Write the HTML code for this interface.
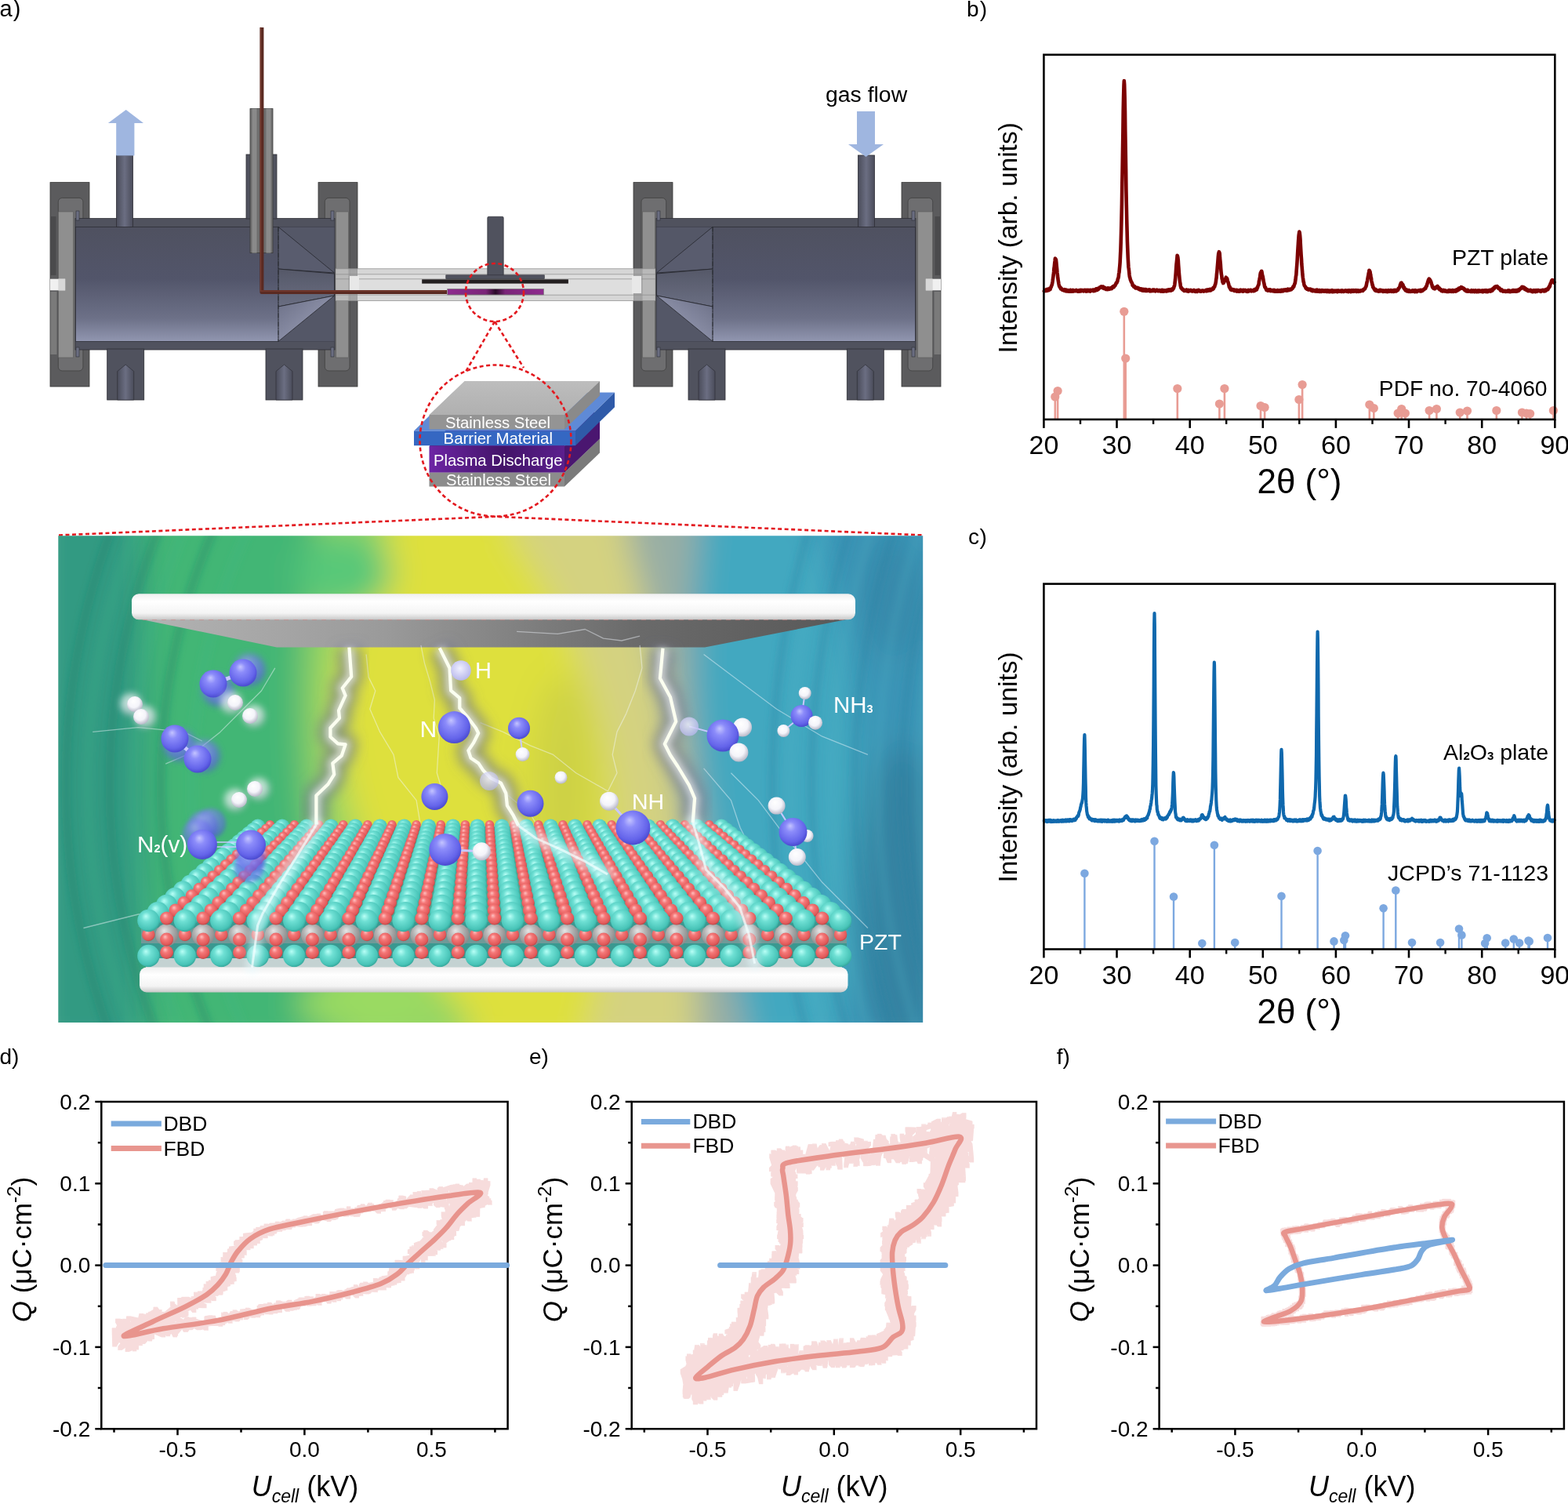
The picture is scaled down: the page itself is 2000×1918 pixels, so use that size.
<!DOCTYPE html>
<html><head><meta charset="utf-8"><title>Figure</title>
<style>html,body{margin:0;padding:0;background:#fff;}svg{display:block;}</style>
</head><body>
<svg width="2000" height="1918" viewBox="0 0 2000 1918" font-family="'Liberation Sans', Arial, sans-serif">
<defs>
<linearGradient id="bodyG" x1="0" y1="0" x2="0" y2="1">
  <stop offset="0" stop-color="#4f5160"/>
  <stop offset="0.45" stop-color="#52556a"/>
  <stop offset="0.8" stop-color="#6d7188"/>
  <stop offset="1" stop-color="#9196b0"/>
</linearGradient>
<linearGradient id="pipeG" x1="0" y1="0" x2="1" y2="0">
  <stop offset="0" stop-color="#4a4c5a"/>
  <stop offset="0.5" stop-color="#6b6e82"/>
  <stop offset="1" stop-color="#4a4c5a"/>
</linearGradient>
<linearGradient id="coneG" x1="0" y1="0" x2="1" y2="1">
  <stop offset="0" stop-color="#6a6e85"/>
  <stop offset="1" stop-color="#a4a8c0"/>
</linearGradient>
<linearGradient id="coneM" x1="0" y1="0" x2="0" y2="1">
  <stop offset="0" stop-color="#555868"/>
  <stop offset="1" stop-color="#6a6e82"/>
</linearGradient>
<linearGradient id="purpG" x1="0" y1="0" x2="1" y2="0">
  <stop offset="0" stop-color="#8e2a8e"/>
  <stop offset="0.4" stop-color="#7a2478"/>
  <stop offset="0.5" stop-color="#2a0a28"/>
  <stop offset="0.6" stop-color="#7a2478"/>
  <stop offset="1" stop-color="#8e2a8e"/>
</linearGradient>
<linearGradient id="ssTop" x1="0" y1="0" x2="0" y2="1">
  <stop offset="0" stop-color="#bdbdbd"/>
  <stop offset="1" stop-color="#b0b0b0"/>
</linearGradient>
<linearGradient id="plasmaG" x1="0" y1="0" x2="1" y2="0">
  <stop offset="0" stop-color="#6d25a5"/>
  <stop offset="0.55" stop-color="#431468"/>
  <stop offset="1" stop-color="#5c1f8e"/>
</linearGradient>

<linearGradient id="bgH" x1="74" y1="0" x2="1177" y2="0" gradientUnits="userSpaceOnUse">
  <stop offset="0" stop-color="#2f9a86"/>
  <stop offset="0.12" stop-color="#2f9a7c"/>
  <stop offset="0.25" stop-color="#3cae78"/>
  <stop offset="0.33" stop-color="#4cc378"/>
  <stop offset="0.38" stop-color="#60c870"/>
  <stop offset="0.43" stop-color="#b8dc58"/>
  <stop offset="0.47" stop-color="#dde23e"/>
  <stop offset="0.55" stop-color="#dfe040"/>
  <stop offset="0.62" stop-color="#d6d878"/>
  <stop offset="0.67" stop-color="#c8c47a"/>
  <stop offset="0.71" stop-color="#8cb4a0"/>
  <stop offset="0.76" stop-color="#48a8b4"/>
  <stop offset="0.88" stop-color="#3ca6bf"/>
  <stop offset="1" stop-color="#3a8eae"/>
</linearGradient>
<radialGradient id="ringL" cx="120" cy="980" r="330" gradientUnits="userSpaceOnUse">
  <stop offset="0" stop-color="#1f7a6a" stop-opacity="0.45"/>
  <stop offset="0.35" stop-color="#2a8a70" stop-opacity="0.3"/>
  <stop offset="0.55" stop-color="#2a8a70" stop-opacity="0"/>
  <stop offset="1" stop-color="#2a8a70" stop-opacity="0"/>
</radialGradient>
<radialGradient id="ringR" cx="1177" cy="1000" r="300" gradientUnits="userSpaceOnUse">
  <stop offset="0" stop-color="#2f6f98" stop-opacity="0.5"/>
  <stop offset="0.5" stop-color="#3a80a8" stop-opacity="0.25"/>
  <stop offset="1" stop-color="#3a80a8" stop-opacity="0"/>
</radialGradient>
<linearGradient id="bgV" x1="0" y1="683" x2="0" y2="1304" gradientUnits="userSpaceOnUse">
  <stop offset="0" stop-color="#ffffff" stop-opacity="0.05"/>
  <stop offset="0.6" stop-color="#ffffff" stop-opacity="0"/>
  <stop offset="1" stop-color="#80d060" stop-opacity="0.12"/>
</linearGradient>
<radialGradient id="gT" cx="0.45" cy="0.4" r="0.6" fx="0.38" fy="0.3">
  <stop offset="0" stop-color="#b8fff6"/>
  <stop offset="0.35" stop-color="#6fe0d4"/>
  <stop offset="0.85" stop-color="#48c4b8"/>
  <stop offset="1" stop-color="#35a89c"/>
</radialGradient>
<radialGradient id="gR" cx="0.45" cy="0.4" r="0.6" fx="0.38" fy="0.3">
  <stop offset="0" stop-color="#ffc0c0"/>
  <stop offset="0.35" stop-color="#f57878"/>
  <stop offset="0.85" stop-color="#e05858"/>
  <stop offset="1" stop-color="#b84444"/>
</radialGradient>
<radialGradient id="gG" cx="0.45" cy="0.4" r="0.6" fx="0.38" fy="0.3">
  <stop offset="0" stop-color="#e6e6e6"/>
  <stop offset="0.5" stop-color="#b4b4b4"/>
  <stop offset="1" stop-color="#8a8a8a"/>
</radialGradient>
<radialGradient id="gB" cx="0.45" cy="0.4" r="0.6" fx="0.4" fy="0.28">
  <stop offset="0" stop-color="#c4c4ff"/>
  <stop offset="0.3" stop-color="#8c8cfa"/>
  <stop offset="0.8" stop-color="#6464ea"/>
  <stop offset="1" stop-color="#4a4ad0"/>
</radialGradient>
<radialGradient id="gW" cx="0.45" cy="0.4" r="0.6" fx="0.4" fy="0.3">
  <stop offset="0" stop-color="#ffffff"/>
  <stop offset="0.6" stop-color="#f4f4fa"/>
  <stop offset="1" stop-color="#b8b8c8"/>
</radialGradient>
<radialGradient id="gV" cx="0.45" cy="0.4" r="0.6">
  <stop offset="0" stop-color="#f0f0ff"/>
  <stop offset="1" stop-color="#b8b8ec"/>
</radialGradient>
<linearGradient id="plateTop" x1="0" y1="0" x2="0" y2="1">
  <stop offset="0" stop-color="#f0f0f0"/>
  <stop offset="0.3" stop-color="#ffffff"/>
  <stop offset="0.75" stop-color="#f4f4f4"/>
  <stop offset="1" stop-color="#c8c8c8"/>
</linearGradient>
<linearGradient id="plateUnder" x1="170" y1="0" x2="1090" y2="0" gradientUnits="userSpaceOnUse">
  <stop offset="0" stop-color="#b4b4b4"/>
  <stop offset="0.35" stop-color="#9a9a9a"/>
  <stop offset="0.7" stop-color="#6a6a6a"/>
  <stop offset="1" stop-color="#585858"/>
</linearGradient>
<filter id="blur2" x="-20%" y="-20%" width="140%" height="140%"><feGaussianBlur stdDeviation="2.5"/></filter>
<filter id="blur4" x="-30%" y="-30%" width="160%" height="160%"><feGaussianBlur stdDeviation="4"/></filter>
<filter id="blur8" x="-50%" y="-50%" width="200%" height="200%"><feGaussianBlur stdDeviation="8"/></filter>
<filter id="blur20" x="-50%" y="-50%" width="200%" height="200%"><feGaussianBlur stdDeviation="20"/></filter>
<clipPath id="illClip"><rect x="74.3" y="683.3" width="1102.9" height="620.7"/></clipPath>
<filter id="dil" x="-5%" y="-5%" width="110%" height="110%"><feMorphology operator="dilate" radius="2.2"/></filter></defs>
<rect width="2000" height="1918" fill="#fff"/>
<text x="-0.5" y="21.3" font-size="29" letter-spacing="1">a)</text>
<g><rect x="64" y="232.6" width="50" height="260.4" fill="#5b5b5d" stroke="#3a3a3a" stroke-width="0.8"/>
<rect x="406" y="232.6" width="50" height="260.4" fill="#5b5b5d" stroke="#3a3a3a" stroke-width="0.8"/>
<rect x="74.3" y="252.4" width="31.60000000000001" height="220.5" rx="5" fill="#6e6e70" stroke="#404040" stroke-width="0.8"/>
<rect x="74.3" y="270" width="19.200000000000003" height="186" fill="#8f8f8f" stroke="#5a5a5a" stroke-width="0.6"/>
<rect x="414.3" y="252.4" width="31.69999999999999" height="220.5" rx="5" fill="#6e6e70" stroke="#404040" stroke-width="0.8"/>
<rect x="428.6" y="270" width="16.0" height="186" fill="#8f8f8f" stroke="#5a5a5a" stroke-width="0.6"/>
<rect x="96" y="278.6" width="331" height="167.4" fill="#50525e" stroke="#2e2f36" stroke-width="0.8"/>
<rect x="136.7" y="445" width="47.0" height="65" fill="#50525e" stroke="#2e2f36" stroke-width="0.8"/>
<path d="M149.7 510 L149.7 473.5 L160.2 465 L170.7 473.5 L170.7 510Z" fill="url(#pipeG)" stroke="#2e2f36" stroke-width="0.7"/>
<rect x="339" y="445" width="47" height="65" fill="#50525e" stroke="#2e2f36" stroke-width="0.8"/>
<path d="M352.0 510 L352.0 473.5 L362.5 465 L373.0 473.5 L373.0 510Z" fill="url(#pipeG)" stroke="#2e2f36" stroke-width="0.7"/>
<rect x="96.5" y="289.4" width="330" height="146" fill="url(#bodyG)" stroke="#2e2f36" stroke-width="0.8"/>
<polygon points="355,289.4 426.5,289.4 426.5,435.4 355,435.4" fill="#545767"/>
<polygon points="355,289.4 426.5,348 355,343" fill="#595c6e" stroke="#25262c" stroke-width="0.8"/>
<polygon points="355,343 426.5,349 426.5,377 355,391" fill="url(#coneM)" stroke="#25262c" stroke-width="0.8"/>
<polygon points="355,391 426.5,377 355,435.4" fill="url(#coneG)" stroke="#25262c" stroke-width="0.8"/>
<line x1="355" y1="289.4" x2="355" y2="435.4" stroke="#25262c" stroke-width="0.8" stroke-dasharray="6 2 1 2"/>
<rect x="64" y="355.7" width="19" height="14.6" fill="#f0f0f0"/>
<rect x="74.3" y="355.7" width="9" height="14.6" fill="#d8d8d8"/>
<rect x="64.5" y="276" width="7" height="75" fill="#4a4a4c"/>
<rect x="64.5" y="372" width="8" height="80" fill="#7a7a7a"/>
<rect x="97" y="269" width="4" height="12" fill="#6a6d80" stroke="#2e2f36" stroke-width="0.6"/>
<rect x="422" y="269" width="4" height="12" fill="#6a6d80" stroke="#2e2f36" stroke-width="0.6"/>
<rect x="97" y="443" width="4" height="12" fill="#6a6d80" stroke="#2e2f36" stroke-width="0.6"/>
<rect x="422" y="443" width="4" height="12" fill="#6a6d80" stroke="#2e2f36" stroke-width="0.6"/>
<rect x="148.5" y="198" width="21" height="91.5" fill="url(#pipeG)" stroke="#2e2f36" stroke-width="0.8"/></g>
<g transform="translate(1264 0) scale(-1 1)"><rect x="64" y="232.6" width="50" height="260.4" fill="#5b5b5d" stroke="#3a3a3a" stroke-width="0.8"/>
<rect x="406" y="232.6" width="50" height="260.4" fill="#5b5b5d" stroke="#3a3a3a" stroke-width="0.8"/>
<rect x="74.3" y="252.4" width="31.60000000000001" height="220.5" rx="5" fill="#6e6e70" stroke="#404040" stroke-width="0.8"/>
<rect x="74.3" y="270" width="19.200000000000003" height="186" fill="#8f8f8f" stroke="#5a5a5a" stroke-width="0.6"/>
<rect x="414.3" y="252.4" width="31.69999999999999" height="220.5" rx="5" fill="#6e6e70" stroke="#404040" stroke-width="0.8"/>
<rect x="428.6" y="270" width="16.0" height="186" fill="#8f8f8f" stroke="#5a5a5a" stroke-width="0.6"/>
<rect x="96" y="278.6" width="331" height="167.4" fill="#50525e" stroke="#2e2f36" stroke-width="0.8"/>
<rect x="136.7" y="445" width="47.0" height="65" fill="#50525e" stroke="#2e2f36" stroke-width="0.8"/>
<path d="M149.7 510 L149.7 473.5 L160.2 465 L170.7 473.5 L170.7 510Z" fill="url(#pipeG)" stroke="#2e2f36" stroke-width="0.7"/>
<rect x="339" y="445" width="47" height="65" fill="#50525e" stroke="#2e2f36" stroke-width="0.8"/>
<path d="M352.0 510 L352.0 473.5 L362.5 465 L373.0 473.5 L373.0 510Z" fill="url(#pipeG)" stroke="#2e2f36" stroke-width="0.7"/>
<rect x="96.5" y="289.4" width="330" height="146" fill="url(#bodyG)" stroke="#2e2f36" stroke-width="0.8"/>
<polygon points="355,289.4 426.5,289.4 426.5,435.4 355,435.4" fill="#545767"/>
<polygon points="355,289.4 426.5,348 355,343" fill="#595c6e" stroke="#25262c" stroke-width="0.8"/>
<polygon points="355,343 426.5,349 426.5,377 355,391" fill="url(#coneM)" stroke="#25262c" stroke-width="0.8"/>
<polygon points="355,391 426.5,377 355,435.4" fill="url(#coneG)" stroke="#25262c" stroke-width="0.8"/>
<line x1="355" y1="289.4" x2="355" y2="435.4" stroke="#25262c" stroke-width="0.8" stroke-dasharray="6 2 1 2"/>
<rect x="64" y="355.7" width="19" height="14.6" fill="#f0f0f0"/>
<rect x="74.3" y="355.7" width="9" height="14.6" fill="#d8d8d8"/>
<rect x="64.5" y="276" width="7" height="75" fill="#4a4a4c"/>
<rect x="64.5" y="372" width="8" height="80" fill="#7a7a7a"/>
<rect x="97" y="269" width="4" height="12" fill="#6a6d80" stroke="#2e2f36" stroke-width="0.6"/>
<rect x="422" y="269" width="4" height="12" fill="#6a6d80" stroke="#2e2f36" stroke-width="0.6"/>
<rect x="97" y="443" width="4" height="12" fill="#6a6d80" stroke="#2e2f36" stroke-width="0.6"/>
<rect x="422" y="443" width="4" height="12" fill="#6a6d80" stroke="#2e2f36" stroke-width="0.6"/>
<rect x="148.5" y="198" width="21" height="91.5" fill="url(#pipeG)" stroke="#2e2f36" stroke-width="0.8"/></g>
<g opacity="0.6"><rect x="428" y="342.7" width="28" height="40.8" fill="#d6d6d6"/><rect x="808" y="342.7" width="28" height="40.8" fill="#d6d6d6"/></g>
<rect x="456" y="342.7" width="352" height="40.8" fill="#d6d6d6"/>
<rect x="456" y="349.8" width="352" height="26.4" fill="#dedede"/>
<line x1="428" y1="342.7" x2="836" y2="342.7" stroke="#8c8c8c" stroke-width="0.9" stroke-opacity="0.8"/>
<line x1="428" y1="349.8" x2="836" y2="349.8" stroke="#8c8c8c" stroke-width="0.9" stroke-opacity="0.8"/>
<line x1="428" y1="355.8" x2="836" y2="355.8" stroke="#8c8c8c" stroke-width="0.9" stroke-opacity="0.8"/>
<line x1="428" y1="376.2" x2="836" y2="376.2" stroke="#8c8c8c" stroke-width="0.9" stroke-opacity="0.8"/>
<line x1="428" y1="383.5" x2="836" y2="383.5" stroke="#8c8c8c" stroke-width="0.9" stroke-opacity="0.8"/>
<rect x="446" y="352" width="12" height="22" fill="#e8e8e8"/>
<rect x="806" y="352" width="12" height="22" fill="#e8e8e8"/>
<rect x="621.8" y="276.3" width="20.4" height="76" rx="1.5" fill="#50525e" stroke="#2e2f36" stroke-width="0.7"/>
<rect x="568.8" y="350.8" width="125.5" height="4.8" fill="#50525e" stroke="#2e2f36" stroke-width="0.6"/>
<rect x="538.2" y="356.3" width="186.7" height="5.3" fill="#231f20"/>
<rect x="570.8" y="368.6" width="122.5" height="7.3" fill="url(#purpG)" stroke="#666" stroke-width="0.6"/>
<rect x="314" y="197" width="39" height="82" fill="#50525e" stroke="#2e2f36" stroke-width="0.8"/>
<rect x="319" y="138.6" width="29" height="184" fill="#6e6e6e" stroke="#3a3a3a" stroke-width="0.8"/>
<rect x="321.5" y="138.6" width="6" height="184" fill="#8a8a8a"/>
<rect x="339.5" y="138.6" width="6" height="184" fill="#8a8a8a"/>
<path d="M333.9 35 L333.9 372.5 L570 372.5" fill="none" stroke="#5a2a22" stroke-width="5" stroke-linejoin="round"/>
<path d="M333.9 36 L333.9 372.5 L570 372.5" fill="none" stroke="#7a3c30" stroke-width="1.2" stroke-linejoin="round" transform="translate(-1.3 -1.3)"/>
<polygon points="148.2,198.6 148.2,157.1 137.9,157.1 160.7,140 183,157.1 171.4,157.1 171.4,198.6" fill="#9fb6e0"/>
<polygon points="1093,142 1116,142 1116,184 1127,184 1104.5,200 1082,184 1093,184" fill="#9fb6e0"/>
<text x="1053" y="130" font-family="'Liberation Sans', Arial, sans-serif" font-size="28.4">gas flow</text>
<polygon points="547.5,602.5 592.5,559.5 765,559.5 720,602.5" fill="#9a9a9a"/><polygon points="720,602.5 765,559.5 765,577.5 720,620.5" fill="#7a7a7a"/><rect x="547.5" y="602.5" width="172.5" height="18.0" fill="#8c8c8c"/>
<polygon points="547.5,569 592.5,526 765,526 720,569" fill="#5a1d86"/><polygon points="720,569 765,526 765,559.5 720,602.5" fill="#4a1670"/><rect x="547.5" y="569" width="172.5" height="33.5" fill="url(#plasmaG)"/>
<polygon points="528,549.5 578,500.5 784,500.5 734,549.5" fill="#5f8ad6"/><polygon points="734,549.5 784,500.5 784,519.2 734,568.2" fill="#2f5aa8"/><rect x="528" y="549.5" width="206" height="18.700000000000045" fill="#3567c2"/>
<polygon points="547.5,529 592.5,486 765,486 720,529" fill="url(#ssTop)"/><polygon points="720,529 765,486 765,504.5 720,547.5" fill="#8a8a8a"/><rect x="547.5" y="529" width="172.5" height="18.5" fill="#949494"/>
<text x="635" y="546" font-family="'Liberation Sans', Arial, sans-serif" fill="#fff" text-anchor="middle" font-size="20.3">Stainless Steel</text>
<text x="635.3" y="566.3" font-family="'Liberation Sans', Arial, sans-serif" fill="#fff" text-anchor="middle" font-size="20.4">Barrier Material</text>
<text x="635.3" y="594.4" font-family="'Liberation Sans', Arial, sans-serif" fill="#fff" text-anchor="middle" font-size="20.3">Plasma Discharge</text>
<text x="636" y="618.6" font-family="'Liberation Sans', Arial, sans-serif" fill="#fff" text-anchor="middle" font-size="20.3">Stainless Steel</text>
<circle cx="631" cy="373" r="37" stroke="#e3191f" stroke-width="2.6" fill="none" stroke-dasharray="5 3.5"/>
<path d="M631 410 L594 474 M631 410 L668 469" stroke="#e3191f" stroke-width="2.6" fill="none" stroke-dasharray="5 3.5"/>
<circle cx="632" cy="562" r="96.5" stroke="#e3191f" stroke-width="2.6" fill="none" stroke-dasharray="5 3.5"/>
<path d="M75 682.5 L632 658.8 L1178 682.5" stroke="#e3191f" stroke-width="2.6" fill="none" stroke-dasharray="5 3.5"/>
<g clip-path="url(#illClip)">
<g filter="url(#blur20)">
<path d="M40 640 L185 640 L185 683 Q189.5 960 188 1304 L188 1345 L40 1345 L40 1304 Q40.0 960 40 683 Z" fill="#309a82"/>
<path d="M183 640 L407 640 L407 683 Q357.5 960 442 1304 L442 1345 L186 1345 L186 1304 Q187.5 960 183 683 Z" fill="#42b674"/>
<path d="M405 640 L497 640 L497 683 Q322.5 960 602 1304 L602 1345 L440 1345 L440 1304 Q355.5 960 405 683 Z" fill="#94d464"/>
<path d="M495 640 L655 640 L655 683 Q854.5 960 752 1304 L752 1345 L600 1345 L600 1304 Q320.5 960 495 683 Z" fill="#dee03e"/>
<path d="M653 640 L802 640 L802 683 Q881.0 960 892 1304 L892 1345 L750 1345 L750 1304 Q852.5 960 653 683 Z" fill="#d4d280"/>
<path d="M800 640 L893 640 L893 683 Q861.5 960 952 1304 L952 1345 L890 1345 L890 1304 Q879.0 960 800 683 Z" fill="#98aea4"/>
<path d="M891 640 L1042 640 L1042 683 Q1144.5 960 1077 1304 L1077 1345 L950 1345 L950 1304 Q859.5 960 891 683 Z" fill="#42a8c0"/>
<path d="M1040 640 L1217 640 L1217 683 Q1217.0 960 1217 1304 L1217 1345 L1075 1345 L1075 1304 Q1142.5 960 1040 683 Z" fill="#3a94b6"/>
<ellipse cx="440" cy="730" rx="60" ry="50" fill="#58c878"/>
<ellipse cx="720" cy="1000" rx="40" ry="140" fill="#c8cc48" opacity="0.7"/>
<ellipse cx="470" cy="1280" rx="90" ry="40" fill="#9ada62"/>
<ellipse cx="1150" cy="1150" rx="60" ry="200" fill="#367e9e" opacity="0.8"/>
<ellipse cx="1140" cy="760" rx="40" ry="80" fill="#3886a6" opacity="0.7"/>
</g>
<circle cx="1020" cy="1000" r="936" fill="none" stroke="#1f7a66" stroke-opacity="0.32" stroke-width="11" filter="url(#blur4)"/>
<circle cx="1020" cy="1000" r="908" fill="none" stroke="#44b48a" stroke-opacity="0.22" stroke-width="11" filter="url(#blur4)"/>
<circle cx="1020" cy="1000" r="880" fill="none" stroke="#1f7a66" stroke-opacity="0.32" stroke-width="11" filter="url(#blur4)"/>
<circle cx="1020" cy="1000" r="850" fill="none" stroke="#44b48a" stroke-opacity="0.22" stroke-width="11" filter="url(#blur4)"/>
<circle cx="1020" cy="1000" r="815" fill="none" stroke="#1f7a66" stroke-opacity="0.32" stroke-width="11" filter="url(#blur4)"/>
<circle cx="1020" cy="1000" r="775" fill="none" stroke="#44b48a" stroke-opacity="0.22" stroke-width="11" filter="url(#blur4)"/>
<circle cx="2150" cy="1000" r="1165" fill="none" stroke="#2a7fa0" stroke-opacity="0.3" stroke-width="10" filter="url(#blur4)"/>
<circle cx="2150" cy="1000" r="1142" fill="none" stroke="#52b6c8" stroke-opacity="0.2" stroke-width="10" filter="url(#blur4)"/>
<circle cx="2150" cy="1000" r="1115" fill="none" stroke="#2a7fa0" stroke-opacity="0.3" stroke-width="10" filter="url(#blur4)"/>
<circle cx="2150" cy="1000" r="1088" fill="none" stroke="#52b6c8" stroke-opacity="0.2" stroke-width="10" filter="url(#blur4)"/>
<circle cx="2150" cy="1000" r="1060" fill="none" stroke="#2a7fa0" stroke-opacity="0.3" stroke-width="10" filter="url(#blur4)"/>
<circle cx="2150" cy="1000" r="1030" fill="none" stroke="#52b6c8" stroke-opacity="0.2" stroke-width="10" filter="url(#blur4)"/>
<circle cx="2150" cy="1000" r="1000" fill="none" stroke="#2a7fa0" stroke-opacity="0.3" stroke-width="10" filter="url(#blur4)"/>
<circle cx="2150" cy="1000" r="978" fill="none" stroke="#52b6c8" stroke-opacity="0.2" stroke-width="10" filter="url(#blur4)"/>
<polygon points="176,789 1085,789 899,825.5 353,825.5" fill="url(#plateUnder)"/>
<rect x="168" y="757.3" width="923" height="33" rx="9" fill="url(#plateTop)"/>
<line x1="182" y1="790.5" x2="1078" y2="790.5" stroke="#d08888" stroke-width="1" stroke-dasharray="6 6" opacity="0.6"/>
<path d="M467.1 834.5 L470.1 863.6 L478.8 881 L471.8 904.3 L484.6 933.4 L502 962.4 L507.9 991.5 L531.1 1020.6 L536.9 1055.5" fill="none" stroke="#f4f8ff" stroke-opacity="0.45" stroke-width="1.3" stroke-linejoin="round"/>
<path d="M536.9 822.9 L541.6 846.1 L548.6 869.4 L554.4 892.7 L553.2 915.9 L560.2 939.2 L557.3 985.7 L566 1014.8" fill="none" stroke="#f4f8ff" stroke-opacity="0.45" stroke-width="1.3" stroke-linejoin="round"/>
<path d="M816.1 822.9 L819 851.9 L810.3 881 L798.7 910.1 L787 933.4 L781.2 962.4 L787 985.7 L775.4 1009" fill="none" stroke="#f4f8ff" stroke-opacity="0.45" stroke-width="1.3" stroke-linejoin="round"/>
<path d="M659.1 805.4 L711.4 808.3 L746.3 802.5 L769.6 814.1 L792.9 817 L816.1 811.2" fill="none" stroke="#f4f8ff" stroke-opacity="0.45" stroke-width="1.3" stroke-linejoin="round"/>
<path d="M612.6 921.7 L641.6 933.4 L676.5 950.8 L705.6 962.4 L734.7 985.7 L775.4 1009" fill="none" stroke="#f4f8ff" stroke-opacity="0.45" stroke-width="1.3" stroke-linejoin="round"/>
<path d="M211.2 974.1 L251.9 956.6 L281 933.4 L310.1 904.3 L333.4 881 L350.8 851.9" fill="none" stroke="#f4f8ff" stroke-opacity="0.45" stroke-width="1.3" stroke-linejoin="round"/>
<path d="M118.2 933.4 L176.3 927.6 L234.5 933.4 L257.8 945" fill="none" stroke="#f4f8ff" stroke-opacity="0.45" stroke-width="1.3" stroke-linejoin="round"/>
<path d="M897.6 834.5 L944.1 869.4 L990.6 904.3 L1048.8 939.2 L1106.9 962.4" fill="none" stroke="#f4f8ff" stroke-opacity="0.45" stroke-width="1.3" stroke-linejoin="round"/>
<path d="M932.4 985.7 L967.3 1020.6 L1002.2 1067.1 L1048.8 1125.3 L1106.9 1183.5" fill="none" stroke="#f4f8ff" stroke-opacity="0.45" stroke-width="1.3" stroke-linejoin="round"/>
<path d="M304.3 1183.5 L362.4 1160.2 L409 1125.3 L420.6 1090.4" fill="none" stroke="#f4f8ff" stroke-opacity="0.45" stroke-width="1.3" stroke-linejoin="round"/>
<path d="M897.6 979.9 L932.4 1020.6 L944.1 1055.5 L967.3 1102" fill="none" stroke="#f4f8ff" stroke-opacity="0.45" stroke-width="1.3" stroke-linejoin="round"/>
<path d="M641.6 1009 L676.5 1038.1 L694 1067.1 L699.8 1125.3 L711.4 1183.5 L728.9 1235.8" fill="none" stroke="#f4f8ff" stroke-opacity="0.45" stroke-width="1.3" stroke-linejoin="round"/>
<path d="M106.5 1183.5 L176.3 1166 L251.9 1160.2 L292.7 1148.6" fill="none" stroke="#f4f8ff" stroke-opacity="0.45" stroke-width="1.3" stroke-linejoin="round"/>
<path d="M467.1 1102 L455.5 1136.9 L432.2 1171.8 L420.6 1212.6 L409 1241.6" fill="none" stroke="#f4f8ff" stroke-opacity="0.45" stroke-width="1.3" stroke-linejoin="round"/>
<path d="M445.4 825.7 L448.2 863 L436.7 877.5 L440.6 887 L432 906 L433 915.8 L421.4 928.2 L421.4 939.7 L431 948.4 L440.6 949.3 L435.8 963.7 L424.3 973.3 L426.2 987.6 L418.5 1000 L403.4 1014.4 L403.4 1051.8" fill="none" stroke="#6a7290" stroke-opacity="0.6" stroke-width="30" stroke-linejoin="round" filter="url(#blur8)"/>
<path d="M560.7 826.4 L573.5 852 L575.1 880.6 L586.3 890.2 L586.3 903 L597.4 915.7 L607 928.5 L610.2 935 L603.8 947.7 L597.4 957.2 L600.6 966.8 L610.2 973.2 L616.6 982.8 L626.2 992.3 L639 998.7 L645.3 1011.5 L646.9 1027.4 L654.9 1040.2 L661.3 1053" fill="none" stroke="#6a7290" stroke-opacity="0.6" stroke-width="30" stroke-linejoin="round" filter="url(#blur8)"/>
<path d="M845.5 826.7 L841.9 865 L855 889 L862.2 920 L847.8 948.8 L855 963 L864.6 977.5 L879 1001.4 L886.1 1018 L883.7 1049" fill="none" stroke="#6a7290" stroke-opacity="0.6" stroke-width="30" stroke-linejoin="round" filter="url(#blur8)"/>
<polygon points="175.4,1182 319.5,1053.9 929.5,1053.9 1086,1182" fill="#3f9f98" opacity="0.9"/>
<rect x="180" y="1176" width="900" height="48" fill="#3a9890"/>
<rect x="180" y="1183" width="900" height="20" fill="#6f9a98"/>
<rect x="186" y="1222" width="888" height="14" fill="#c4d2d2"/>
<circle cx="212.6" cy="1214.5" r="8.5" fill="url(#gR)"/>
<circle cx="259.1" cy="1214.5" r="8.5" fill="url(#gR)"/>
<circle cx="305.5" cy="1214.5" r="8.5" fill="url(#gR)"/>
<circle cx="352" cy="1214.5" r="8.5" fill="url(#gR)"/>
<circle cx="398.4" cy="1214.5" r="8.5" fill="url(#gR)"/>
<circle cx="444.9" cy="1214.5" r="8.5" fill="url(#gR)"/>
<circle cx="491.3" cy="1214.5" r="8.5" fill="url(#gR)"/>
<circle cx="537.8" cy="1214.5" r="8.5" fill="url(#gR)"/>
<circle cx="584.2" cy="1214.5" r="8.5" fill="url(#gR)"/>
<circle cx="630.7" cy="1214.5" r="8.5" fill="url(#gR)"/>
<circle cx="677.1" cy="1214.5" r="8.5" fill="url(#gR)"/>
<circle cx="723.6" cy="1214.5" r="8.5" fill="url(#gR)"/>
<circle cx="770" cy="1214.5" r="8.5" fill="url(#gR)"/>
<circle cx="816.5" cy="1214.5" r="8.5" fill="url(#gR)"/>
<circle cx="862.9" cy="1214.5" r="8.5" fill="url(#gR)"/>
<circle cx="909.4" cy="1214.5" r="8.5" fill="url(#gR)"/>
<circle cx="955.8" cy="1214.5" r="8.5" fill="url(#gR)"/>
<circle cx="1002.3" cy="1214.5" r="8.5" fill="url(#gR)"/>
<circle cx="1048.7" cy="1214.5" r="8.5" fill="url(#gR)"/>
<circle cx="189.4" cy="1219" r="14.2" fill="url(#gT)"/>
<circle cx="235.9" cy="1219" r="14.2" fill="url(#gT)"/>
<circle cx="282.3" cy="1219" r="14.2" fill="url(#gT)"/>
<circle cx="328.8" cy="1219" r="14.2" fill="url(#gT)"/>
<circle cx="375.2" cy="1219" r="14.2" fill="url(#gT)"/>
<circle cx="421.6" cy="1219" r="14.2" fill="url(#gT)"/>
<circle cx="468.1" cy="1219" r="14.2" fill="url(#gT)"/>
<circle cx="514.6" cy="1219" r="14.2" fill="url(#gT)"/>
<circle cx="561" cy="1219" r="14.2" fill="url(#gT)"/>
<circle cx="607.5" cy="1219" r="14.2" fill="url(#gT)"/>
<circle cx="653.9" cy="1219" r="14.2" fill="url(#gT)"/>
<circle cx="700.4" cy="1219" r="14.2" fill="url(#gT)"/>
<circle cx="746.8" cy="1219" r="14.2" fill="url(#gT)"/>
<circle cx="793.2" cy="1219" r="14.2" fill="url(#gT)"/>
<circle cx="839.7" cy="1219" r="14.2" fill="url(#gT)"/>
<circle cx="886.1" cy="1219" r="14.2" fill="url(#gT)"/>
<circle cx="932.6" cy="1219" r="14.2" fill="url(#gT)"/>
<circle cx="979.1" cy="1219" r="14.2" fill="url(#gT)"/>
<circle cx="1025.5" cy="1219" r="14.2" fill="url(#gT)"/>
<circle cx="1072" cy="1219" r="14.2" fill="url(#gT)"/>
<circle cx="189.4" cy="1192" r="8.3" fill="url(#gR)"/>
<circle cx="235.9" cy="1192" r="8.3" fill="url(#gR)"/>
<circle cx="282.3" cy="1192" r="8.3" fill="url(#gR)"/>
<circle cx="328.8" cy="1192" r="8.3" fill="url(#gR)"/>
<circle cx="375.2" cy="1192" r="8.3" fill="url(#gR)"/>
<circle cx="421.6" cy="1192" r="8.3" fill="url(#gR)"/>
<circle cx="468.1" cy="1192" r="8.3" fill="url(#gR)"/>
<circle cx="514.6" cy="1192" r="8.3" fill="url(#gR)"/>
<circle cx="561" cy="1192" r="8.3" fill="url(#gR)"/>
<circle cx="607.5" cy="1192" r="8.3" fill="url(#gR)"/>
<circle cx="653.9" cy="1192" r="8.3" fill="url(#gR)"/>
<circle cx="700.4" cy="1192" r="8.3" fill="url(#gR)"/>
<circle cx="746.8" cy="1192" r="8.3" fill="url(#gR)"/>
<circle cx="793.2" cy="1192" r="8.3" fill="url(#gR)"/>
<circle cx="839.7" cy="1192" r="8.3" fill="url(#gR)"/>
<circle cx="886.1" cy="1192" r="8.3" fill="url(#gR)"/>
<circle cx="932.6" cy="1192" r="8.3" fill="url(#gR)"/>
<circle cx="979.1" cy="1192" r="8.3" fill="url(#gR)"/>
<circle cx="1025.5" cy="1192" r="8.3" fill="url(#gR)"/>
<circle cx="1072" cy="1192" r="8.3" fill="url(#gR)"/>
<circle cx="212.6" cy="1192.5" r="14.3" fill="url(#gG)"/>
<circle cx="259.1" cy="1192.5" r="14.3" fill="url(#gG)"/>
<circle cx="305.5" cy="1192.5" r="14.3" fill="url(#gG)"/>
<circle cx="352" cy="1192.5" r="14.3" fill="url(#gG)"/>
<circle cx="398.4" cy="1192.5" r="14.3" fill="url(#gG)"/>
<circle cx="444.9" cy="1192.5" r="14.3" fill="url(#gG)"/>
<circle cx="491.3" cy="1192.5" r="14.3" fill="url(#gG)"/>
<circle cx="537.8" cy="1192.5" r="14.3" fill="url(#gG)"/>
<circle cx="584.2" cy="1192.5" r="14.3" fill="url(#gG)"/>
<circle cx="630.7" cy="1192.5" r="14.3" fill="url(#gG)"/>
<circle cx="677.1" cy="1192.5" r="14.3" fill="url(#gG)"/>
<circle cx="723.6" cy="1192.5" r="14.3" fill="url(#gG)"/>
<circle cx="770" cy="1192.5" r="14.3" fill="url(#gG)"/>
<circle cx="816.5" cy="1192.5" r="14.3" fill="url(#gG)"/>
<circle cx="862.9" cy="1192.5" r="14.3" fill="url(#gG)"/>
<circle cx="909.4" cy="1192.5" r="14.3" fill="url(#gG)"/>
<circle cx="955.8" cy="1192.5" r="14.3" fill="url(#gG)"/>
<circle cx="1002.3" cy="1192.5" r="14.3" fill="url(#gG)"/>
<circle cx="1048.7" cy="1192.5" r="14.3" fill="url(#gG)"/>
<circle cx="212.6" cy="1198" r="8.5" fill="url(#gR)"/>
<circle cx="259.1" cy="1198" r="8.5" fill="url(#gR)"/>
<circle cx="305.5" cy="1198" r="8.5" fill="url(#gR)"/>
<circle cx="352" cy="1198" r="8.5" fill="url(#gR)"/>
<circle cx="398.4" cy="1198" r="8.5" fill="url(#gR)"/>
<circle cx="444.9" cy="1198" r="8.5" fill="url(#gR)"/>
<circle cx="491.3" cy="1198" r="8.5" fill="url(#gR)"/>
<circle cx="537.8" cy="1198" r="8.5" fill="url(#gR)"/>
<circle cx="584.2" cy="1198" r="8.5" fill="url(#gR)"/>
<circle cx="630.7" cy="1198" r="8.5" fill="url(#gR)"/>
<circle cx="677.1" cy="1198" r="8.5" fill="url(#gR)"/>
<circle cx="723.6" cy="1198" r="8.5" fill="url(#gR)"/>
<circle cx="770" cy="1198" r="8.5" fill="url(#gR)"/>
<circle cx="816.5" cy="1198" r="8.5" fill="url(#gR)"/>
<circle cx="862.9" cy="1198" r="8.5" fill="url(#gR)"/>
<circle cx="909.4" cy="1198" r="8.5" fill="url(#gR)"/>
<circle cx="955.8" cy="1198" r="8.5" fill="url(#gR)"/>
<circle cx="1002.3" cy="1198" r="8.5" fill="url(#gR)"/>
<circle cx="1048.7" cy="1198" r="8.5" fill="url(#gR)"/>
<circle cx="344.4" cy="1051.9" r="5.8" fill="url(#gR)"/>
<circle cx="375.5" cy="1051.9" r="5.8" fill="url(#gR)"/>
<circle cx="406.7" cy="1051.9" r="5.8" fill="url(#gR)"/>
<circle cx="437.8" cy="1051.9" r="5.8" fill="url(#gR)"/>
<circle cx="468.9" cy="1051.9" r="5.8" fill="url(#gR)"/>
<circle cx="500" cy="1051.9" r="5.8" fill="url(#gR)"/>
<circle cx="531.1" cy="1051.9" r="5.8" fill="url(#gR)"/>
<circle cx="562.3" cy="1051.9" r="5.8" fill="url(#gR)"/>
<circle cx="593.4" cy="1051.9" r="5.8" fill="url(#gR)"/>
<circle cx="624.5" cy="1051.9" r="5.8" fill="url(#gR)"/>
<circle cx="655.6" cy="1051.9" r="5.8" fill="url(#gR)"/>
<circle cx="686.8" cy="1051.9" r="5.8" fill="url(#gR)"/>
<circle cx="717.9" cy="1051.9" r="5.8" fill="url(#gR)"/>
<circle cx="749" cy="1051.9" r="5.8" fill="url(#gR)"/>
<circle cx="780.1" cy="1051.9" r="5.8" fill="url(#gR)"/>
<circle cx="811.2" cy="1051.9" r="5.8" fill="url(#gR)"/>
<circle cx="842.4" cy="1051.9" r="5.8" fill="url(#gR)"/>
<circle cx="873.5" cy="1051.9" r="5.8" fill="url(#gR)"/>
<circle cx="904.6" cy="1051.9" r="5.8" fill="url(#gR)"/>
<circle cx="328.9" cy="1053.9" r="9.5" fill="url(#gT)"/>
<circle cx="360" cy="1053.9" r="9.5" fill="url(#gT)"/>
<circle cx="391.1" cy="1053.9" r="9.5" fill="url(#gT)"/>
<circle cx="422.2" cy="1053.9" r="9.5" fill="url(#gT)"/>
<circle cx="453.3" cy="1053.9" r="9.5" fill="url(#gT)"/>
<circle cx="484.5" cy="1053.9" r="9.5" fill="url(#gT)"/>
<circle cx="515.6" cy="1053.9" r="9.5" fill="url(#gT)"/>
<circle cx="546.7" cy="1053.9" r="9.5" fill="url(#gT)"/>
<circle cx="577.8" cy="1053.9" r="9.5" fill="url(#gT)"/>
<circle cx="609" cy="1053.9" r="9.5" fill="url(#gT)"/>
<circle cx="640.1" cy="1053.9" r="9.5" fill="url(#gT)"/>
<circle cx="671.2" cy="1053.9" r="9.5" fill="url(#gT)"/>
<circle cx="702.3" cy="1053.9" r="9.5" fill="url(#gT)"/>
<circle cx="733.4" cy="1053.9" r="9.5" fill="url(#gT)"/>
<circle cx="764.6" cy="1053.9" r="9.5" fill="url(#gT)"/>
<circle cx="795.7" cy="1053.9" r="9.5" fill="url(#gT)"/>
<circle cx="826.8" cy="1053.9" r="9.5" fill="url(#gT)"/>
<circle cx="857.9" cy="1053.9" r="9.5" fill="url(#gT)"/>
<circle cx="889" cy="1053.9" r="9.5" fill="url(#gT)"/>
<circle cx="920.2" cy="1053.9" r="9.5" fill="url(#gT)"/>
<circle cx="339.1" cy="1056.7" r="5.9" fill="url(#gR)"/>
<circle cx="370.9" cy="1056.7" r="5.9" fill="url(#gR)"/>
<circle cx="402.6" cy="1056.7" r="5.9" fill="url(#gR)"/>
<circle cx="434.3" cy="1056.7" r="5.9" fill="url(#gR)"/>
<circle cx="466.1" cy="1056.7" r="5.9" fill="url(#gR)"/>
<circle cx="497.8" cy="1056.7" r="5.9" fill="url(#gR)"/>
<circle cx="529.5" cy="1056.7" r="5.9" fill="url(#gR)"/>
<circle cx="561.3" cy="1056.7" r="5.9" fill="url(#gR)"/>
<circle cx="593" cy="1056.7" r="5.9" fill="url(#gR)"/>
<circle cx="624.8" cy="1056.7" r="5.9" fill="url(#gR)"/>
<circle cx="656.5" cy="1056.7" r="5.9" fill="url(#gR)"/>
<circle cx="688.2" cy="1056.7" r="5.9" fill="url(#gR)"/>
<circle cx="720" cy="1056.7" r="5.9" fill="url(#gR)"/>
<circle cx="751.7" cy="1056.7" r="5.9" fill="url(#gR)"/>
<circle cx="783.4" cy="1056.7" r="5.9" fill="url(#gR)"/>
<circle cx="815.2" cy="1056.7" r="5.9" fill="url(#gR)"/>
<circle cx="846.9" cy="1056.7" r="5.9" fill="url(#gR)"/>
<circle cx="878.7" cy="1056.7" r="5.9" fill="url(#gR)"/>
<circle cx="910.4" cy="1056.7" r="5.9" fill="url(#gR)"/>
<circle cx="323.3" cy="1058.7" r="9.7" fill="url(#gT)"/>
<circle cx="355" cy="1058.7" r="9.7" fill="url(#gT)"/>
<circle cx="386.7" cy="1058.7" r="9.7" fill="url(#gT)"/>
<circle cx="418.5" cy="1058.7" r="9.7" fill="url(#gT)"/>
<circle cx="450.2" cy="1058.7" r="9.7" fill="url(#gT)"/>
<circle cx="481.9" cy="1058.7" r="9.7" fill="url(#gT)"/>
<circle cx="513.7" cy="1058.7" r="9.7" fill="url(#gT)"/>
<circle cx="545.4" cy="1058.7" r="9.7" fill="url(#gT)"/>
<circle cx="577.2" cy="1058.7" r="9.7" fill="url(#gT)"/>
<circle cx="608.9" cy="1058.7" r="9.7" fill="url(#gT)"/>
<circle cx="640.6" cy="1058.7" r="9.7" fill="url(#gT)"/>
<circle cx="672.4" cy="1058.7" r="9.7" fill="url(#gT)"/>
<circle cx="704.1" cy="1058.7" r="9.7" fill="url(#gT)"/>
<circle cx="735.8" cy="1058.7" r="9.7" fill="url(#gT)"/>
<circle cx="767.6" cy="1058.7" r="9.7" fill="url(#gT)"/>
<circle cx="799.3" cy="1058.7" r="9.7" fill="url(#gT)"/>
<circle cx="831.1" cy="1058.7" r="9.7" fill="url(#gT)"/>
<circle cx="862.8" cy="1058.7" r="9.7" fill="url(#gT)"/>
<circle cx="894.5" cy="1058.7" r="9.7" fill="url(#gT)"/>
<circle cx="926.3" cy="1058.7" r="9.7" fill="url(#gT)"/>
<circle cx="333.6" cy="1061.6" r="6" fill="url(#gR)"/>
<circle cx="366" cy="1061.6" r="6" fill="url(#gR)"/>
<circle cx="398.4" cy="1061.6" r="6" fill="url(#gR)"/>
<circle cx="430.7" cy="1061.6" r="6" fill="url(#gR)"/>
<circle cx="463.1" cy="1061.6" r="6" fill="url(#gR)"/>
<circle cx="495.5" cy="1061.6" r="6" fill="url(#gR)"/>
<circle cx="527.9" cy="1061.6" r="6" fill="url(#gR)"/>
<circle cx="560.3" cy="1061.6" r="6" fill="url(#gR)"/>
<circle cx="592.6" cy="1061.6" r="6" fill="url(#gR)"/>
<circle cx="625" cy="1061.6" r="6" fill="url(#gR)"/>
<circle cx="657.4" cy="1061.6" r="6" fill="url(#gR)"/>
<circle cx="689.8" cy="1061.6" r="6" fill="url(#gR)"/>
<circle cx="722.2" cy="1061.6" r="6" fill="url(#gR)"/>
<circle cx="754.5" cy="1061.6" r="6" fill="url(#gR)"/>
<circle cx="786.9" cy="1061.6" r="6" fill="url(#gR)"/>
<circle cx="819.3" cy="1061.6" r="6" fill="url(#gR)"/>
<circle cx="851.7" cy="1061.6" r="6" fill="url(#gR)"/>
<circle cx="884" cy="1061.6" r="6" fill="url(#gR)"/>
<circle cx="916.4" cy="1061.6" r="6" fill="url(#gR)"/>
<circle cx="317.4" cy="1063.7" r="9.9" fill="url(#gT)"/>
<circle cx="349.8" cy="1063.7" r="9.9" fill="url(#gT)"/>
<circle cx="382.2" cy="1063.7" r="9.9" fill="url(#gT)"/>
<circle cx="414.6" cy="1063.7" r="9.9" fill="url(#gT)"/>
<circle cx="446.9" cy="1063.7" r="9.9" fill="url(#gT)"/>
<circle cx="479.3" cy="1063.7" r="9.9" fill="url(#gT)"/>
<circle cx="511.7" cy="1063.7" r="9.9" fill="url(#gT)"/>
<circle cx="544.1" cy="1063.7" r="9.9" fill="url(#gT)"/>
<circle cx="576.4" cy="1063.7" r="9.9" fill="url(#gT)"/>
<circle cx="608.8" cy="1063.7" r="9.9" fill="url(#gT)"/>
<circle cx="641.2" cy="1063.7" r="9.9" fill="url(#gT)"/>
<circle cx="673.6" cy="1063.7" r="9.9" fill="url(#gT)"/>
<circle cx="706" cy="1063.7" r="9.9" fill="url(#gT)"/>
<circle cx="738.3" cy="1063.7" r="9.9" fill="url(#gT)"/>
<circle cx="770.7" cy="1063.7" r="9.9" fill="url(#gT)"/>
<circle cx="803.1" cy="1063.7" r="9.9" fill="url(#gT)"/>
<circle cx="835.5" cy="1063.7" r="9.9" fill="url(#gT)"/>
<circle cx="867.9" cy="1063.7" r="9.9" fill="url(#gT)"/>
<circle cx="900.2" cy="1063.7" r="9.9" fill="url(#gT)"/>
<circle cx="932.6" cy="1063.7" r="9.9" fill="url(#gT)"/>
<circle cx="327.9" cy="1066.8" r="6.1" fill="url(#gR)"/>
<circle cx="360.9" cy="1066.8" r="6.1" fill="url(#gR)"/>
<circle cx="394" cy="1066.8" r="6.1" fill="url(#gR)"/>
<circle cx="427" cy="1066.8" r="6.1" fill="url(#gR)"/>
<circle cx="460.1" cy="1066.8" r="6.1" fill="url(#gR)"/>
<circle cx="493.1" cy="1066.8" r="6.1" fill="url(#gR)"/>
<circle cx="526.1" cy="1066.8" r="6.1" fill="url(#gR)"/>
<circle cx="559.2" cy="1066.8" r="6.1" fill="url(#gR)"/>
<circle cx="592.2" cy="1066.8" r="6.1" fill="url(#gR)"/>
<circle cx="625.3" cy="1066.8" r="6.1" fill="url(#gR)"/>
<circle cx="658.3" cy="1066.8" r="6.1" fill="url(#gR)"/>
<circle cx="691.4" cy="1066.8" r="6.1" fill="url(#gR)"/>
<circle cx="724.4" cy="1066.8" r="6.1" fill="url(#gR)"/>
<circle cx="757.5" cy="1066.8" r="6.1" fill="url(#gR)"/>
<circle cx="790.5" cy="1066.8" r="6.1" fill="url(#gR)"/>
<circle cx="823.6" cy="1066.8" r="6.1" fill="url(#gR)"/>
<circle cx="856.6" cy="1066.8" r="6.1" fill="url(#gR)"/>
<circle cx="889.7" cy="1066.8" r="6.1" fill="url(#gR)"/>
<circle cx="922.7" cy="1066.8" r="6.1" fill="url(#gR)"/>
<circle cx="311.3" cy="1069" r="10.1" fill="url(#gT)"/>
<circle cx="344.4" cy="1069" r="10.1" fill="url(#gT)"/>
<circle cx="377.4" cy="1069" r="10.1" fill="url(#gT)"/>
<circle cx="410.5" cy="1069" r="10.1" fill="url(#gT)"/>
<circle cx="443.5" cy="1069" r="10.1" fill="url(#gT)"/>
<circle cx="476.6" cy="1069" r="10.1" fill="url(#gT)"/>
<circle cx="509.6" cy="1069" r="10.1" fill="url(#gT)"/>
<circle cx="542.7" cy="1069" r="10.1" fill="url(#gT)"/>
<circle cx="575.7" cy="1069" r="10.1" fill="url(#gT)"/>
<circle cx="608.8" cy="1069" r="10.1" fill="url(#gT)"/>
<circle cx="641.8" cy="1069" r="10.1" fill="url(#gT)"/>
<circle cx="674.9" cy="1069" r="10.1" fill="url(#gT)"/>
<circle cx="707.9" cy="1069" r="10.1" fill="url(#gT)"/>
<circle cx="740.9" cy="1069" r="10.1" fill="url(#gT)"/>
<circle cx="774" cy="1069" r="10.1" fill="url(#gT)"/>
<circle cx="807" cy="1069" r="10.1" fill="url(#gT)"/>
<circle cx="840.1" cy="1069" r="10.1" fill="url(#gT)"/>
<circle cx="873.1" cy="1069" r="10.1" fill="url(#gT)"/>
<circle cx="906.2" cy="1069" r="10.1" fill="url(#gT)"/>
<circle cx="939.2" cy="1069" r="10.1" fill="url(#gT)"/>
<circle cx="321.9" cy="1072.2" r="6.2" fill="url(#gR)"/>
<circle cx="355.6" cy="1072.2" r="6.2" fill="url(#gR)"/>
<circle cx="389.4" cy="1072.2" r="6.2" fill="url(#gR)"/>
<circle cx="423.1" cy="1072.2" r="6.2" fill="url(#gR)"/>
<circle cx="456.9" cy="1072.2" r="6.2" fill="url(#gR)"/>
<circle cx="490.6" cy="1072.2" r="6.2" fill="url(#gR)"/>
<circle cx="524.3" cy="1072.2" r="6.2" fill="url(#gR)"/>
<circle cx="558.1" cy="1072.2" r="6.2" fill="url(#gR)"/>
<circle cx="591.8" cy="1072.2" r="6.2" fill="url(#gR)"/>
<circle cx="625.6" cy="1072.2" r="6.2" fill="url(#gR)"/>
<circle cx="659.3" cy="1072.2" r="6.2" fill="url(#gR)"/>
<circle cx="693" cy="1072.2" r="6.2" fill="url(#gR)"/>
<circle cx="726.8" cy="1072.2" r="6.2" fill="url(#gR)"/>
<circle cx="760.5" cy="1072.2" r="6.2" fill="url(#gR)"/>
<circle cx="794.3" cy="1072.2" r="6.2" fill="url(#gR)"/>
<circle cx="828" cy="1072.2" r="6.2" fill="url(#gR)"/>
<circle cx="861.8" cy="1072.2" r="6.2" fill="url(#gR)"/>
<circle cx="895.5" cy="1072.2" r="6.2" fill="url(#gR)"/>
<circle cx="929.2" cy="1072.2" r="6.2" fill="url(#gR)"/>
<circle cx="305" cy="1074.4" r="10.3" fill="url(#gT)"/>
<circle cx="338.8" cy="1074.4" r="10.3" fill="url(#gT)"/>
<circle cx="372.5" cy="1074.4" r="10.3" fill="url(#gT)"/>
<circle cx="406.2" cy="1074.4" r="10.3" fill="url(#gT)"/>
<circle cx="440" cy="1074.4" r="10.3" fill="url(#gT)"/>
<circle cx="473.7" cy="1074.4" r="10.3" fill="url(#gT)"/>
<circle cx="507.5" cy="1074.4" r="10.3" fill="url(#gT)"/>
<circle cx="541.2" cy="1074.4" r="10.3" fill="url(#gT)"/>
<circle cx="575" cy="1074.4" r="10.3" fill="url(#gT)"/>
<circle cx="608.7" cy="1074.4" r="10.3" fill="url(#gT)"/>
<circle cx="642.4" cy="1074.4" r="10.3" fill="url(#gT)"/>
<circle cx="676.2" cy="1074.4" r="10.3" fill="url(#gT)"/>
<circle cx="709.9" cy="1074.4" r="10.3" fill="url(#gT)"/>
<circle cx="743.7" cy="1074.4" r="10.3" fill="url(#gT)"/>
<circle cx="777.4" cy="1074.4" r="10.3" fill="url(#gT)"/>
<circle cx="811.1" cy="1074.4" r="10.3" fill="url(#gT)"/>
<circle cx="844.9" cy="1074.4" r="10.3" fill="url(#gT)"/>
<circle cx="878.6" cy="1074.4" r="10.3" fill="url(#gT)"/>
<circle cx="912.4" cy="1074.4" r="10.3" fill="url(#gT)"/>
<circle cx="946.1" cy="1074.4" r="10.3" fill="url(#gT)"/>
<circle cx="315.7" cy="1077.9" r="6.4" fill="url(#gR)"/>
<circle cx="350.1" cy="1077.9" r="6.4" fill="url(#gR)"/>
<circle cx="384.6" cy="1077.9" r="6.4" fill="url(#gR)"/>
<circle cx="419.1" cy="1077.9" r="6.4" fill="url(#gR)"/>
<circle cx="453.5" cy="1077.9" r="6.4" fill="url(#gR)"/>
<circle cx="488" cy="1077.9" r="6.4" fill="url(#gR)"/>
<circle cx="522.5" cy="1077.9" r="6.4" fill="url(#gR)"/>
<circle cx="556.9" cy="1077.9" r="6.4" fill="url(#gR)"/>
<circle cx="591.4" cy="1077.9" r="6.4" fill="url(#gR)"/>
<circle cx="625.9" cy="1077.9" r="6.4" fill="url(#gR)"/>
<circle cx="660.3" cy="1077.9" r="6.4" fill="url(#gR)"/>
<circle cx="694.8" cy="1077.9" r="6.4" fill="url(#gR)"/>
<circle cx="729.3" cy="1077.9" r="6.4" fill="url(#gR)"/>
<circle cx="763.7" cy="1077.9" r="6.4" fill="url(#gR)"/>
<circle cx="798.2" cy="1077.9" r="6.4" fill="url(#gR)"/>
<circle cx="832.7" cy="1077.9" r="6.4" fill="url(#gR)"/>
<circle cx="867.1" cy="1077.9" r="6.4" fill="url(#gR)"/>
<circle cx="901.6" cy="1077.9" r="6.4" fill="url(#gR)"/>
<circle cx="936.1" cy="1077.9" r="6.4" fill="url(#gR)"/>
<circle cx="298.4" cy="1080.1" r="10.5" fill="url(#gT)"/>
<circle cx="332.9" cy="1080.1" r="10.5" fill="url(#gT)"/>
<circle cx="367.4" cy="1080.1" r="10.5" fill="url(#gT)"/>
<circle cx="401.8" cy="1080.1" r="10.5" fill="url(#gT)"/>
<circle cx="436.3" cy="1080.1" r="10.5" fill="url(#gT)"/>
<circle cx="470.8" cy="1080.1" r="10.5" fill="url(#gT)"/>
<circle cx="505.2" cy="1080.1" r="10.5" fill="url(#gT)"/>
<circle cx="539.7" cy="1080.1" r="10.5" fill="url(#gT)"/>
<circle cx="574.2" cy="1080.1" r="10.5" fill="url(#gT)"/>
<circle cx="608.6" cy="1080.1" r="10.5" fill="url(#gT)"/>
<circle cx="643.1" cy="1080.1" r="10.5" fill="url(#gT)"/>
<circle cx="677.6" cy="1080.1" r="10.5" fill="url(#gT)"/>
<circle cx="712" cy="1080.1" r="10.5" fill="url(#gT)"/>
<circle cx="746.5" cy="1080.1" r="10.5" fill="url(#gT)"/>
<circle cx="781" cy="1080.1" r="10.5" fill="url(#gT)"/>
<circle cx="815.4" cy="1080.1" r="10.5" fill="url(#gT)"/>
<circle cx="849.9" cy="1080.1" r="10.5" fill="url(#gT)"/>
<circle cx="884.4" cy="1080.1" r="10.5" fill="url(#gT)"/>
<circle cx="918.8" cy="1080.1" r="10.5" fill="url(#gT)"/>
<circle cx="953.3" cy="1080.1" r="10.5" fill="url(#gT)"/>
<circle cx="309.1" cy="1083.8" r="6.5" fill="url(#gR)"/>
<circle cx="344.4" cy="1083.8" r="6.5" fill="url(#gR)"/>
<circle cx="379.6" cy="1083.8" r="6.5" fill="url(#gR)"/>
<circle cx="414.8" cy="1083.8" r="6.5" fill="url(#gR)"/>
<circle cx="450" cy="1083.8" r="6.5" fill="url(#gR)"/>
<circle cx="485.3" cy="1083.8" r="6.5" fill="url(#gR)"/>
<circle cx="520.5" cy="1083.8" r="6.5" fill="url(#gR)"/>
<circle cx="555.7" cy="1083.8" r="6.5" fill="url(#gR)"/>
<circle cx="590.9" cy="1083.8" r="6.5" fill="url(#gR)"/>
<circle cx="626.2" cy="1083.8" r="6.5" fill="url(#gR)"/>
<circle cx="661.4" cy="1083.8" r="6.5" fill="url(#gR)"/>
<circle cx="696.6" cy="1083.8" r="6.5" fill="url(#gR)"/>
<circle cx="731.8" cy="1083.8" r="6.5" fill="url(#gR)"/>
<circle cx="767.1" cy="1083.8" r="6.5" fill="url(#gR)"/>
<circle cx="802.3" cy="1083.8" r="6.5" fill="url(#gR)"/>
<circle cx="837.5" cy="1083.8" r="6.5" fill="url(#gR)"/>
<circle cx="872.7" cy="1083.8" r="6.5" fill="url(#gR)"/>
<circle cx="908" cy="1083.8" r="6.5" fill="url(#gR)"/>
<circle cx="943.2" cy="1083.8" r="6.5" fill="url(#gR)"/>
<circle cx="291.5" cy="1086" r="10.8" fill="url(#gT)"/>
<circle cx="326.8" cy="1086" r="10.8" fill="url(#gT)"/>
<circle cx="362" cy="1086" r="10.8" fill="url(#gT)"/>
<circle cx="397.2" cy="1086" r="10.8" fill="url(#gT)"/>
<circle cx="432.4" cy="1086" r="10.8" fill="url(#gT)"/>
<circle cx="467.7" cy="1086" r="10.8" fill="url(#gT)"/>
<circle cx="502.9" cy="1086" r="10.8" fill="url(#gT)"/>
<circle cx="538.1" cy="1086" r="10.8" fill="url(#gT)"/>
<circle cx="573.3" cy="1086" r="10.8" fill="url(#gT)"/>
<circle cx="608.5" cy="1086" r="10.8" fill="url(#gT)"/>
<circle cx="643.8" cy="1086" r="10.8" fill="url(#gT)"/>
<circle cx="679" cy="1086" r="10.8" fill="url(#gT)"/>
<circle cx="714.2" cy="1086" r="10.8" fill="url(#gT)"/>
<circle cx="749.4" cy="1086" r="10.8" fill="url(#gT)"/>
<circle cx="784.7" cy="1086" r="10.8" fill="url(#gT)"/>
<circle cx="819.9" cy="1086" r="10.8" fill="url(#gT)"/>
<circle cx="855.1" cy="1086" r="10.8" fill="url(#gT)"/>
<circle cx="890.3" cy="1086" r="10.8" fill="url(#gT)"/>
<circle cx="925.6" cy="1086" r="10.8" fill="url(#gT)"/>
<circle cx="960.8" cy="1086" r="10.8" fill="url(#gT)"/>
<circle cx="302.3" cy="1089.9" r="6.7" fill="url(#gR)"/>
<circle cx="338.4" cy="1089.9" r="6.7" fill="url(#gR)"/>
<circle cx="374.4" cy="1089.9" r="6.7" fill="url(#gR)"/>
<circle cx="410.4" cy="1089.9" r="6.7" fill="url(#gR)"/>
<circle cx="446.4" cy="1089.9" r="6.7" fill="url(#gR)"/>
<circle cx="482.4" cy="1089.9" r="6.7" fill="url(#gR)"/>
<circle cx="518.4" cy="1089.9" r="6.7" fill="url(#gR)"/>
<circle cx="554.4" cy="1089.9" r="6.7" fill="url(#gR)"/>
<circle cx="590.5" cy="1089.9" r="6.7" fill="url(#gR)"/>
<circle cx="626.5" cy="1089.9" r="6.7" fill="url(#gR)"/>
<circle cx="662.5" cy="1089.9" r="6.7" fill="url(#gR)"/>
<circle cx="698.5" cy="1089.9" r="6.7" fill="url(#gR)"/>
<circle cx="734.5" cy="1089.9" r="6.7" fill="url(#gR)"/>
<circle cx="770.5" cy="1089.9" r="6.7" fill="url(#gR)"/>
<circle cx="806.6" cy="1089.9" r="6.7" fill="url(#gR)"/>
<circle cx="842.6" cy="1089.9" r="6.7" fill="url(#gR)"/>
<circle cx="878.6" cy="1089.9" r="6.7" fill="url(#gR)"/>
<circle cx="914.6" cy="1089.9" r="6.7" fill="url(#gR)"/>
<circle cx="950.6" cy="1089.9" r="6.7" fill="url(#gR)"/>
<circle cx="284.3" cy="1092.2" r="11" fill="url(#gT)"/>
<circle cx="320.3" cy="1092.2" r="11" fill="url(#gT)"/>
<circle cx="356.4" cy="1092.2" r="11" fill="url(#gT)"/>
<circle cx="392.4" cy="1092.2" r="11" fill="url(#gT)"/>
<circle cx="428.4" cy="1092.2" r="11" fill="url(#gT)"/>
<circle cx="464.4" cy="1092.2" r="11" fill="url(#gT)"/>
<circle cx="500.4" cy="1092.2" r="11" fill="url(#gT)"/>
<circle cx="536.4" cy="1092.2" r="11" fill="url(#gT)"/>
<circle cx="572.5" cy="1092.2" r="11" fill="url(#gT)"/>
<circle cx="608.5" cy="1092.2" r="11" fill="url(#gT)"/>
<circle cx="644.5" cy="1092.2" r="11" fill="url(#gT)"/>
<circle cx="680.5" cy="1092.2" r="11" fill="url(#gT)"/>
<circle cx="716.5" cy="1092.2" r="11" fill="url(#gT)"/>
<circle cx="752.5" cy="1092.2" r="11" fill="url(#gT)"/>
<circle cx="788.5" cy="1092.2" r="11" fill="url(#gT)"/>
<circle cx="824.6" cy="1092.2" r="11" fill="url(#gT)"/>
<circle cx="860.6" cy="1092.2" r="11" fill="url(#gT)"/>
<circle cx="896.6" cy="1092.2" r="11" fill="url(#gT)"/>
<circle cx="932.6" cy="1092.2" r="11" fill="url(#gT)"/>
<circle cx="968.6" cy="1092.2" r="11" fill="url(#gT)"/>
<circle cx="295.2" cy="1096.3" r="6.8" fill="url(#gR)"/>
<circle cx="332.1" cy="1096.3" r="6.8" fill="url(#gR)"/>
<circle cx="368.9" cy="1096.3" r="6.8" fill="url(#gR)"/>
<circle cx="405.8" cy="1096.3" r="6.8" fill="url(#gR)"/>
<circle cx="442.6" cy="1096.3" r="6.8" fill="url(#gR)"/>
<circle cx="479.4" cy="1096.3" r="6.8" fill="url(#gR)"/>
<circle cx="516.3" cy="1096.3" r="6.8" fill="url(#gR)"/>
<circle cx="553.1" cy="1096.3" r="6.8" fill="url(#gR)"/>
<circle cx="590" cy="1096.3" r="6.8" fill="url(#gR)"/>
<circle cx="626.8" cy="1096.3" r="6.8" fill="url(#gR)"/>
<circle cx="663.7" cy="1096.3" r="6.8" fill="url(#gR)"/>
<circle cx="700.5" cy="1096.3" r="6.8" fill="url(#gR)"/>
<circle cx="737.3" cy="1096.3" r="6.8" fill="url(#gR)"/>
<circle cx="774.2" cy="1096.3" r="6.8" fill="url(#gR)"/>
<circle cx="811" cy="1096.3" r="6.8" fill="url(#gR)"/>
<circle cx="847.9" cy="1096.3" r="6.8" fill="url(#gR)"/>
<circle cx="884.7" cy="1096.3" r="6.8" fill="url(#gR)"/>
<circle cx="921.6" cy="1096.3" r="6.8" fill="url(#gR)"/>
<circle cx="958.4" cy="1096.3" r="6.8" fill="url(#gR)"/>
<circle cx="276.8" cy="1098.7" r="11.3" fill="url(#gT)"/>
<circle cx="313.6" cy="1098.7" r="11.3" fill="url(#gT)"/>
<circle cx="350.5" cy="1098.7" r="11.3" fill="url(#gT)"/>
<circle cx="387.3" cy="1098.7" r="11.3" fill="url(#gT)"/>
<circle cx="424.2" cy="1098.7" r="11.3" fill="url(#gT)"/>
<circle cx="461" cy="1098.7" r="11.3" fill="url(#gT)"/>
<circle cx="497.9" cy="1098.7" r="11.3" fill="url(#gT)"/>
<circle cx="534.7" cy="1098.7" r="11.3" fill="url(#gT)"/>
<circle cx="571.5" cy="1098.7" r="11.3" fill="url(#gT)"/>
<circle cx="608.4" cy="1098.7" r="11.3" fill="url(#gT)"/>
<circle cx="645.2" cy="1098.7" r="11.3" fill="url(#gT)"/>
<circle cx="682.1" cy="1098.7" r="11.3" fill="url(#gT)"/>
<circle cx="718.9" cy="1098.7" r="11.3" fill="url(#gT)"/>
<circle cx="755.8" cy="1098.7" r="11.3" fill="url(#gT)"/>
<circle cx="792.6" cy="1098.7" r="11.3" fill="url(#gT)"/>
<circle cx="829.4" cy="1098.7" r="11.3" fill="url(#gT)"/>
<circle cx="866.3" cy="1098.7" r="11.3" fill="url(#gT)"/>
<circle cx="903.1" cy="1098.7" r="11.3" fill="url(#gT)"/>
<circle cx="940" cy="1098.7" r="11.3" fill="url(#gT)"/>
<circle cx="976.8" cy="1098.7" r="11.3" fill="url(#gT)"/>
<circle cx="287.8" cy="1103.1" r="7" fill="url(#gR)"/>
<circle cx="325.5" cy="1103.1" r="7" fill="url(#gR)"/>
<circle cx="363.2" cy="1103.1" r="7" fill="url(#gR)"/>
<circle cx="400.9" cy="1103.1" r="7" fill="url(#gR)"/>
<circle cx="438.6" cy="1103.1" r="7" fill="url(#gR)"/>
<circle cx="476.3" cy="1103.1" r="7" fill="url(#gR)"/>
<circle cx="514" cy="1103.1" r="7" fill="url(#gR)"/>
<circle cx="551.7" cy="1103.1" r="7" fill="url(#gR)"/>
<circle cx="589.5" cy="1103.1" r="7" fill="url(#gR)"/>
<circle cx="627.2" cy="1103.1" r="7" fill="url(#gR)"/>
<circle cx="664.9" cy="1103.1" r="7" fill="url(#gR)"/>
<circle cx="702.6" cy="1103.1" r="7" fill="url(#gR)"/>
<circle cx="740.3" cy="1103.1" r="7" fill="url(#gR)"/>
<circle cx="778" cy="1103.1" r="7" fill="url(#gR)"/>
<circle cx="815.7" cy="1103.1" r="7" fill="url(#gR)"/>
<circle cx="853.4" cy="1103.1" r="7" fill="url(#gR)"/>
<circle cx="891.1" cy="1103.1" r="7" fill="url(#gR)"/>
<circle cx="928.8" cy="1103.1" r="7" fill="url(#gR)"/>
<circle cx="966.5" cy="1103.1" r="7" fill="url(#gR)"/>
<circle cx="268.9" cy="1105.5" r="11.5" fill="url(#gT)"/>
<circle cx="306.6" cy="1105.5" r="11.5" fill="url(#gT)"/>
<circle cx="344.3" cy="1105.5" r="11.5" fill="url(#gT)"/>
<circle cx="382" cy="1105.5" r="11.5" fill="url(#gT)"/>
<circle cx="419.8" cy="1105.5" r="11.5" fill="url(#gT)"/>
<circle cx="457.5" cy="1105.5" r="11.5" fill="url(#gT)"/>
<circle cx="495.2" cy="1105.5" r="11.5" fill="url(#gT)"/>
<circle cx="532.9" cy="1105.5" r="11.5" fill="url(#gT)"/>
<circle cx="570.6" cy="1105.5" r="11.5" fill="url(#gT)"/>
<circle cx="608.3" cy="1105.5" r="11.5" fill="url(#gT)"/>
<circle cx="646" cy="1105.5" r="11.5" fill="url(#gT)"/>
<circle cx="683.7" cy="1105.5" r="11.5" fill="url(#gT)"/>
<circle cx="721.4" cy="1105.5" r="11.5" fill="url(#gT)"/>
<circle cx="759.1" cy="1105.5" r="11.5" fill="url(#gT)"/>
<circle cx="796.9" cy="1105.5" r="11.5" fill="url(#gT)"/>
<circle cx="834.6" cy="1105.5" r="11.5" fill="url(#gT)"/>
<circle cx="872.3" cy="1105.5" r="11.5" fill="url(#gT)"/>
<circle cx="910" cy="1105.5" r="11.5" fill="url(#gT)"/>
<circle cx="947.7" cy="1105.5" r="11.5" fill="url(#gT)"/>
<circle cx="985.4" cy="1105.5" r="11.5" fill="url(#gT)"/>
<circle cx="280" cy="1110.1" r="7.1" fill="url(#gR)"/>
<circle cx="318.6" cy="1110.1" r="7.1" fill="url(#gR)"/>
<circle cx="357.2" cy="1110.1" r="7.1" fill="url(#gR)"/>
<circle cx="395.8" cy="1110.1" r="7.1" fill="url(#gR)"/>
<circle cx="434.4" cy="1110.1" r="7.1" fill="url(#gR)"/>
<circle cx="473.1" cy="1110.1" r="7.1" fill="url(#gR)"/>
<circle cx="511.7" cy="1110.1" r="7.1" fill="url(#gR)"/>
<circle cx="550.3" cy="1110.1" r="7.1" fill="url(#gR)"/>
<circle cx="588.9" cy="1110.1" r="7.1" fill="url(#gR)"/>
<circle cx="627.5" cy="1110.1" r="7.1" fill="url(#gR)"/>
<circle cx="666.1" cy="1110.1" r="7.1" fill="url(#gR)"/>
<circle cx="704.8" cy="1110.1" r="7.1" fill="url(#gR)"/>
<circle cx="743.4" cy="1110.1" r="7.1" fill="url(#gR)"/>
<circle cx="782" cy="1110.1" r="7.1" fill="url(#gR)"/>
<circle cx="820.6" cy="1110.1" r="7.1" fill="url(#gR)"/>
<circle cx="859.2" cy="1110.1" r="7.1" fill="url(#gR)"/>
<circle cx="897.9" cy="1110.1" r="7.1" fill="url(#gR)"/>
<circle cx="936.5" cy="1110.1" r="7.1" fill="url(#gR)"/>
<circle cx="975.1" cy="1110.1" r="7.1" fill="url(#gR)"/>
<circle cx="260.7" cy="1112.6" r="11.8" fill="url(#gT)"/>
<circle cx="299.3" cy="1112.6" r="11.8" fill="url(#gT)"/>
<circle cx="337.9" cy="1112.6" r="11.8" fill="url(#gT)"/>
<circle cx="376.5" cy="1112.6" r="11.8" fill="url(#gT)"/>
<circle cx="415.1" cy="1112.6" r="11.8" fill="url(#gT)"/>
<circle cx="453.7" cy="1112.6" r="11.8" fill="url(#gT)"/>
<circle cx="492.4" cy="1112.6" r="11.8" fill="url(#gT)"/>
<circle cx="531" cy="1112.6" r="11.8" fill="url(#gT)"/>
<circle cx="569.6" cy="1112.6" r="11.8" fill="url(#gT)"/>
<circle cx="608.2" cy="1112.6" r="11.8" fill="url(#gT)"/>
<circle cx="646.8" cy="1112.6" r="11.8" fill="url(#gT)"/>
<circle cx="685.5" cy="1112.6" r="11.8" fill="url(#gT)"/>
<circle cx="724.1" cy="1112.6" r="11.8" fill="url(#gT)"/>
<circle cx="762.7" cy="1112.6" r="11.8" fill="url(#gT)"/>
<circle cx="801.3" cy="1112.6" r="11.8" fill="url(#gT)"/>
<circle cx="839.9" cy="1112.6" r="11.8" fill="url(#gT)"/>
<circle cx="878.5" cy="1112.6" r="11.8" fill="url(#gT)"/>
<circle cx="917.2" cy="1112.6" r="11.8" fill="url(#gT)"/>
<circle cx="955.8" cy="1112.6" r="11.8" fill="url(#gT)"/>
<circle cx="994.4" cy="1112.6" r="11.8" fill="url(#gT)"/>
<circle cx="271.8" cy="1117.5" r="7.3" fill="url(#gR)"/>
<circle cx="311.3" cy="1117.5" r="7.3" fill="url(#gR)"/>
<circle cx="350.9" cy="1117.5" r="7.3" fill="url(#gR)"/>
<circle cx="390.5" cy="1117.5" r="7.3" fill="url(#gR)"/>
<circle cx="430.1" cy="1117.5" r="7.3" fill="url(#gR)"/>
<circle cx="469.6" cy="1117.5" r="7.3" fill="url(#gR)"/>
<circle cx="509.2" cy="1117.5" r="7.3" fill="url(#gR)"/>
<circle cx="548.8" cy="1117.5" r="7.3" fill="url(#gR)"/>
<circle cx="588.3" cy="1117.5" r="7.3" fill="url(#gR)"/>
<circle cx="627.9" cy="1117.5" r="7.3" fill="url(#gR)"/>
<circle cx="667.5" cy="1117.5" r="7.3" fill="url(#gR)"/>
<circle cx="707.1" cy="1117.5" r="7.3" fill="url(#gR)"/>
<circle cx="746.6" cy="1117.5" r="7.3" fill="url(#gR)"/>
<circle cx="786.2" cy="1117.5" r="7.3" fill="url(#gR)"/>
<circle cx="825.8" cy="1117.5" r="7.3" fill="url(#gR)"/>
<circle cx="865.3" cy="1117.5" r="7.3" fill="url(#gR)"/>
<circle cx="904.9" cy="1117.5" r="7.3" fill="url(#gR)"/>
<circle cx="944.5" cy="1117.5" r="7.3" fill="url(#gR)"/>
<circle cx="984" cy="1117.5" r="7.3" fill="url(#gR)"/>
<circle cx="252" cy="1120.1" r="12.1" fill="url(#gT)"/>
<circle cx="291.6" cy="1120.1" r="12.1" fill="url(#gT)"/>
<circle cx="331.1" cy="1120.1" r="12.1" fill="url(#gT)"/>
<circle cx="370.7" cy="1120.1" r="12.1" fill="url(#gT)"/>
<circle cx="410.3" cy="1120.1" r="12.1" fill="url(#gT)"/>
<circle cx="449.8" cy="1120.1" r="12.1" fill="url(#gT)"/>
<circle cx="489.4" cy="1120.1" r="12.1" fill="url(#gT)"/>
<circle cx="529" cy="1120.1" r="12.1" fill="url(#gT)"/>
<circle cx="568.6" cy="1120.1" r="12.1" fill="url(#gT)"/>
<circle cx="608.1" cy="1120.1" r="12.1" fill="url(#gT)"/>
<circle cx="647.7" cy="1120.1" r="12.1" fill="url(#gT)"/>
<circle cx="687.3" cy="1120.1" r="12.1" fill="url(#gT)"/>
<circle cx="726.8" cy="1120.1" r="12.1" fill="url(#gT)"/>
<circle cx="766.4" cy="1120.1" r="12.1" fill="url(#gT)"/>
<circle cx="806" cy="1120.1" r="12.1" fill="url(#gT)"/>
<circle cx="845.6" cy="1120.1" r="12.1" fill="url(#gT)"/>
<circle cx="885.1" cy="1120.1" r="12.1" fill="url(#gT)"/>
<circle cx="924.7" cy="1120.1" r="12.1" fill="url(#gT)"/>
<circle cx="964.3" cy="1120.1" r="12.1" fill="url(#gT)"/>
<circle cx="1003.8" cy="1120.1" r="12.1" fill="url(#gT)"/>
<circle cx="263.2" cy="1125.3" r="7.5" fill="url(#gR)"/>
<circle cx="303.7" cy="1125.3" r="7.5" fill="url(#gR)"/>
<circle cx="344.3" cy="1125.3" r="7.5" fill="url(#gR)"/>
<circle cx="384.9" cy="1125.3" r="7.5" fill="url(#gR)"/>
<circle cx="425.4" cy="1125.3" r="7.5" fill="url(#gR)"/>
<circle cx="466" cy="1125.3" r="7.5" fill="url(#gR)"/>
<circle cx="506.6" cy="1125.3" r="7.5" fill="url(#gR)"/>
<circle cx="547.2" cy="1125.3" r="7.5" fill="url(#gR)"/>
<circle cx="587.7" cy="1125.3" r="7.5" fill="url(#gR)"/>
<circle cx="628.3" cy="1125.3" r="7.5" fill="url(#gR)"/>
<circle cx="668.9" cy="1125.3" r="7.5" fill="url(#gR)"/>
<circle cx="709.5" cy="1125.3" r="7.5" fill="url(#gR)"/>
<circle cx="750" cy="1125.3" r="7.5" fill="url(#gR)"/>
<circle cx="790.6" cy="1125.3" r="7.5" fill="url(#gR)"/>
<circle cx="831.2" cy="1125.3" r="7.5" fill="url(#gR)"/>
<circle cx="871.7" cy="1125.3" r="7.5" fill="url(#gR)"/>
<circle cx="912.3" cy="1125.3" r="7.5" fill="url(#gR)"/>
<circle cx="952.9" cy="1125.3" r="7.5" fill="url(#gR)"/>
<circle cx="993.5" cy="1125.3" r="7.5" fill="url(#gR)"/>
<circle cx="242.9" cy="1127.9" r="12.4" fill="url(#gT)"/>
<circle cx="283.4" cy="1127.9" r="12.4" fill="url(#gT)"/>
<circle cx="324" cy="1127.9" r="12.4" fill="url(#gT)"/>
<circle cx="364.6" cy="1127.9" r="12.4" fill="url(#gT)"/>
<circle cx="405.2" cy="1127.9" r="12.4" fill="url(#gT)"/>
<circle cx="445.7" cy="1127.9" r="12.4" fill="url(#gT)"/>
<circle cx="486.3" cy="1127.9" r="12.4" fill="url(#gT)"/>
<circle cx="526.9" cy="1127.9" r="12.4" fill="url(#gT)"/>
<circle cx="567.5" cy="1127.9" r="12.4" fill="url(#gT)"/>
<circle cx="608" cy="1127.9" r="12.4" fill="url(#gT)"/>
<circle cx="648.6" cy="1127.9" r="12.4" fill="url(#gT)"/>
<circle cx="689.2" cy="1127.9" r="12.4" fill="url(#gT)"/>
<circle cx="729.7" cy="1127.9" r="12.4" fill="url(#gT)"/>
<circle cx="770.3" cy="1127.9" r="12.4" fill="url(#gT)"/>
<circle cx="810.9" cy="1127.9" r="12.4" fill="url(#gT)"/>
<circle cx="851.5" cy="1127.9" r="12.4" fill="url(#gT)"/>
<circle cx="892" cy="1127.9" r="12.4" fill="url(#gT)"/>
<circle cx="932.6" cy="1127.9" r="12.4" fill="url(#gT)"/>
<circle cx="973.2" cy="1127.9" r="12.4" fill="url(#gT)"/>
<circle cx="1013.8" cy="1127.9" r="12.4" fill="url(#gT)"/>
<circle cx="254.1" cy="1133.5" r="7.7" fill="url(#gR)"/>
<circle cx="295.7" cy="1133.5" r="7.7" fill="url(#gR)"/>
<circle cx="337.4" cy="1133.5" r="7.7" fill="url(#gR)"/>
<circle cx="379" cy="1133.5" r="7.7" fill="url(#gR)"/>
<circle cx="420.6" cy="1133.5" r="7.7" fill="url(#gR)"/>
<circle cx="462.2" cy="1133.5" r="7.7" fill="url(#gR)"/>
<circle cx="503.9" cy="1133.5" r="7.7" fill="url(#gR)"/>
<circle cx="545.5" cy="1133.5" r="7.7" fill="url(#gR)"/>
<circle cx="587.1" cy="1133.5" r="7.7" fill="url(#gR)"/>
<circle cx="628.7" cy="1133.5" r="7.7" fill="url(#gR)"/>
<circle cx="670.4" cy="1133.5" r="7.7" fill="url(#gR)"/>
<circle cx="712" cy="1133.5" r="7.7" fill="url(#gR)"/>
<circle cx="753.6" cy="1133.5" r="7.7" fill="url(#gR)"/>
<circle cx="795.2" cy="1133.5" r="7.7" fill="url(#gR)"/>
<circle cx="836.9" cy="1133.5" r="7.7" fill="url(#gR)"/>
<circle cx="878.5" cy="1133.5" r="7.7" fill="url(#gR)"/>
<circle cx="920.1" cy="1133.5" r="7.7" fill="url(#gR)"/>
<circle cx="961.7" cy="1133.5" r="7.7" fill="url(#gR)"/>
<circle cx="1003.4" cy="1133.5" r="7.7" fill="url(#gR)"/>
<circle cx="233.3" cy="1136.2" r="12.7" fill="url(#gT)"/>
<circle cx="274.9" cy="1136.2" r="12.7" fill="url(#gT)"/>
<circle cx="316.5" cy="1136.2" r="12.7" fill="url(#gT)"/>
<circle cx="358.2" cy="1136.2" r="12.7" fill="url(#gT)"/>
<circle cx="399.8" cy="1136.2" r="12.7" fill="url(#gT)"/>
<circle cx="441.4" cy="1136.2" r="12.7" fill="url(#gT)"/>
<circle cx="483" cy="1136.2" r="12.7" fill="url(#gT)"/>
<circle cx="524.7" cy="1136.2" r="12.7" fill="url(#gT)"/>
<circle cx="566.3" cy="1136.2" r="12.7" fill="url(#gT)"/>
<circle cx="607.9" cy="1136.2" r="12.7" fill="url(#gT)"/>
<circle cx="649.5" cy="1136.2" r="12.7" fill="url(#gT)"/>
<circle cx="691.2" cy="1136.2" r="12.7" fill="url(#gT)"/>
<circle cx="732.8" cy="1136.2" r="12.7" fill="url(#gT)"/>
<circle cx="774.4" cy="1136.2" r="12.7" fill="url(#gT)"/>
<circle cx="816.1" cy="1136.2" r="12.7" fill="url(#gT)"/>
<circle cx="857.7" cy="1136.2" r="12.7" fill="url(#gT)"/>
<circle cx="899.3" cy="1136.2" r="12.7" fill="url(#gT)"/>
<circle cx="940.9" cy="1136.2" r="12.7" fill="url(#gT)"/>
<circle cx="982.6" cy="1136.2" r="12.7" fill="url(#gT)"/>
<circle cx="1024.2" cy="1136.2" r="12.7" fill="url(#gT)"/>
<circle cx="244.6" cy="1142.1" r="7.9" fill="url(#gR)"/>
<circle cx="287.3" cy="1142.1" r="7.9" fill="url(#gR)"/>
<circle cx="330" cy="1142.1" r="7.9" fill="url(#gR)"/>
<circle cx="372.8" cy="1142.1" r="7.9" fill="url(#gR)"/>
<circle cx="415.5" cy="1142.1" r="7.9" fill="url(#gR)"/>
<circle cx="458.2" cy="1142.1" r="7.9" fill="url(#gR)"/>
<circle cx="501" cy="1142.1" r="7.9" fill="url(#gR)"/>
<circle cx="543.7" cy="1142.1" r="7.9" fill="url(#gR)"/>
<circle cx="586.4" cy="1142.1" r="7.9" fill="url(#gR)"/>
<circle cx="629.2" cy="1142.1" r="7.9" fill="url(#gR)"/>
<circle cx="671.9" cy="1142.1" r="7.9" fill="url(#gR)"/>
<circle cx="714.7" cy="1142.1" r="7.9" fill="url(#gR)"/>
<circle cx="757.4" cy="1142.1" r="7.9" fill="url(#gR)"/>
<circle cx="800.1" cy="1142.1" r="7.9" fill="url(#gR)"/>
<circle cx="842.9" cy="1142.1" r="7.9" fill="url(#gR)"/>
<circle cx="885.6" cy="1142.1" r="7.9" fill="url(#gR)"/>
<circle cx="928.3" cy="1142.1" r="7.9" fill="url(#gR)"/>
<circle cx="971.1" cy="1142.1" r="7.9" fill="url(#gR)"/>
<circle cx="1013.8" cy="1142.1" r="7.9" fill="url(#gR)"/>
<circle cx="223.2" cy="1144.9" r="13.1" fill="url(#gT)"/>
<circle cx="265.9" cy="1144.9" r="13.1" fill="url(#gT)"/>
<circle cx="308.7" cy="1144.9" r="13.1" fill="url(#gT)"/>
<circle cx="351.4" cy="1144.9" r="13.1" fill="url(#gT)"/>
<circle cx="394.1" cy="1144.9" r="13.1" fill="url(#gT)"/>
<circle cx="436.9" cy="1144.9" r="13.1" fill="url(#gT)"/>
<circle cx="479.6" cy="1144.9" r="13.1" fill="url(#gT)"/>
<circle cx="522.3" cy="1144.9" r="13.1" fill="url(#gT)"/>
<circle cx="565.1" cy="1144.9" r="13.1" fill="url(#gT)"/>
<circle cx="607.8" cy="1144.9" r="13.1" fill="url(#gT)"/>
<circle cx="650.5" cy="1144.9" r="13.1" fill="url(#gT)"/>
<circle cx="693.3" cy="1144.9" r="13.1" fill="url(#gT)"/>
<circle cx="736" cy="1144.9" r="13.1" fill="url(#gT)"/>
<circle cx="778.8" cy="1144.9" r="13.1" fill="url(#gT)"/>
<circle cx="821.5" cy="1144.9" r="13.1" fill="url(#gT)"/>
<circle cx="864.2" cy="1144.9" r="13.1" fill="url(#gT)"/>
<circle cx="907" cy="1144.9" r="13.1" fill="url(#gT)"/>
<circle cx="949.7" cy="1144.9" r="13.1" fill="url(#gT)"/>
<circle cx="992.4" cy="1144.9" r="13.1" fill="url(#gT)"/>
<circle cx="1035.2" cy="1144.9" r="13.1" fill="url(#gT)"/>
<circle cx="234.5" cy="1151.2" r="8.1" fill="url(#gR)"/>
<circle cx="278.4" cy="1151.2" r="8.1" fill="url(#gR)"/>
<circle cx="322.3" cy="1151.2" r="8.1" fill="url(#gR)"/>
<circle cx="366.2" cy="1151.2" r="8.1" fill="url(#gR)"/>
<circle cx="410.1" cy="1151.2" r="8.1" fill="url(#gR)"/>
<circle cx="454" cy="1151.2" r="8.1" fill="url(#gR)"/>
<circle cx="497.9" cy="1151.2" r="8.1" fill="url(#gR)"/>
<circle cx="541.8" cy="1151.2" r="8.1" fill="url(#gR)"/>
<circle cx="585.7" cy="1151.2" r="8.1" fill="url(#gR)"/>
<circle cx="629.7" cy="1151.2" r="8.1" fill="url(#gR)"/>
<circle cx="673.6" cy="1151.2" r="8.1" fill="url(#gR)"/>
<circle cx="717.5" cy="1151.2" r="8.1" fill="url(#gR)"/>
<circle cx="761.4" cy="1151.2" r="8.1" fill="url(#gR)"/>
<circle cx="805.3" cy="1151.2" r="8.1" fill="url(#gR)"/>
<circle cx="849.2" cy="1151.2" r="8.1" fill="url(#gR)"/>
<circle cx="893.1" cy="1151.2" r="8.1" fill="url(#gR)"/>
<circle cx="937" cy="1151.2" r="8.1" fill="url(#gR)"/>
<circle cx="980.9" cy="1151.2" r="8.1" fill="url(#gR)"/>
<circle cx="1024.8" cy="1151.2" r="8.1" fill="url(#gR)"/>
<circle cx="212.5" cy="1154.1" r="13.4" fill="url(#gT)"/>
<circle cx="256.5" cy="1154.1" r="13.4" fill="url(#gT)"/>
<circle cx="300.4" cy="1154.1" r="13.4" fill="url(#gT)"/>
<circle cx="344.3" cy="1154.1" r="13.4" fill="url(#gT)"/>
<circle cx="388.2" cy="1154.1" r="13.4" fill="url(#gT)"/>
<circle cx="432.1" cy="1154.1" r="13.4" fill="url(#gT)"/>
<circle cx="476" cy="1154.1" r="13.4" fill="url(#gT)"/>
<circle cx="519.9" cy="1154.1" r="13.4" fill="url(#gT)"/>
<circle cx="563.8" cy="1154.1" r="13.4" fill="url(#gT)"/>
<circle cx="607.7" cy="1154.1" r="13.4" fill="url(#gT)"/>
<circle cx="651.6" cy="1154.1" r="13.4" fill="url(#gT)"/>
<circle cx="695.5" cy="1154.1" r="13.4" fill="url(#gT)"/>
<circle cx="739.4" cy="1154.1" r="13.4" fill="url(#gT)"/>
<circle cx="783.3" cy="1154.1" r="13.4" fill="url(#gT)"/>
<circle cx="827.2" cy="1154.1" r="13.4" fill="url(#gT)"/>
<circle cx="871.1" cy="1154.1" r="13.4" fill="url(#gT)"/>
<circle cx="915" cy="1154.1" r="13.4" fill="url(#gT)"/>
<circle cx="958.9" cy="1154.1" r="13.4" fill="url(#gT)"/>
<circle cx="1002.9" cy="1154.1" r="13.4" fill="url(#gT)"/>
<circle cx="1046.8" cy="1154.1" r="13.4" fill="url(#gT)"/>
<circle cx="223.9" cy="1160.8" r="8.4" fill="url(#gR)"/>
<circle cx="269" cy="1160.8" r="8.4" fill="url(#gR)"/>
<circle cx="314.2" cy="1160.8" r="8.4" fill="url(#gR)"/>
<circle cx="359.3" cy="1160.8" r="8.4" fill="url(#gR)"/>
<circle cx="404.4" cy="1160.8" r="8.4" fill="url(#gR)"/>
<circle cx="449.6" cy="1160.8" r="8.4" fill="url(#gR)"/>
<circle cx="494.7" cy="1160.8" r="8.4" fill="url(#gR)"/>
<circle cx="539.9" cy="1160.8" r="8.4" fill="url(#gR)"/>
<circle cx="585" cy="1160.8" r="8.4" fill="url(#gR)"/>
<circle cx="630.1" cy="1160.8" r="8.4" fill="url(#gR)"/>
<circle cx="675.3" cy="1160.8" r="8.4" fill="url(#gR)"/>
<circle cx="720.4" cy="1160.8" r="8.4" fill="url(#gR)"/>
<circle cx="765.6" cy="1160.8" r="8.4" fill="url(#gR)"/>
<circle cx="810.7" cy="1160.8" r="8.4" fill="url(#gR)"/>
<circle cx="855.9" cy="1160.8" r="8.4" fill="url(#gR)"/>
<circle cx="901" cy="1160.8" r="8.4" fill="url(#gR)"/>
<circle cx="946.1" cy="1160.8" r="8.4" fill="url(#gR)"/>
<circle cx="991.3" cy="1160.8" r="8.4" fill="url(#gR)"/>
<circle cx="1036.4" cy="1160.8" r="8.4" fill="url(#gR)"/>
<circle cx="201.3" cy="1163.8" r="13.8" fill="url(#gT)"/>
<circle cx="246.4" cy="1163.8" r="13.8" fill="url(#gT)"/>
<circle cx="291.6" cy="1163.8" r="13.8" fill="url(#gT)"/>
<circle cx="336.7" cy="1163.8" r="13.8" fill="url(#gT)"/>
<circle cx="381.9" cy="1163.8" r="13.8" fill="url(#gT)"/>
<circle cx="427" cy="1163.8" r="13.8" fill="url(#gT)"/>
<circle cx="472.2" cy="1163.8" r="13.8" fill="url(#gT)"/>
<circle cx="517.3" cy="1163.8" r="13.8" fill="url(#gT)"/>
<circle cx="562.4" cy="1163.8" r="13.8" fill="url(#gT)"/>
<circle cx="607.6" cy="1163.8" r="13.8" fill="url(#gT)"/>
<circle cx="652.7" cy="1163.8" r="13.8" fill="url(#gT)"/>
<circle cx="697.9" cy="1163.8" r="13.8" fill="url(#gT)"/>
<circle cx="743" cy="1163.8" r="13.8" fill="url(#gT)"/>
<circle cx="788.1" cy="1163.8" r="13.8" fill="url(#gT)"/>
<circle cx="833.3" cy="1163.8" r="13.8" fill="url(#gT)"/>
<circle cx="878.4" cy="1163.8" r="13.8" fill="url(#gT)"/>
<circle cx="923.6" cy="1163.8" r="13.8" fill="url(#gT)"/>
<circle cx="968.7" cy="1163.8" r="13.8" fill="url(#gT)"/>
<circle cx="1013.9" cy="1163.8" r="13.8" fill="url(#gT)"/>
<circle cx="1059" cy="1163.8" r="13.8" fill="url(#gT)"/>
<circle cx="212.6" cy="1171" r="8.6" fill="url(#gR)"/>
<circle cx="259.1" cy="1171" r="8.6" fill="url(#gR)"/>
<circle cx="305.5" cy="1171" r="8.6" fill="url(#gR)"/>
<circle cx="352" cy="1171" r="8.6" fill="url(#gR)"/>
<circle cx="398.4" cy="1171" r="8.6" fill="url(#gR)"/>
<circle cx="444.9" cy="1171" r="8.6" fill="url(#gR)"/>
<circle cx="491.3" cy="1171" r="8.6" fill="url(#gR)"/>
<circle cx="537.8" cy="1171" r="8.6" fill="url(#gR)"/>
<circle cx="584.2" cy="1171" r="8.6" fill="url(#gR)"/>
<circle cx="630.7" cy="1171" r="8.6" fill="url(#gR)"/>
<circle cx="677.1" cy="1171" r="8.6" fill="url(#gR)"/>
<circle cx="723.6" cy="1171" r="8.6" fill="url(#gR)"/>
<circle cx="770" cy="1171" r="8.6" fill="url(#gR)"/>
<circle cx="816.5" cy="1171" r="8.6" fill="url(#gR)"/>
<circle cx="862.9" cy="1171" r="8.6" fill="url(#gR)"/>
<circle cx="909.4" cy="1171" r="8.6" fill="url(#gR)"/>
<circle cx="955.8" cy="1171" r="8.6" fill="url(#gR)"/>
<circle cx="1002.3" cy="1171" r="8.6" fill="url(#gR)"/>
<circle cx="1048.7" cy="1171" r="8.6" fill="url(#gR)"/>
<circle cx="189.4" cy="1174" r="14.2" fill="url(#gT)"/>
<circle cx="235.9" cy="1174" r="14.2" fill="url(#gT)"/>
<circle cx="282.3" cy="1174" r="14.2" fill="url(#gT)"/>
<circle cx="328.8" cy="1174" r="14.2" fill="url(#gT)"/>
<circle cx="375.2" cy="1174" r="14.2" fill="url(#gT)"/>
<circle cx="421.6" cy="1174" r="14.2" fill="url(#gT)"/>
<circle cx="468.1" cy="1174" r="14.2" fill="url(#gT)"/>
<circle cx="514.6" cy="1174" r="14.2" fill="url(#gT)"/>
<circle cx="561" cy="1174" r="14.2" fill="url(#gT)"/>
<circle cx="607.5" cy="1174" r="14.2" fill="url(#gT)"/>
<circle cx="653.9" cy="1174" r="14.2" fill="url(#gT)"/>
<circle cx="700.4" cy="1174" r="14.2" fill="url(#gT)"/>
<circle cx="746.8" cy="1174" r="14.2" fill="url(#gT)"/>
<circle cx="793.2" cy="1174" r="14.2" fill="url(#gT)"/>
<circle cx="839.7" cy="1174" r="14.2" fill="url(#gT)"/>
<circle cx="886.1" cy="1174" r="14.2" fill="url(#gT)"/>
<circle cx="932.6" cy="1174" r="14.2" fill="url(#gT)"/>
<circle cx="979.1" cy="1174" r="14.2" fill="url(#gT)"/>
<circle cx="1025.5" cy="1174" r="14.2" fill="url(#gT)"/>
<circle cx="1072" cy="1174" r="14.2" fill="url(#gT)"/>
<rect x="178" y="1233.5" width="903.5" height="32" rx="9" fill="url(#plateTop)"/>
<path d="M445.4 825.7 L448.2 863 L436.7 877.5 L440.6 887 L432 906 L433 915.8 L421.4 928.2 L421.4 939.7 L431 948.4 L440.6 949.3 L435.8 963.7 L424.3 973.3 L426.2 987.6 L418.5 1000 L403.4 1014.4 L403.4 1051.8" fill="none" stroke="#ffffff" stroke-opacity="0.6" stroke-width="12" stroke-linejoin="round" filter="url(#blur4)"/><path d="M445.4 825.7 L448.2 863 L436.7 877.5 L440.6 887 L432 906 L433 915.8 L421.4 928.2 L421.4 939.7 L431 948.4 L440.6 949.3 L435.8 963.7 L424.3 973.3 L426.2 987.6 L418.5 1000 L403.4 1014.4 L403.4 1051.8" fill="none" stroke="#fbfff0" stroke-width="4.2" stroke-linejoin="round"/>
<path d="M560.7 826.4 L573.5 852 L575.1 880.6 L586.3 890.2 L586.3 903 L597.4 915.7 L607 928.5 L610.2 935 L603.8 947.7 L597.4 957.2 L600.6 966.8 L610.2 973.2 L616.6 982.8 L626.2 992.3 L639 998.7 L645.3 1011.5 L646.9 1027.4 L654.9 1040.2 L661.3 1053" fill="none" stroke="#ffffff" stroke-opacity="0.6" stroke-width="12" stroke-linejoin="round" filter="url(#blur4)"/><path d="M560.7 826.4 L573.5 852 L575.1 880.6 L586.3 890.2 L586.3 903 L597.4 915.7 L607 928.5 L610.2 935 L603.8 947.7 L597.4 957.2 L600.6 966.8 L610.2 973.2 L616.6 982.8 L626.2 992.3 L639 998.7 L645.3 1011.5 L646.9 1027.4 L654.9 1040.2 L661.3 1053" fill="none" stroke="#fbfff0" stroke-width="4.2" stroke-linejoin="round"/>
<path d="M845.5 826.7 L841.9 865 L855 889 L862.2 920 L847.8 948.8 L855 963 L864.6 977.5 L879 1001.4 L886.1 1018 L883.7 1049" fill="none" stroke="#ffffff" stroke-opacity="0.6" stroke-width="12" stroke-linejoin="round" filter="url(#blur4)"/><path d="M845.5 826.7 L841.9 865 L855 889 L862.2 920 L847.8 948.8 L855 963 L864.6 977.5 L879 1001.4 L886.1 1018 L883.7 1049" fill="none" stroke="#fbfff0" stroke-width="4.2" stroke-linejoin="round"/>
<path d="M403.4 1051.8 L380 1090 L355 1130 L335 1165 L328.7 1180 L321.5 1234" fill="none" stroke="#e8fbff" stroke-opacity="0.55" stroke-width="16" stroke-linejoin="round" stroke-linecap="round" filter="url(#blur4)"/>
<path d="M403.4 1051.8 L380 1090 L355 1130 L335 1165 L328.7 1180 L321.5 1234" fill="none" stroke="#f4ffff" stroke-opacity="0.7" stroke-width="3" stroke-linejoin="round"/>
<path d="M661.3 1053 L683.6 1069 L715.5 1083.3 L747.4 1099.2 L775 1115" fill="none" stroke="#e8fbff" stroke-opacity="0.55" stroke-width="16" stroke-linejoin="round" stroke-linecap="round" filter="url(#blur4)"/>
<path d="M661.3 1053 L683.6 1069 L715.5 1083.3 L747.4 1099.2 L775 1115" fill="none" stroke="#f4ffff" stroke-opacity="0.7" stroke-width="3" stroke-linejoin="round"/>
<path d="M883.7 1049 L891 1073 L900.5 1109 L924.4 1133 L943.5 1157 L955.5 1192.8 L962.7 1228.7" fill="none" stroke="#e8fbff" stroke-opacity="0.55" stroke-width="16" stroke-linejoin="round" stroke-linecap="round" filter="url(#blur4)"/>
<path d="M883.7 1049 L891 1073 L900.5 1109 L924.4 1133 L943.5 1157 L955.5 1192.8 L962.7 1228.7" fill="none" stroke="#f4ffff" stroke-opacity="0.7" stroke-width="3" stroke-linejoin="round"/>
<circle cx="278" cy="880" r="20" fill="url(#gB)" opacity="0.7" filter="url(#blur4)"/>
<circle cx="318" cy="854" r="20" fill="url(#gB)" opacity="0.7" filter="url(#blur4)"/>
<line x1="272" y1="872" x2="310" y2="858" stroke="#c8c8ff" stroke-width="5"/>
<circle cx="272" cy="872" r="17.5" fill="url(#gB)"/>
<circle cx="310" cy="858" r="17.5" fill="url(#gB)"/>
<circle cx="229" cy="950" r="20" fill="url(#gB)" opacity="0.7" filter="url(#blur4)"/>
<circle cx="260" cy="964" r="20" fill="url(#gB)" opacity="0.7" filter="url(#blur4)"/>
<line x1="223" y1="942" x2="252" y2="968" stroke="#c8c8ff" stroke-width="5"/>
<circle cx="223" cy="942" r="17.5" fill="url(#gB)"/>
<circle cx="252" cy="968" r="17.5" fill="url(#gB)"/>
<circle cx="167" cy="898" r="14" fill="url(#gW)" opacity="0.7" filter="url(#blur4)"/>
<circle cx="185" cy="914" r="14" fill="url(#gW)" opacity="0.7" filter="url(#blur4)"/>
<circle cx="172" cy="898" r="10" fill="url(#gW)"/>
<circle cx="180" cy="914" r="10" fill="url(#gW)"/>
<circle cx="295" cy="896" r="14" fill="url(#gW)" opacity="0.7" filter="url(#blur4)"/>
<circle cx="324" cy="913" r="14" fill="url(#gW)" opacity="0.7" filter="url(#blur4)"/>
<circle cx="300" cy="896" r="10" fill="url(#gW)"/>
<circle cx="319" cy="913" r="10" fill="url(#gW)"/>
<circle cx="300" cy="1020" r="14" fill="url(#gW)" opacity="0.7" filter="url(#blur4)"/>
<circle cx="330" cy="1006" r="14" fill="url(#gW)" opacity="0.7" filter="url(#blur4)"/>
<circle cx="305" cy="1020" r="10" fill="url(#gW)"/>
<circle cx="325" cy="1006" r="10" fill="url(#gW)"/>
<circle cx="269" cy="1050" r="19" fill="url(#gB)" opacity="0.55" filter="url(#blur2)"/>
<circle cx="259" cy="1053" r="19" fill="url(#gB)" opacity="0.55" filter="url(#blur2)"/>
<circle cx="252" cy="1063" r="19" fill="url(#gB)" opacity="0.55" filter="url(#blur2)"/>
<circle cx="318" cy="1106" r="19" fill="url(#gB)" opacity="0.6" filter="url(#blur2)"/>
<circle cx="320" cy="1093" r="19" fill="url(#gB)" opacity="0.6" filter="url(#blur2)"/>
<line x1="270" y1="1074" x2="310" y2="1074" stroke="#c8c8ff" stroke-width="1.5"/>
<line x1="270" y1="1080" x2="310" y2="1080" stroke="#c8c8ff" stroke-width="1.5"/>
<circle cx="258" cy="1077" r="19" fill="url(#gB)"/>
<circle cx="320" cy="1077.6" r="19" fill="url(#gB)"/>
<circle cx="588" cy="855" r="12.8" fill="url(#gV)"/>
<circle cx="579.4" cy="927.6" r="20.5" fill="url(#gB)"/>
<line x1="662" y1="929" x2="666.6" y2="961" stroke="#c8c8ff" stroke-width="2"/>
<circle cx="662" cy="928.7" r="14" fill="url(#gB)"/>
<circle cx="666.6" cy="962" r="9" fill="url(#gW)"/>
<circle cx="715.5" cy="991.5" r="8" fill="url(#gW)"/>
<circle cx="554.4" cy="1016" r="17" fill="url(#gB)"/>
<circle cx="624" cy="996" r="12" fill="url(#gV)" opacity="0.7"/>
<circle cx="676.5" cy="1024.7" r="17" fill="url(#gB)"/>
<line x1="777" y1="1022" x2="807" y2="1055" stroke="#c8c8ff" stroke-width="3"/>
<circle cx="777" cy="1021.8" r="12" fill="url(#gW)"/>
<circle cx="807.4" cy="1055.5" r="22" fill="url(#gB)"/>
<line x1="567.8" y1="1083.4" x2="614.3" y2="1085.8" stroke="#c8c8ff" stroke-width="3"/>
<circle cx="567.8" cy="1083.4" r="20.5" fill="url(#gB)"/>
<circle cx="614.3" cy="1085.8" r="11.5" fill="url(#gW)"/>
<line x1="1022.6" y1="913" x2="1026.7" y2="884" stroke="#c8c8ff" stroke-width="2"/>
<line x1="1022.6" y1="913" x2="1040" y2="921.7" stroke="#c8c8ff" stroke-width="2"/>
<line x1="1022.6" y1="913" x2="999.4" y2="932" stroke="#c8c8ff" stroke-width="2"/>
<circle cx="1026.7" cy="884" r="8" fill="url(#gW)"/>
<circle cx="1022.6" cy="913" r="14" fill="url(#gB)"/>
<circle cx="1040" cy="921.7" r="9" fill="url(#gW)"/>
<circle cx="999.4" cy="932" r="8" fill="url(#gW)"/>
<line x1="879" y1="926.4" x2="922" y2="938" stroke="#c8c8ff" stroke-width="2"/>
<circle cx="879" cy="926.4" r="12" fill="url(#gV)" opacity="0.8"/>
<circle cx="947" cy="927.6" r="12" fill="url(#gW)"/>
<circle cx="922" cy="938" r="20.5" fill="url(#gB)"/>
<circle cx="942.4" cy="959.5" r="12" fill="url(#gW)"/>
<line x1="990.6" y1="1027.6" x2="1011.5" y2="1061" stroke="#c8c8ff" stroke-width="2"/>
<line x1="1011.5" y1="1061" x2="1016.8" y2="1093" stroke="#c8c8ff" stroke-width="2"/>
<circle cx="990.6" cy="1027.6" r="11" fill="url(#gW)"/>
<circle cx="1029.6" cy="1066" r="8" fill="url(#gW)"/>
<circle cx="1011.5" cy="1061" r="18" fill="url(#gB)"/>
<circle cx="1016.8" cy="1093" r="11" fill="url(#gW)"/>
<text x="606" y="865" font-family="'Liberation Sans', Arial, sans-serif" fill="#ffffff" font-size="29">H</text>
<text x="535.5" y="940" font-family="'Liberation Sans', Arial, sans-serif" fill="#ffffff" font-size="30">N</text>
<text x="1063" y="908.6" font-family="'Liberation Sans', Arial, sans-serif" fill="#ffffff" font-size="29.5">NH<tspan font-size="14.5" font-weight="bold">3</tspan></text>
<text x="806" y="1032" font-family="'Liberation Sans', Arial, sans-serif" fill="#ffffff" font-size="28.5">NH</text>
<text x="175" y="1086.5" font-family="'Liberation Sans', Arial, sans-serif" fill="#ffffff" font-size="29.7">N<tspan font-size="14.5" font-weight="bold">2</tspan>(v)</text>
<text x="1096" y="1211" font-family="'Liberation Sans', Arial, sans-serif" fill="#ffffff" font-size="28.5">PZT</text>
</g>
<g font-family="'Liberation Sans', Arial, sans-serif">
<text x="1233.1" y="20.5" font-size="28" letter-spacing="1">b)</text>
<line x1="1345.8" y1="506" x2="1345.8" y2="534.9" stroke="#e89c94" stroke-width="2.6"/>
<line x1="1349.1" y1="498.5" x2="1349.1" y2="534.9" stroke="#e89c94" stroke-width="2.6"/>
<line x1="1433.8" y1="397.3" x2="1433.8" y2="534.9" stroke="#e89c94" stroke-width="2.6"/>
<line x1="1435.7" y1="457" x2="1435.7" y2="534.9" stroke="#e89c94" stroke-width="2.6"/>
<line x1="1501.8" y1="495.5" x2="1501.8" y2="534.9" stroke="#e89c94" stroke-width="2.6"/>
<line x1="1555.4" y1="515" x2="1555.4" y2="534.9" stroke="#e89c94" stroke-width="2.6"/>
<line x1="1561.9" y1="495.5" x2="1561.9" y2="534.9" stroke="#e89c94" stroke-width="2.6"/>
<line x1="1608" y1="517.5" x2="1608" y2="534.9" stroke="#e89c94" stroke-width="2.6"/>
<line x1="1613.1" y1="519.5" x2="1613.1" y2="534.9" stroke="#e89c94" stroke-width="2.6"/>
<line x1="1656.9" y1="509.5" x2="1656.9" y2="534.9" stroke="#e89c94" stroke-width="2.6"/>
<line x1="1661.1" y1="490.5" x2="1661.1" y2="534.9" stroke="#e89c94" stroke-width="2.6"/>
<line x1="1746.8" y1="516" x2="1746.8" y2="534.9" stroke="#e89c94" stroke-width="2.6"/>
<line x1="1752.3" y1="520.5" x2="1752.3" y2="534.9" stroke="#e89c94" stroke-width="2.6"/>
<line x1="1783.1" y1="527" x2="1783.1" y2="534.9" stroke="#e89c94" stroke-width="2.6"/>
<line x1="1787.7" y1="521.5" x2="1787.7" y2="534.9" stroke="#e89c94" stroke-width="2.6"/>
<line x1="1792.4" y1="527" x2="1792.4" y2="534.9" stroke="#e89c94" stroke-width="2.6"/>
<line x1="1823.1" y1="523.5" x2="1823.1" y2="534.9" stroke="#e89c94" stroke-width="2.6"/>
<line x1="1832.4" y1="521.5" x2="1832.4" y2="534.9" stroke="#e89c94" stroke-width="2.6"/>
<line x1="1862.2" y1="526" x2="1862.2" y2="534.9" stroke="#e89c94" stroke-width="2.6"/>
<line x1="1871.5" y1="524" x2="1871.5" y2="534.9" stroke="#e89c94" stroke-width="2.6"/>
<line x1="1908.8" y1="523.5" x2="1908.8" y2="534.9" stroke="#e89c94" stroke-width="2.6"/>
<line x1="1941.4" y1="526" x2="1941.4" y2="534.9" stroke="#e89c94" stroke-width="2.6"/>
<line x1="1947" y1="527" x2="1947" y2="534.9" stroke="#e89c94" stroke-width="2.6"/>
<line x1="1951.6" y1="527.5" x2="1951.6" y2="534.9" stroke="#e89c94" stroke-width="2.6"/>
<line x1="1981.4" y1="523.5" x2="1981.4" y2="534.9" stroke="#e89c94" stroke-width="2.6"/>
<circle cx="1345.8" cy="506" r="5.6" fill="#e89c94"/>
<circle cx="1349.1" cy="498.5" r="5.6" fill="#e89c94"/>
<circle cx="1433.8" cy="397.3" r="5.6" fill="#e89c94"/>
<circle cx="1435.7" cy="457" r="5.6" fill="#e89c94"/>
<circle cx="1501.8" cy="495.5" r="5.6" fill="#e89c94"/>
<circle cx="1555.4" cy="515" r="5.6" fill="#e89c94"/>
<circle cx="1561.9" cy="495.5" r="5.6" fill="#e89c94"/>
<circle cx="1608" cy="517.5" r="5.6" fill="#e89c94"/>
<circle cx="1613.1" cy="519.5" r="5.6" fill="#e89c94"/>
<circle cx="1656.9" cy="509.5" r="5.6" fill="#e89c94"/>
<circle cx="1661.1" cy="490.5" r="5.6" fill="#e89c94"/>
<circle cx="1746.8" cy="516" r="5.6" fill="#e89c94"/>
<circle cx="1752.3" cy="520.5" r="5.6" fill="#e89c94"/>
<circle cx="1783.1" cy="527" r="5.6" fill="#e89c94"/>
<circle cx="1787.7" cy="521.5" r="5.6" fill="#e89c94"/>
<circle cx="1792.4" cy="527" r="5.6" fill="#e89c94"/>
<circle cx="1823.1" cy="523.5" r="5.6" fill="#e89c94"/>
<circle cx="1832.4" cy="521.5" r="5.6" fill="#e89c94"/>
<circle cx="1862.2" cy="526" r="5.6" fill="#e89c94"/>
<circle cx="1871.5" cy="524" r="5.6" fill="#e89c94"/>
<circle cx="1908.8" cy="523.5" r="5.6" fill="#e89c94"/>
<circle cx="1941.4" cy="526" r="5.6" fill="#e89c94"/>
<circle cx="1947" cy="527" r="5.6" fill="#e89c94"/>
<circle cx="1951.6" cy="527.5" r="5.6" fill="#e89c94"/>
<circle cx="1981.4" cy="523.5" r="5.6" fill="#e89c94"/>
<path d="M1331.4 369.9 L1331.8 371.3 L1332.1 371.1 L1332.5 370 L1332.9 370.5 L1333.3 370.3 L1333.6 370.7 L1334 370.9 L1334.4 369.4 L1334.8 369.2 L1335.1 370.8 L1335.5 369.9 L1335.9 370.5 L1336.2 368.8 L1336.6 369.6 L1337 370 L1337.4 368.9 L1337.7 370.2 L1338.1 369.9 L1338.5 368 L1338.9 367.7 L1339.2 368.4 L1339.6 368.9 L1340 367.3 L1340.3 366.5 L1340.7 366.2 L1341.1 364.6 L1341.5 363.9 L1341.8 363 L1342.2 361.4 L1342.6 358.8 L1342.9 356.4 L1343.3 353.5 L1343.7 350.7 L1344.1 346.7 L1344.4 342.3 L1344.8 339.9 L1345.2 335.6 L1345.6 332.5 L1345.9 329.5 L1346.3 330.3 L1346.7 330.8 L1347 331.5 L1347.4 335.1 L1347.8 339.7 L1348.2 343.6 L1348.5 348 L1348.9 350.6 L1349.3 354.7 L1349.7 357.3 L1350 359 L1350.4 361.6 L1350.8 363.8 L1351.1 365.1 L1351.5 365.5 L1351.9 366.5 L1352.3 366.1 L1352.6 367 L1353 368.5 L1353.4 368.1 L1353.8 367.9 L1354.1 368.9 L1354.5 369.4 L1354.9 369.6 L1355.2 369.1 L1355.6 369.4 L1356 369.7 L1356.4 370.3 L1356.7 369.9 L1357.1 369.7 L1357.5 370 L1357.8 369.2 L1358.2 369.3 L1358.6 370.6 L1359 371.2 L1359.3 370.5 L1359.7 370.2 L1360.1 369.8 L1360.5 370.5 L1360.8 371.5 L1361.2 371.1 L1361.6 370.6 L1361.9 371.3 L1362.3 370.1 L1362.7 370.7 L1363.1 371.6 L1363.4 370.8 L1363.8 370.6 L1364.2 370.3 L1364.6 370.8 L1364.9 371.7 L1365.3 369.8 L1365.7 371.4 L1366 371.4 L1366.4 371.6 L1366.8 371.3 L1367.2 371.5 L1367.5 370.9 L1367.9 371 L1368.3 370.7 L1368.7 370 L1369 371.6 L1369.4 371 L1369.8 370.3 L1370.1 370.9 L1370.5 370.9 L1370.9 370.6 L1371.3 370.6 L1371.6 371 L1372 371.2 L1372.4 371.1 L1372.7 370.8 L1373.1 370 L1373.5 370.4 L1373.9 370.3 L1374.2 371.1 L1374.6 371.6 L1375 371.5 L1375.4 371.5 L1375.7 371.6 L1376.1 370.4 L1376.5 371.6 L1376.8 371.3 L1377.2 370.1 L1377.6 370 L1378 369.9 L1378.3 371.4 L1378.7 370.4 L1379.1 370.1 L1379.5 371.2 L1379.8 370.6 L1380.2 370 L1380.6 370.2 L1380.9 370.9 L1381.3 370.2 L1381.7 370.4 L1382.1 371.3 L1382.4 370.8 L1382.8 370.5 L1383.2 370.8 L1383.6 369.9 L1383.9 370.6 L1384.3 370.7 L1384.7 370.2 L1385 370 L1385.4 371.6 L1385.8 370.8 L1386.2 370.2 L1386.5 371 L1386.9 371.4 L1387.3 369.8 L1387.6 369.8 L1388 370 L1388.4 371.2 L1388.8 370 L1389.1 371.1 L1389.5 371 L1389.9 370.8 L1390.3 370.1 L1390.6 371.6 L1391 371.2 L1391.4 370.6 L1391.7 370 L1392.1 370.8 L1392.5 370.3 L1392.9 370.6 L1393.2 370.1 L1393.6 370.7 L1394 369.5 L1394.4 369.9 L1394.7 371.2 L1395.1 371 L1395.5 369.8 L1395.8 370.8 L1396.2 369.7 L1396.6 370.8 L1397 370.4 L1397.3 369.6 L1397.7 369.2 L1398.1 368.5 L1398.5 370.1 L1398.8 368.3 L1399.2 369.7 L1399.6 369.8 L1399.9 368.8 L1400.3 367.8 L1400.7 369 L1401.1 369 L1401.4 368.2 L1401.8 367.6 L1402.2 367.1 L1402.6 366.8 L1402.9 366.3 L1403.3 367 L1403.7 366.4 L1404 365.8 L1404.4 365.5 L1404.8 366.5 L1405.2 365.7 L1405.5 366.2 L1405.9 365.9 L1406.3 367 L1406.6 367.2 L1407 365.6 L1407.4 366.1 L1407.8 366.5 L1408.1 368 L1408.5 367.8 L1408.9 367 L1409.3 366.9 L1409.6 368 L1410 368.5 L1410.4 368.8 L1410.7 367.7 L1411.1 368.8 L1411.5 368.5 L1411.9 368.2 L1412.2 369.2 L1412.6 367.7 L1413 368.7 L1413.4 367.4 L1413.7 367.6 L1414.1 369 L1414.5 367.6 L1414.8 368.6 L1415.2 368.2 L1415.6 368.6 L1416 367.6 L1416.3 367.4 L1416.7 367.2 L1417.1 368.2 L1417.5 367.5 L1417.8 368.1 L1418.2 367.8 L1418.6 366.1 L1418.9 366.7 L1419.3 365.6 L1419.7 365.2 L1420.1 365 L1420.4 366.3 L1420.8 365.9 L1421.2 365.6 L1421.5 364.3 L1421.9 364.4 L1422.3 364.3 L1422.7 363 L1423 362.9 L1423.4 361.6 L1423.8 360.7 L1424.2 360.3 L1424.5 360.8 L1424.9 359.2 L1425.3 358.9 L1425.6 356.9 L1426 355.2 L1426.4 354.6 L1426.8 352.8 L1427.1 349 L1427.5 347.5 L1427.9 343 L1428.3 338.7 L1428.6 334.8 L1429 326.3 L1429.4 318.1 L1429.7 309 L1430.1 294.9 L1430.5 278.7 L1430.9 260.5 L1431.2 239.6 L1431.6 217.4 L1432 191.1 L1432.4 167.3 L1432.7 142.1 L1433.1 123 L1433.5 109.1 L1433.8 103 L1434.2 107.8 L1434.6 122 L1435 141.6 L1435.3 166.8 L1435.7 191 L1436.1 215.9 L1436.4 241.1 L1436.8 260.7 L1437.2 279.6 L1437.6 294.9 L1437.9 307.7 L1438.3 317.8 L1438.7 328.1 L1439.1 335 L1439.4 340.5 L1439.8 343 L1440.2 346.7 L1440.5 350.2 L1440.9 353.2 L1441.3 354.2 L1441.7 356 L1442 357.3 L1442.4 357.7 L1442.8 359.3 L1443.2 359.7 L1443.5 360.4 L1443.9 360.8 L1444.3 361.8 L1444.6 363.8 L1445 363.3 L1445.4 364.2 L1445.8 364.6 L1446.1 365.6 L1446.5 364.9 L1446.9 365 L1447.3 365.4 L1447.6 365.7 L1448 367 L1448.4 367.3 L1448.7 366.4 L1449.1 366.7 L1449.5 367.3 L1449.9 367.5 L1450.2 367.7 L1450.6 367.2 L1451 366.9 L1451.3 367.5 L1451.7 367.3 L1452.1 368.4 L1452.5 367.5 L1452.8 367.7 L1453.2 368.9 L1453.6 368.3 L1454 369.4 L1454.3 368.9 L1454.7 369.7 L1455.1 368.4 L1455.4 369.2 L1455.8 369.8 L1456.2 368.5 L1456.6 370.3 L1456.9 368.8 L1457.3 370 L1457.7 370.5 L1458.1 370.2 L1458.4 369.3 L1458.8 368.9 L1459.2 369.8 L1459.5 370.6 L1459.9 369.4 L1460.3 370.7 L1460.7 369.2 L1461 370.8 L1461.4 369.1 L1461.8 369.7 L1462.2 370.9 L1462.5 370.7 L1462.9 370.9 L1463.3 370.8 L1463.6 370.7 L1464 370.6 L1464.4 369.6 L1464.8 370.1 L1465.1 369.6 L1465.5 370.7 L1465.9 370.7 L1466.3 369.9 L1466.6 369.5 L1467 371.3 L1467.4 371 L1467.7 370.5 L1468.1 370.5 L1468.5 371.2 L1468.9 370.4 L1469.2 370.3 L1469.6 370.2 L1470 370 L1470.3 369.6 L1470.7 370.8 L1471.1 370.4 L1471.5 370.7 L1471.8 369.7 L1472.2 370.3 L1472.6 369.9 L1473 369.9 L1473.3 370.1 L1473.7 371.3 L1474.1 370.4 L1474.4 370.5 L1474.8 370.9 L1475.2 370.1 L1475.6 369.7 L1475.9 370.7 L1476.3 370.7 L1476.7 371 L1477.1 370.6 L1477.4 371.1 L1477.8 371.2 L1478.2 370.2 L1478.5 370.7 L1478.9 370.7 L1479.3 370.2 L1479.7 370.5 L1480 370.8 L1480.4 371.5 L1480.8 371.6 L1481.2 370.3 L1481.5 371 L1481.9 369.8 L1482.3 369.9 L1482.6 370.7 L1483 371.5 L1483.4 370 L1483.8 371.2 L1484.1 371.5 L1484.5 370.3 L1484.9 371.1 L1485.2 371.4 L1485.6 370.4 L1486 371 L1486.4 371.1 L1486.7 370.8 L1487.1 371.3 L1487.5 371.4 L1487.9 371.5 L1488.2 370.7 L1488.6 369.9 L1489 370 L1489.3 369.9 L1489.7 370.6 L1490.1 370.9 L1490.5 369.4 L1490.8 370.7 L1491.2 370.7 L1491.6 369.9 L1492 370.1 L1492.3 369.4 L1492.7 370.4 L1493.1 369 L1493.4 370.7 L1493.8 370.3 L1494.2 369.8 L1494.6 368.9 L1494.9 370 L1495.3 369.9 L1495.7 368 L1496.1 368.9 L1496.4 368.6 L1496.8 367.7 L1497.2 367 L1497.5 365.4 L1497.9 365 L1498.3 363.1 L1498.7 359.4 L1499 357.1 L1499.4 352.5 L1499.8 347.4 L1500.1 342.6 L1500.5 337 L1500.9 333.6 L1501.3 329.6 L1501.6 325.7 L1502 326.6 L1502.4 328.5 L1502.8 332 L1503.1 337.3 L1503.5 342.5 L1503.9 348.6 L1504.2 351.6 L1504.6 355.9 L1505 359.6 L1505.4 361.2 L1505.7 364.4 L1506.1 365.8 L1506.5 367.3 L1506.9 366.8 L1507.2 367.6 L1507.6 368.5 L1508 368.3 L1508.3 369.2 L1508.7 368.7 L1509.1 369.8 L1509.5 370.2 L1509.8 370.3 L1510.2 370.8 L1510.6 370 L1511 370 L1511.3 370.8 L1511.7 370.7 L1512.1 370.4 L1512.4 370.1 L1512.8 369.9 L1513.2 369.6 L1513.6 371.1 L1513.9 369.7 L1514.3 371 L1514.7 370.7 L1515 371.5 L1515.4 371.1 L1515.8 371.6 L1516.2 369.9 L1516.5 370.7 L1516.9 370.9 L1517.3 370.4 L1517.7 370.8 L1518 370.5 L1518.4 370.8 L1518.8 369.8 L1519.1 370.7 L1519.5 370.7 L1519.9 370.4 L1520.3 370.6 L1520.6 371.4 L1521 371.2 L1521.4 370.8 L1521.8 371.2 L1522.1 370.6 L1522.5 370.3 L1522.9 369.9 L1523.2 370.4 L1523.6 371.1 L1524 371.6 L1524.4 371.5 L1524.7 370.9 L1525.1 371.9 L1525.5 370.8 L1525.9 371.6 L1526.2 370.7 L1526.6 371.4 L1527 371.9 L1527.3 370.5 L1527.7 370.2 L1528.1 371.1 L1528.5 370.9 L1528.8 370.6 L1529.2 369.9 L1529.6 370.6 L1530 370.7 L1530.3 370.7 L1530.7 371.6 L1531.1 371 L1531.4 371.3 L1531.8 371.6 L1532.2 371.3 L1532.6 370.8 L1532.9 371.3 L1533.3 371 L1533.7 371 L1534 371 L1534.4 370.5 L1534.8 371 L1535.2 371 L1535.5 371.5 L1535.9 371.2 L1536.3 371.3 L1536.7 371.1 L1537 371.2 L1537.4 370.8 L1537.8 370.2 L1538.1 370 L1538.5 370.9 L1538.9 371.2 L1539.3 370.5 L1539.6 369.7 L1540 371 L1540.4 370.2 L1540.8 370.2 L1541.1 369.3 L1541.5 370.1 L1541.9 370.5 L1542.2 369.8 L1542.6 369.6 L1543 370.2 L1543.4 368.8 L1543.7 369.7 L1544.1 370.4 L1544.5 369.8 L1544.9 369.1 L1545.2 369.6 L1545.6 369.2 L1546 368.3 L1546.3 368.1 L1546.7 369.2 L1547.1 367.7 L1547.5 367 L1547.8 368.2 L1548.2 367.1 L1548.6 366.3 L1548.9 365.9 L1549.3 365.6 L1549.7 363.4 L1550.1 363.1 L1550.4 361.6 L1550.8 359.8 L1551.2 356.3 L1551.6 354 L1551.9 349.8 L1552.3 346.6 L1552.7 341.4 L1553 338 L1553.4 333.3 L1553.8 327.7 L1554.2 323.7 L1554.5 322.6 L1554.9 321.1 L1555.3 322.2 L1555.7 323.1 L1556 328.6 L1556.4 332.4 L1556.8 336.5 L1557.1 341.3 L1557.5 346.1 L1557.9 349.9 L1558.3 351.9 L1558.6 355.4 L1559 356.5 L1559.4 359.6 L1559.8 359.6 L1560.1 361.1 L1560.5 360.9 L1560.9 360.5 L1561.2 359.4 L1561.6 359.3 L1562 357.6 L1562.4 356.7 L1562.7 356.8 L1563.1 355.2 L1563.5 355.2 L1563.8 353.7 L1564.2 354.6 L1564.6 355 L1565 355 L1565.3 355.6 L1565.7 357.5 L1566.1 359.1 L1566.5 359.7 L1566.8 361.2 L1567.2 362.3 L1567.6 364.5 L1567.9 366.1 L1568.3 365.6 L1568.7 366 L1569.1 368 L1569.4 368.7 L1569.8 369.4 L1570.2 369 L1570.6 368.8 L1570.9 370 L1571.3 368.7 L1571.7 370 L1572 368.9 L1572.4 369.7 L1572.8 369.9 L1573.2 369.8 L1573.5 369.4 L1573.9 369.6 L1574.3 370.9 L1574.7 370.2 L1575 370.5 L1575.4 369.8 L1575.8 370.8 L1576.1 370.1 L1576.5 370.7 L1576.9 371.3 L1577.3 371.5 L1577.6 369.7 L1578 371.2 L1578.4 371.3 L1578.7 370.3 L1579.1 370.4 L1579.5 370.8 L1579.9 371.5 L1580.2 370.5 L1580.6 371.5 L1581 371.3 L1581.4 370.1 L1581.7 371.6 L1582.1 369.8 L1582.5 370.1 L1582.8 371.1 L1583.2 369.9 L1583.6 370.6 L1584 370.1 L1584.3 370.8 L1584.7 371.5 L1585.1 371.7 L1585.5 369.9 L1585.8 370 L1586.2 371.5 L1586.6 369.9 L1586.9 370.4 L1587.3 370.1 L1587.7 370 L1588.1 369.9 L1588.4 371.1 L1588.8 371.3 L1589.2 371.2 L1589.6 371.5 L1589.9 371.2 L1590.3 370.6 L1590.7 371.1 L1591 371.8 L1591.4 371.1 L1591.8 370.3 L1592.2 369.9 L1592.5 371.7 L1592.9 371 L1593.3 370.5 L1593.7 371 L1594 370.8 L1594.4 370.8 L1594.8 369.8 L1595.1 370.4 L1595.5 370.5 L1595.9 370 L1596.3 371.3 L1596.6 370.4 L1597 370.8 L1597.4 370.9 L1597.7 370.9 L1598.1 370.8 L1598.5 370.8 L1598.9 369.8 L1599.2 371.2 L1599.6 369.5 L1600 370.9 L1600.4 370.7 L1600.7 370.6 L1601.1 368.8 L1601.5 368.7 L1601.8 370 L1602.2 369.1 L1602.6 368.5 L1603 369.4 L1603.3 367 L1603.7 367.4 L1604.1 366.4 L1604.5 364.8 L1604.8 364.2 L1605.2 363.5 L1605.6 362.2 L1605.9 358.7 L1606.3 357.7 L1606.7 354.7 L1607.1 354 L1607.4 350.4 L1607.8 348.3 L1608.2 347.4 L1608.6 347 L1608.9 345.8 L1609.3 345.8 L1609.7 348.2 L1610 349.8 L1610.4 351.9 L1610.8 353 L1611.2 355.4 L1611.5 357.2 L1611.9 359.8 L1612.3 361.1 L1612.6 362.7 L1613 365 L1613.4 366.5 L1613.8 366.7 L1614.1 366.5 L1614.5 368.2 L1614.9 368.3 L1615.3 369.8 L1615.6 369.5 L1616 370 L1616.4 369.9 L1616.7 369.8 L1617.1 370.6 L1617.5 370.6 L1617.9 369.6 L1618.2 369.4 L1618.6 369.9 L1619 370.3 L1619.4 369.5 L1619.7 370 L1620.1 370.5 L1620.5 369.5 L1620.8 371.1 L1621.2 370.8 L1621.6 370.2 L1622 370.2 L1622.3 370.3 L1622.7 370.3 L1623.1 371.1 L1623.5 370.6 L1623.8 370.7 L1624.2 370 L1624.6 371.5 L1624.9 370.3 L1625.3 370.4 L1625.7 369.8 L1626.1 371.7 L1626.4 370.7 L1626.8 371.5 L1627.2 371.6 L1627.5 371.7 L1627.9 371.4 L1628.3 371.6 L1628.7 371.6 L1629 371.3 L1629.4 370 L1629.8 370.8 L1630.2 370.9 L1630.5 371.7 L1630.9 371.3 L1631.3 371.1 L1631.6 371.2 L1632 370.4 L1632.4 371.6 L1632.8 370.9 L1633.1 370.4 L1633.5 370.6 L1633.9 371.6 L1634.3 370.7 L1634.6 369.9 L1635 369.9 L1635.4 370.9 L1635.7 370.7 L1636.1 371.3 L1636.5 369.8 L1636.9 370.3 L1637.2 370.9 L1637.6 369.5 L1638 369.6 L1638.4 370.4 L1638.7 369.8 L1639.1 369.5 L1639.5 369.7 L1639.8 370.4 L1640.2 370.2 L1640.6 369.2 L1641 369.2 L1641.3 370.7 L1641.7 370.2 L1642.1 369.2 L1642.4 370.5 L1642.8 368.7 L1643.2 369.4 L1643.6 370.2 L1643.9 369.9 L1644.3 368.9 L1644.7 370 L1645.1 369.3 L1645.4 369.7 L1645.8 369.6 L1646.2 368.5 L1646.5 368.8 L1646.9 368.4 L1647.3 369 L1647.7 368.4 L1648 368 L1648.4 367.9 L1648.8 367.9 L1649.2 366 L1649.5 365.5 L1649.9 366 L1650.3 365.4 L1650.6 364.1 L1651 363 L1651.4 361.7 L1651.8 361.1 L1652.1 359.1 L1652.5 356.4 L1652.9 352.5 L1653.3 350.8 L1653.6 346 L1654 340.9 L1654.4 335.8 L1654.7 330.8 L1655.1 323.1 L1655.5 316.7 L1655.9 310.5 L1656.2 305.6 L1656.6 300.4 L1657 297.5 L1657.3 295.5 L1657.7 296.7 L1658.1 300 L1658.5 304.9 L1658.8 311 L1659.2 318.1 L1659.6 325 L1660 330.2 L1660.3 336.5 L1660.7 341.1 L1661.1 345.7 L1661.4 350.1 L1661.8 353.6 L1662.2 356.3 L1662.6 359.5 L1662.9 359.7 L1663.3 362.2 L1663.7 364.1 L1664.1 364.6 L1664.4 365 L1664.8 365.3 L1665.2 365.9 L1665.5 367.4 L1665.9 367.8 L1666.3 367.7 L1666.7 368.4 L1667 368.7 L1667.4 368.8 L1667.8 368.1 L1668.2 368.5 L1668.5 369.3 L1668.9 368.6 L1669.3 369.5 L1669.6 369.1 L1670 369 L1670.4 369.3 L1670.8 368.7 L1671.1 369.3 L1671.5 369.5 L1671.9 368.8 L1672.3 369.2 L1672.6 369.4 L1673 370.7 L1673.4 370.2 L1673.7 369.7 L1674.1 371.2 L1674.5 369.7 L1674.9 370.3 L1675.2 370.8 L1675.6 370.7 L1676 370.3 L1676.3 371 L1676.7 370.4 L1677.1 370.9 L1677.5 370.5 L1677.8 371.5 L1678.2 371 L1678.6 369.8 L1679 369.9 L1679.3 371.6 L1679.7 370.2 L1680.1 369.8 L1680.4 370.3 L1680.8 370.7 L1681.2 371.7 L1681.6 370.6 L1681.9 371.3 L1682.3 371.5 L1682.7 370 L1683.1 371.1 L1683.4 371.9 L1683.8 371 L1684.2 371 L1684.5 370.6 L1684.9 371.8 L1685.3 371.9 L1685.7 370.2 L1686 371.1 L1686.4 370.8 L1686.8 371.3 L1687.2 370.2 L1687.5 370.5 L1687.9 370.6 L1688.3 371 L1688.6 371.6 L1689 371.8 L1689.4 371.6 L1689.8 371.4 L1690.1 370.3 L1690.5 370.9 L1690.9 371.4 L1691.2 370.7 L1691.6 371.1 L1692 371.9 L1692.4 370.3 L1692.7 371.8 L1693.1 370.3 L1693.5 370.9 L1693.9 371.9 L1694.2 370.5 L1694.6 371.2 L1695 371 L1695.3 371.9 L1695.7 372.1 L1696.1 370.7 L1696.5 371.2 L1696.8 372 L1697.2 371.3 L1697.6 370.6 L1698 371.7 L1698.3 370.9 L1698.7 371.2 L1699.1 370.2 L1699.4 372.2 L1699.8 371.5 L1700.2 372.1 L1700.6 372.1 L1700.9 370.7 L1701.3 371.3 L1701.7 371.1 L1702.1 371.7 L1702.4 371.9 L1702.8 370.7 L1703.2 370.8 L1703.5 371.6 L1703.9 371 L1704.3 370.5 L1704.7 370.6 L1705 371.4 L1705.4 371.4 L1705.8 372.2 L1706.1 371.3 L1706.5 371.5 L1706.9 370.5 L1707.3 371.1 L1707.6 370.8 L1708 371.6 L1708.4 370.8 L1708.8 370.7 L1709.1 371 L1709.5 371.2 L1709.9 370.9 L1710.2 371.5 L1710.6 370.6 L1711 372 L1711.4 371.6 L1711.7 371.3 L1712.1 370.4 L1712.5 370.9 L1712.9 371.6 L1713.2 371.5 L1713.6 371.9 L1714 372 L1714.3 370.9 L1714.7 371.2 L1715.1 370.9 L1715.5 370.5 L1715.8 370.5 L1716.2 370.7 L1716.6 370.4 L1717 371.3 L1717.3 371.6 L1717.7 371.4 L1718.1 371.6 L1718.4 370.7 L1718.8 370.6 L1719.2 371.4 L1719.6 372 L1719.9 371.1 L1720.3 370.2 L1720.7 370.2 L1721 370.8 L1721.4 371.4 L1721.8 370.4 L1722.2 370.6 L1722.5 371.6 L1722.9 372.2 L1723.3 370.9 L1723.7 371.4 L1724 371.2 L1724.4 370.2 L1724.8 370.8 L1725.1 370.4 L1725.5 370.6 L1725.9 371.7 L1726.3 371.5 L1726.6 370.2 L1727 370.3 L1727.4 371.6 L1727.8 370.3 L1728.1 370.7 L1728.5 370.6 L1728.9 370.2 L1729.2 370.1 L1729.6 370.3 L1730 370.8 L1730.4 371.9 L1730.7 371.3 L1731.1 370.5 L1731.5 371.3 L1731.9 370.5 L1732.2 370.9 L1732.6 370.5 L1733 371.8 L1733.3 370.5 L1733.7 371.4 L1734.1 371.1 L1734.5 371.4 L1734.8 370.9 L1735.2 371.4 L1735.6 370.4 L1736 370.9 L1736.3 370.8 L1736.7 370.5 L1737.1 370.5 L1737.4 370.4 L1737.8 370 L1738.2 370.9 L1738.6 370.3 L1738.9 370 L1739.3 368.8 L1739.7 369.5 L1740 368.6 L1740.4 368.3 L1740.8 368.4 L1741.2 368.1 L1741.5 366.8 L1741.9 366.1 L1742.3 365.6 L1742.7 364.3 L1743 362.7 L1743.4 360.5 L1743.8 359.1 L1744.1 357.6 L1744.5 355.2 L1744.9 352.9 L1745.3 351.3 L1745.6 349 L1746 347.2 L1746.4 344.8 L1746.8 345 L1747.1 346.1 L1747.5 346.2 L1747.9 349.4 L1748.2 349.9 L1748.6 353.6 L1749 354.5 L1749.4 358 L1749.7 360.1 L1750.1 360.9 L1750.5 363.7 L1750.9 363.6 L1751.2 366.2 L1751.6 366.3 L1752 367.2 L1752.3 367.2 L1752.7 368.7 L1753.1 368.4 L1753.5 369.5 L1753.8 370.1 L1754.2 369.9 L1754.6 368.9 L1754.9 370.9 L1755.3 370.9 L1755.7 370.5 L1756.1 370.1 L1756.4 370.5 L1756.8 371.2 L1757.2 370.4 L1757.6 371.1 L1757.9 370.8 L1758.3 370.5 L1758.7 371.6 L1759 370.5 L1759.4 371 L1759.8 369.9 L1760.2 370.8 L1760.5 369.9 L1760.9 371.3 L1761.3 369.9 L1761.7 370 L1762 370.2 L1762.4 370.2 L1762.8 371 L1763.1 370.7 L1763.5 370.5 L1763.9 372 L1764.3 371.8 L1764.6 371.3 L1765 371.6 L1765.4 371.7 L1765.8 370.5 L1766.1 371.7 L1766.5 370.5 L1766.9 371.2 L1767.2 370.8 L1767.6 370.4 L1768 371.6 L1768.4 371.9 L1768.7 370.7 L1769.1 371.9 L1769.5 370.8 L1769.8 371.4 L1770.2 372.1 L1770.6 371.6 L1771 370.2 L1771.3 371 L1771.7 370.9 L1772.1 370.7 L1772.5 371.7 L1772.8 371 L1773.2 371.5 L1773.6 371.3 L1773.9 371.1 L1774.3 370.2 L1774.7 371.4 L1775.1 371.8 L1775.4 370.4 L1775.8 371.3 L1776.2 371 L1776.6 370.7 L1776.9 371.4 L1777.3 371.9 L1777.7 370 L1778 371.7 L1778.4 370.6 L1778.8 371.5 L1779.2 370.2 L1779.5 371.2 L1779.9 369.9 L1780.3 370.3 L1780.7 371.5 L1781 370.8 L1781.4 370.9 L1781.8 370.1 L1782.1 369.9 L1782.5 369.7 L1782.9 370 L1783.3 369.5 L1783.6 368 L1784 367.9 L1784.4 367.5 L1784.7 366.8 L1785.1 366.8 L1785.5 365.7 L1785.9 363.5 L1786.2 363.1 L1786.6 361.7 L1787 360.9 L1787.4 360.6 L1787.7 360.7 L1788.1 362 L1788.5 362.2 L1788.8 363.1 L1789.2 362.9 L1789.6 363.5 L1790 366 L1790.3 366.6 L1790.7 367.6 L1791.1 366.5 L1791.5 367.8 L1791.8 368.9 L1792.2 369.5 L1792.6 370.3 L1792.9 369.8 L1793.3 369.8 L1793.7 369.2 L1794.1 370.9 L1794.4 371.4 L1794.8 371.4 L1795.2 371 L1795.6 370.4 L1795.9 370.2 L1796.3 371.3 L1796.7 371.7 L1797 371.8 L1797.4 370.2 L1797.8 371.1 L1798.2 371 L1798.5 370.8 L1798.9 371.6 L1799.3 371.9 L1799.7 371.4 L1800 371.4 L1800.4 371.4 L1800.8 371.3 L1801.1 371.1 L1801.5 370.5 L1801.9 371.6 L1802.3 370.3 L1802.6 371.3 L1803 370.8 L1803.4 371.2 L1803.7 371.3 L1804.1 371 L1804.5 372 L1804.9 370.5 L1805.2 370.1 L1805.6 371.9 L1806 370.6 L1806.4 370.6 L1806.7 370.8 L1807.1 371.2 L1807.5 372 L1807.8 371.4 L1808.2 370.6 L1808.6 371 L1809 370.8 L1809.3 370.9 L1809.7 370.7 L1810.1 370.2 L1810.5 370.6 L1810.8 370.6 L1811.2 370.2 L1811.6 371.4 L1811.9 370.4 L1812.3 370 L1812.7 370.8 L1813.1 371.3 L1813.4 371.1 L1813.8 370.7 L1814.2 370.9 L1814.6 370 L1814.9 369.5 L1815.3 369.6 L1815.7 369.6 L1816 369.3 L1816.4 369.4 L1816.8 368.5 L1817.2 368.1 L1817.5 367.9 L1817.9 367.3 L1818.3 367.9 L1818.6 366.7 L1819 365.3 L1819.4 364.9 L1819.8 364.8 L1820.1 363.1 L1820.5 362 L1820.9 360.5 L1821.3 359 L1821.6 358.8 L1822 356.8 L1822.4 357.5 L1822.7 355.5 L1823.1 356.7 L1823.5 356.1 L1823.9 357.2 L1824.2 357.7 L1824.6 357.7 L1825 359.6 L1825.4 359.7 L1825.7 361.2 L1826.1 362.5 L1826.5 363.3 L1826.8 365 L1827.2 366.4 L1827.6 365.9 L1828 367.4 L1828.3 366.6 L1828.7 367.9 L1829.1 367.4 L1829.5 367.9 L1829.8 367 L1830.2 368.3 L1830.6 366.9 L1830.9 367.2 L1831.3 366.5 L1831.7 367.2 L1832.1 366.5 L1832.4 366.2 L1832.8 366.3 L1833.2 365.2 L1833.5 364.9 L1833.9 366.6 L1834.3 365.9 L1834.7 367.3 L1835 368 L1835.4 367.8 L1835.8 367.2 L1836.2 369.2 L1836.5 369.1 L1836.9 368.7 L1837.3 368.9 L1837.6 369.8 L1838 369.3 L1838.4 371 L1838.8 370.8 L1839.1 371.1 L1839.5 370.3 L1839.9 371.5 L1840.3 370 L1840.6 371.2 L1841 370.3 L1841.4 369.9 L1841.7 370.1 L1842.1 370.3 L1842.5 371.5 L1842.9 370.7 L1843.2 370.9 L1843.6 371.2 L1844 370.5 L1844.4 371.3 L1844.7 371.4 L1845.1 371.9 L1845.5 371.1 L1845.8 371.8 L1846.2 372 L1846.6 371.6 L1847 370.9 L1847.3 370.6 L1847.7 370.3 L1848.1 371.8 L1848.4 370.4 L1848.8 371.2 L1849.2 371 L1849.6 370.2 L1849.9 370.5 L1850.3 371.7 L1850.7 371.2 L1851.1 371.9 L1851.4 371.9 L1851.8 370.3 L1852.2 371.4 L1852.5 370.1 L1852.9 370.9 L1853.3 370.9 L1853.7 371.9 L1854 371.2 L1854.4 370.3 L1854.8 371 L1855.2 370.9 L1855.5 370.3 L1855.9 370.5 L1856.3 371.5 L1856.6 371.6 L1857 371.1 L1857.4 369.6 L1857.8 371.2 L1858.1 370.1 L1858.5 370.7 L1858.9 369.2 L1859.3 368.9 L1859.6 370.2 L1860 368.7 L1860.4 367.9 L1860.7 368.5 L1861.1 369.2 L1861.5 368.6 L1861.9 367.4 L1862.2 368.2 L1862.6 367.6 L1863 367.4 L1863.4 366.8 L1863.7 366.2 L1864.1 367.2 L1864.5 366.3 L1864.8 367.4 L1865.2 366.8 L1865.6 367.8 L1866 367.2 L1866.3 367.4 L1866.7 368.1 L1867.1 367.9 L1867.4 367.9 L1867.8 369.1 L1868.2 369.9 L1868.6 369 L1868.9 370.4 L1869.3 370.5 L1869.7 370.6 L1870.1 370.1 L1870.4 371.4 L1870.8 371.1 L1871.2 370.8 L1871.5 369.9 L1871.9 370.9 L1872.3 369.9 L1872.7 371.7 L1873 370.6 L1873.4 370.7 L1873.8 371.1 L1874.2 371.3 L1874.5 371.2 L1874.9 371.1 L1875.3 371.4 L1875.6 371.8 L1876 371 L1876.4 371.2 L1876.8 371.8 L1877.1 370.2 L1877.5 370.5 L1877.9 370.9 L1878.3 370.6 L1878.6 372 L1879 370.5 L1879.4 370.4 L1879.7 370.9 L1880.1 371.3 L1880.5 371.9 L1880.9 372.2 L1881.2 372 L1881.6 371.5 L1882 370.3 L1882.3 370.4 L1882.7 371.5 L1883.1 371.9 L1883.5 370.8 L1883.8 372.2 L1884.2 371.4 L1884.6 371.4 L1885 371.5 L1885.3 370.4 L1885.7 370.6 L1886.1 372.1 L1886.4 370.8 L1886.8 370.4 L1887.2 370.8 L1887.6 371.7 L1887.9 370.8 L1888.3 370.7 L1888.7 370.8 L1889.1 371.2 L1889.4 371.7 L1889.8 370.9 L1890.2 372 L1890.5 372.2 L1890.9 371.9 L1891.3 370.4 L1891.7 370.9 L1892 372.1 L1892.4 372 L1892.8 370.5 L1893.2 371.1 L1893.5 370.9 L1893.9 371.7 L1894.3 370.3 L1894.6 370.8 L1895 371.7 L1895.4 372 L1895.8 370.2 L1896.1 371.3 L1896.5 371.5 L1896.9 371.9 L1897.2 371 L1897.6 372 L1898 370.5 L1898.4 370.3 L1898.7 370.3 L1899.1 371.2 L1899.5 370.2 L1899.9 370.4 L1900.2 370.2 L1900.6 369.9 L1901 371.6 L1901.3 370.3 L1901.7 371.4 L1902.1 370.8 L1902.5 369.7 L1902.8 370.9 L1903.2 368.9 L1903.6 370.6 L1904 368.4 L1904.3 368.6 L1904.7 368.8 L1905.1 367.4 L1905.4 368.6 L1905.8 366.8 L1906.2 367.9 L1906.6 365.9 L1906.9 366.5 L1907.3 365.5 L1907.7 365.4 L1908.1 365.6 L1908.4 365.2 L1908.8 365.2 L1909.2 365.8 L1909.5 365 L1909.9 365.2 L1910.3 366.5 L1910.7 366.1 L1911 367.7 L1911.4 367.1 L1911.8 367.6 L1912.1 367.1 L1912.5 367.4 L1912.9 367.9 L1913.3 369.3 L1913.6 369.7 L1914 370.5 L1914.4 369.7 L1914.8 370.5 L1915.1 369.9 L1915.5 369.5 L1915.9 370.3 L1916.2 371 L1916.6 371.3 L1917 371.7 L1917.4 371.5 L1917.7 371 L1918.1 371 L1918.5 371 L1918.9 370.9 L1919.2 371.4 L1919.6 371.2 L1920 371.8 L1920.3 371 L1920.7 371 L1921.1 371.8 L1921.5 371.5 L1921.8 371.2 L1922.2 371.3 L1922.6 371.8 L1923 371.4 L1923.3 370.7 L1923.7 370.8 L1924.1 371.4 L1924.4 370.3 L1924.8 371.1 L1925.2 372 L1925.6 370.6 L1925.9 371.1 L1926.3 371.6 L1926.7 372 L1927.1 371.6 L1927.4 371.4 L1927.8 370.9 L1928.2 371 L1928.5 371.4 L1928.9 370.9 L1929.3 371.7 L1929.7 370.2 L1930 371.6 L1930.4 371.6 L1930.8 370.7 L1931.1 370.1 L1931.5 370.8 L1931.9 371.2 L1932.3 371.6 L1932.6 371.7 L1933 370.4 L1933.4 370.1 L1933.8 370.1 L1934.1 371.8 L1934.5 371.1 L1934.9 370 L1935.2 371 L1935.6 371.4 L1936 370.6 L1936.4 369.7 L1936.7 371 L1937.1 370.3 L1937.5 369 L1937.9 370 L1938.2 369.2 L1938.6 369 L1939 368.3 L1939.3 367.8 L1939.7 367.8 L1940.1 367.6 L1940.5 367.2 L1940.8 367.7 L1941.2 365.9 L1941.6 365.9 L1942 367.3 L1942.3 366.6 L1942.7 366.6 L1943.1 366.8 L1943.4 366.2 L1943.8 366.8 L1944.2 366.7 L1944.6 366.9 L1944.9 368.9 L1945.3 368.7 L1945.7 369.3 L1946 367.9 L1946.4 369.6 L1946.8 369 L1947.2 369.6 L1947.5 370.2 L1947.9 369.1 L1948.3 370 L1948.7 370.5 L1949 371.2 L1949.4 370.6 L1949.8 370.3 L1950.1 371 L1950.5 371 L1950.9 370.5 L1951.3 371 L1951.6 370.5 L1952 370 L1952.4 370.6 L1952.8 370.2 L1953.1 371 L1953.5 371.1 L1953.9 371.8 L1954.2 371.6 L1954.6 371.6 L1955 372.1 L1955.4 370.6 L1955.7 370.9 L1956.1 370.6 L1956.5 370.3 L1956.9 371.2 L1957.2 371.2 L1957.6 370.4 L1958 372 L1958.3 372.1 L1958.7 370.3 L1959.1 370.1 L1959.5 370.3 L1959.8 371.6 L1960.2 371.8 L1960.6 370.3 L1960.9 370.1 L1961.3 371.2 L1961.7 370.8 L1962.1 370.1 L1962.4 370.1 L1962.8 370.5 L1963.2 370.5 L1963.6 370.7 L1963.9 371.2 L1964.3 370.5 L1964.7 370.5 L1965 370.4 L1965.4 371.8 L1965.8 370.5 L1966.2 371.1 L1966.5 370.8 L1966.9 370.6 L1967.3 370.7 L1967.7 369.9 L1968 370.2 L1968.4 371.1 L1968.8 371.3 L1969.1 370.2 L1969.5 370 L1969.9 371.4 L1970.3 369.8 L1970.6 371.1 L1971 371.2 L1971.4 369.6 L1971.8 370.9 L1972.1 369.4 L1972.5 369 L1972.9 369.3 L1973.2 369.2 L1973.6 369.4 L1974 368.8 L1974.4 369.1 L1974.7 368.4 L1975.1 366.8 L1975.5 366.4 L1975.8 366.8 L1976.2 364.9 L1976.6 365.8 L1977 364.6 L1977.3 362.6 L1977.7 361.8 L1978.1 360.8 L1978.5 360.2 L1978.8 359 L1979.2 357.8 L1979.6 357.7 L1979.9 357.1 L1980.3 357.2 L1980.7 357.4 L1981.1 358.5 L1981.4 358.5 L1981.8 359 L1982.2 360.3 L1982.6 360.2 L1982.9 361.2 L1983.3 361.7" fill="none" stroke="#7c0202" stroke-width="4.6" stroke-linejoin="round"/>
<rect x="1331.4" y="69.8" width="651.9" height="465.1" fill="none" stroke="#000" stroke-width="2.6"/>
<line x1="1331.4" y1="534.9" x2="1331.4" y2="545.9" stroke="#000" stroke-width="2.6"/>
<text x="1331.4" y="578.9" text-anchor="middle" font-size="34">20</text>
<line x1="1424.5" y1="534.9" x2="1424.5" y2="545.9" stroke="#000" stroke-width="2.6"/>
<text x="1424.5" y="578.9" text-anchor="middle" font-size="34">30</text>
<line x1="1517.7" y1="534.9" x2="1517.7" y2="545.9" stroke="#000" stroke-width="2.6"/>
<text x="1517.7" y="578.9" text-anchor="middle" font-size="34">40</text>
<line x1="1610.8" y1="534.9" x2="1610.8" y2="545.9" stroke="#000" stroke-width="2.6"/>
<text x="1610.8" y="578.9" text-anchor="middle" font-size="34">50</text>
<line x1="1703.9" y1="534.9" x2="1703.9" y2="545.9" stroke="#000" stroke-width="2.6"/>
<text x="1703.9" y="578.9" text-anchor="middle" font-size="34">60</text>
<line x1="1797" y1="534.9" x2="1797" y2="545.9" stroke="#000" stroke-width="2.6"/>
<text x="1797" y="578.9" text-anchor="middle" font-size="34">70</text>
<line x1="1890.2" y1="534.9" x2="1890.2" y2="545.9" stroke="#000" stroke-width="2.6"/>
<text x="1890.2" y="578.9" text-anchor="middle" font-size="34">80</text>
<line x1="1983.3" y1="534.9" x2="1983.3" y2="545.9" stroke="#000" stroke-width="2.6"/>
<text x="1983.3" y="578.9" text-anchor="middle" font-size="34">90</text>
<line x1="1378" y1="534.9" x2="1378" y2="540.9" stroke="#000" stroke-width="2.4"/>
<line x1="1471.1" y1="534.9" x2="1471.1" y2="540.9" stroke="#000" stroke-width="2.4"/>
<line x1="1564.2" y1="534.9" x2="1564.2" y2="540.9" stroke="#000" stroke-width="2.4"/>
<line x1="1657.3" y1="534.9" x2="1657.3" y2="540.9" stroke="#000" stroke-width="2.4"/>
<line x1="1750.5" y1="534.9" x2="1750.5" y2="540.9" stroke="#000" stroke-width="2.4"/>
<line x1="1843.6" y1="534.9" x2="1843.6" y2="540.9" stroke="#000" stroke-width="2.4"/>
<line x1="1936.7" y1="534.9" x2="1936.7" y2="540.9" stroke="#000" stroke-width="2.4"/>
<text x="1657.5" y="628.9" text-anchor="middle" font-size="44">2θ (°)</text>
<text transform="translate(1296.5 303.3) rotate(-90)" text-anchor="middle" font-size="33.5">Intensity (arb. units)</text>
<text x="1975" y="337.5" text-anchor="end" font-size="28.5">PZT plate</text>
<text x="1973.5" y="504.5" text-anchor="end" font-size="28.2">PDF no. 70-4060</text>
</g>
<g font-family="'Liberation Sans', Arial, sans-serif">
<text x="1234.9" y="693.7" font-size="28" letter-spacing="0.5">c)</text>
<line x1="1383.4" y1="1113.7" x2="1383.4" y2="1210.5" stroke="#7ca8e0" stroke-width="2.4"/>
<line x1="1472.5" y1="1072.7" x2="1472.5" y2="1210.5" stroke="#7ca8e0" stroke-width="2.4"/>
<line x1="1497" y1="1143.5" x2="1497" y2="1210.5" stroke="#7ca8e0" stroke-width="2.4"/>
<line x1="1533.3" y1="1203" x2="1533.3" y2="1210.5" stroke="#7ca8e0" stroke-width="2.4"/>
<line x1="1548.9" y1="1077.8" x2="1548.9" y2="1210.5" stroke="#7ca8e0" stroke-width="2.4"/>
<line x1="1575.2" y1="1202" x2="1575.2" y2="1210.5" stroke="#7ca8e0" stroke-width="2.4"/>
<line x1="1634.5" y1="1142.7" x2="1634.5" y2="1210.5" stroke="#7ca8e0" stroke-width="2.4"/>
<line x1="1680.6" y1="1085" x2="1680.6" y2="1210.5" stroke="#7ca8e0" stroke-width="2.4"/>
<line x1="1701.5" y1="1200.4" x2="1701.5" y2="1210.5" stroke="#7ca8e0" stroke-width="2.4"/>
<line x1="1714.3" y1="1199" x2="1714.3" y2="1210.5" stroke="#7ca8e0" stroke-width="2.4"/>
<line x1="1716" y1="1193.2" x2="1716" y2="1210.5" stroke="#7ca8e0" stroke-width="2.4"/>
<line x1="1764.6" y1="1158.2" x2="1764.6" y2="1210.5" stroke="#7ca8e0" stroke-width="2.4"/>
<line x1="1780.3" y1="1135.5" x2="1780.3" y2="1210.5" stroke="#7ca8e0" stroke-width="2.4"/>
<line x1="1801" y1="1202" x2="1801" y2="1210.5" stroke="#7ca8e0" stroke-width="2.4"/>
<line x1="1837.1" y1="1202" x2="1837.1" y2="1210.5" stroke="#7ca8e0" stroke-width="2.4"/>
<line x1="1861" y1="1184.5" x2="1861" y2="1210.5" stroke="#7ca8e0" stroke-width="2.4"/>
<line x1="1864.4" y1="1192.4" x2="1864.4" y2="1210.5" stroke="#7ca8e0" stroke-width="2.4"/>
<line x1="1894.1" y1="1203" x2="1894.1" y2="1210.5" stroke="#7ca8e0" stroke-width="2.4"/>
<line x1="1896.7" y1="1196.2" x2="1896.7" y2="1210.5" stroke="#7ca8e0" stroke-width="2.4"/>
<line x1="1920.2" y1="1202.5" x2="1920.2" y2="1210.5" stroke="#7ca8e0" stroke-width="2.4"/>
<line x1="1930.8" y1="1197.5" x2="1930.8" y2="1210.5" stroke="#7ca8e0" stroke-width="2.4"/>
<line x1="1938" y1="1202.5" x2="1938" y2="1210.5" stroke="#7ca8e0" stroke-width="2.4"/>
<line x1="1949.5" y1="1199.5" x2="1949.5" y2="1210.5" stroke="#7ca8e0" stroke-width="2.4"/>
<line x1="1950.7" y1="1200.5" x2="1950.7" y2="1210.5" stroke="#7ca8e0" stroke-width="2.4"/>
<line x1="1974" y1="1196" x2="1974" y2="1210.5" stroke="#7ca8e0" stroke-width="2.4"/>
<circle cx="1383.4" cy="1113.7" r="5.3" fill="#7ca8e0"/>
<circle cx="1472.5" cy="1072.7" r="5.3" fill="#7ca8e0"/>
<circle cx="1497" cy="1143.5" r="5.3" fill="#7ca8e0"/>
<circle cx="1533.3" cy="1203" r="5.3" fill="#7ca8e0"/>
<circle cx="1548.9" cy="1077.8" r="5.3" fill="#7ca8e0"/>
<circle cx="1575.2" cy="1202" r="5.3" fill="#7ca8e0"/>
<circle cx="1634.5" cy="1142.7" r="5.3" fill="#7ca8e0"/>
<circle cx="1680.6" cy="1085" r="5.3" fill="#7ca8e0"/>
<circle cx="1701.5" cy="1200.4" r="5.3" fill="#7ca8e0"/>
<circle cx="1714.3" cy="1199" r="5.3" fill="#7ca8e0"/>
<circle cx="1716" cy="1193.2" r="5.3" fill="#7ca8e0"/>
<circle cx="1764.6" cy="1158.2" r="5.3" fill="#7ca8e0"/>
<circle cx="1780.3" cy="1135.5" r="5.3" fill="#7ca8e0"/>
<circle cx="1801" cy="1202" r="5.3" fill="#7ca8e0"/>
<circle cx="1837.1" cy="1202" r="5.3" fill="#7ca8e0"/>
<circle cx="1861" cy="1184.5" r="5.3" fill="#7ca8e0"/>
<circle cx="1864.4" cy="1192.4" r="5.3" fill="#7ca8e0"/>
<circle cx="1894.1" cy="1203" r="5.3" fill="#7ca8e0"/>
<circle cx="1896.7" cy="1196.2" r="5.3" fill="#7ca8e0"/>
<circle cx="1920.2" cy="1202.5" r="5.3" fill="#7ca8e0"/>
<circle cx="1930.8" cy="1197.5" r="5.3" fill="#7ca8e0"/>
<circle cx="1938" cy="1202.5" r="5.3" fill="#7ca8e0"/>
<circle cx="1949.5" cy="1199.5" r="5.3" fill="#7ca8e0"/>
<circle cx="1950.7" cy="1200.5" r="5.3" fill="#7ca8e0"/>
<circle cx="1974" cy="1196" r="5.3" fill="#7ca8e0"/>
<path d="M1331.4 1047.9 L1331.7 1047.9 L1332 1045.9 L1332.2 1046 L1332.5 1047.6 L1332.8 1047.4 L1333.1 1047.3 L1333.4 1046.5 L1333.6 1047.1 L1333.9 1047.1 L1334.2 1047.1 L1334.5 1046.1 L1334.8 1046.7 L1335 1046.6 L1335.3 1047.4 L1335.6 1048 L1335.9 1047.9 L1336.1 1047 L1336.4 1046.8 L1336.7 1046.4 L1337 1045.9 L1337.3 1045.8 L1337.5 1046.8 L1337.8 1046.5 L1338.1 1046.6 L1338.4 1047.7 L1338.7 1046.9 L1338.9 1047 L1339.2 1046.3 L1339.5 1045.8 L1339.8 1046.5 L1340.1 1046.1 L1340.3 1046.9 L1340.6 1048 L1340.9 1047.2 L1341.2 1046.2 L1341.5 1047.7 L1341.7 1047.5 L1342 1047.4 L1342.3 1047.7 L1342.6 1047.4 L1342.9 1047.5 L1343.1 1046.5 L1343.4 1047.9 L1343.7 1047.9 L1344 1046.1 L1344.3 1047.4 L1344.5 1047.3 L1344.8 1046.7 L1345.1 1046.9 L1345.4 1046.8 L1345.6 1047.8 L1345.9 1046.8 L1346.2 1047.5 L1346.5 1046.5 L1346.8 1047.7 L1347 1047.7 L1347.3 1046.7 L1347.6 1047 L1347.9 1047.7 L1348.2 1047.3 L1348.4 1046.8 L1348.7 1046.2 L1349 1046.4 L1349.3 1047.2 L1349.6 1046 L1349.8 1047.7 L1350.1 1046.3 L1350.4 1047.7 L1350.7 1046.3 L1351 1047.8 L1351.2 1047.2 L1351.5 1046.8 L1351.8 1046.8 L1352.1 1047.1 L1352.4 1046.9 L1352.6 1046.3 L1352.9 1046.1 L1353.2 1046.8 L1353.5 1047.7 L1353.8 1047 L1354 1045.8 L1354.3 1047.4 L1354.6 1047.2 L1354.9 1047.6 L1355.1 1046 L1355.4 1047.2 L1355.7 1045.7 L1356 1047 L1356.3 1046.2 L1356.5 1046.1 L1356.8 1047.5 L1357.1 1045.8 L1357.4 1046.7 L1357.7 1047.4 L1357.9 1046.1 L1358.2 1046 L1358.5 1047.4 L1358.8 1046.4 L1359.1 1047.1 L1359.3 1045.5 L1359.6 1046.3 L1359.9 1045.8 L1360.2 1046.9 L1360.5 1045.6 L1360.7 1047.5 L1361 1045.5 L1361.3 1047 L1361.6 1045.4 L1361.9 1045.9 L1362.1 1047.2 L1362.4 1045.7 L1362.7 1045.7 L1363 1046.8 L1363.2 1046.1 L1363.5 1045.4 L1363.8 1047.4 L1364.1 1045.6 L1364.4 1045.3 L1364.6 1046 L1364.9 1046.5 L1365.2 1046.8 L1365.5 1045.4 L1365.8 1045.9 L1366 1045.2 L1366.3 1046 L1366.6 1046.7 L1366.9 1046.6 L1367.2 1046.9 L1367.4 1046.6 L1367.7 1046.8 L1368 1046.4 L1368.3 1045.8 L1368.6 1045.2 L1368.8 1046.1 L1369.1 1045.3 L1369.4 1044.8 L1369.7 1045.5 L1370 1046.3 L1370.2 1044.6 L1370.5 1045.5 L1370.8 1045 L1371.1 1045.1 L1371.4 1044.1 L1371.6 1045.8 L1371.9 1044 L1372.2 1044.6 L1372.5 1043.9 L1372.7 1042.8 L1373 1043.7 L1373.3 1042.4 L1373.6 1041.8 L1373.9 1041.4 L1374.1 1041.2 L1374.4 1040.5 L1374.7 1041.2 L1375 1040.3 L1375.3 1040.7 L1375.5 1039.9 L1375.8 1039.2 L1376.1 1036.7 L1376.4 1036.4 L1376.7 1035 L1376.9 1034.8 L1377.2 1033.9 L1377.5 1033.3 L1377.8 1032.1 L1378.1 1030 L1378.3 1029.3 L1378.6 1028.5 L1378.9 1026.3 L1379.2 1025.3 L1379.5 1025.1 L1379.7 1023.5 L1380 1023.8 L1380.3 1021.7 L1380.6 1020.1 L1380.9 1018.7 L1381.1 1016.4 L1381.4 1012.5 L1381.7 1007.2 L1382 998.1 L1382.2 985.5 L1382.5 970.9 L1382.8 953.6 L1383.1 941.8 L1383.4 937 L1383.6 943.1 L1383.9 957.6 L1384.2 975.7 L1384.5 992.8 L1384.8 1005.4 L1385 1016.5 L1385.3 1023.9 L1385.6 1028 L1385.9 1031 L1386.2 1034.8 L1386.4 1035.6 L1386.7 1037.3 L1387 1039.2 L1387.3 1039.5 L1387.6 1039.6 L1387.8 1041.9 L1388.1 1041.1 L1388.4 1040.9 L1388.7 1042.9 L1389 1042 L1389.2 1042.8 L1389.5 1044.3 L1389.8 1044.2 L1390.1 1043 L1390.4 1044.2 L1390.6 1044.3 L1390.9 1044.7 L1391.2 1044.2 L1391.5 1045.2 L1391.7 1044.2 L1392 1044.7 L1392.3 1045 L1392.6 1046.4 L1392.9 1044.6 L1393.1 1046.1 L1393.4 1044.9 L1393.7 1045.8 L1394 1045.5 L1394.3 1045.7 L1394.5 1046.4 L1394.8 1045.7 L1395.1 1045.1 L1395.4 1045.1 L1395.7 1045.1 L1395.9 1046.8 L1396.2 1046.4 L1396.5 1047.1 L1396.8 1046.6 L1397.1 1045.1 L1397.3 1046.5 L1397.6 1046.8 L1397.9 1046.7 L1398.2 1046.2 L1398.5 1046 L1398.7 1046.2 L1399 1047 L1399.3 1045.8 L1399.6 1046.4 L1399.8 1046.3 L1400.1 1047.4 L1400.4 1047.1 L1400.7 1047.4 L1401 1047.2 L1401.2 1046 L1401.5 1045.9 L1401.8 1046.4 L1402.1 1045.9 L1402.4 1046.3 L1402.6 1046.9 L1402.9 1047.4 L1403.2 1046.7 L1403.5 1047.2 L1403.8 1045.6 L1404 1046.2 L1404.3 1047.6 L1404.6 1045.8 L1404.9 1046.4 L1405.2 1045.6 L1405.4 1045.7 L1405.7 1047.4 L1406 1047.7 L1406.3 1046.9 L1406.6 1045.8 L1406.8 1046.2 L1407.1 1046 L1407.4 1047 L1407.7 1047 L1408 1046.5 L1408.2 1046.7 L1408.5 1045.8 L1408.8 1046.7 L1409.1 1047.6 L1409.3 1047.2 L1409.6 1045.8 L1409.9 1046.7 L1410.2 1047.1 L1410.5 1046.1 L1410.7 1047.5 L1411 1046.6 L1411.3 1047.1 L1411.6 1046.5 L1411.9 1047.8 L1412.1 1047.3 L1412.4 1046.8 L1412.7 1045.9 L1413 1046.5 L1413.3 1045.6 L1413.5 1046.9 L1413.8 1047.5 L1414.1 1046 L1414.4 1046.7 L1414.7 1046.6 L1414.9 1046.5 L1415.2 1047.1 L1415.5 1047.6 L1415.8 1047.1 L1416.1 1046.6 L1416.3 1047.7 L1416.6 1046.3 L1416.9 1047.2 L1417.2 1047 L1417.5 1047.3 L1417.7 1047.5 L1418 1046.1 L1418.3 1047 L1418.6 1046.5 L1418.8 1047.1 L1419.1 1047.7 L1419.4 1047 L1419.7 1045.6 L1420 1046.6 L1420.2 1047.1 L1420.5 1047.5 L1420.8 1047 L1421.1 1047.4 L1421.4 1045.6 L1421.6 1047.6 L1421.9 1047.2 L1422.2 1046.9 L1422.5 1047.6 L1422.8 1047.5 L1423 1045.8 L1423.3 1047.3 L1423.6 1047.2 L1423.9 1046 L1424.2 1047.2 L1424.4 1046.8 L1424.7 1046 L1425 1047.3 L1425.3 1045.8 L1425.6 1046.9 L1425.8 1046.5 L1426.1 1046.1 L1426.4 1046.7 L1426.7 1046.5 L1426.9 1045.9 L1427.2 1047.6 L1427.5 1045.6 L1427.8 1045.4 L1428.1 1046.5 L1428.3 1047.3 L1428.6 1046.8 L1428.9 1047 L1429.2 1046.4 L1429.5 1046.8 L1429.7 1046.1 L1430 1045.9 L1430.3 1046.4 L1430.6 1045.3 L1430.9 1045.3 L1431.1 1046.8 L1431.4 1045.4 L1431.7 1046.6 L1432 1046.6 L1432.3 1045.6 L1432.5 1046 L1432.8 1046.1 L1433.1 1046 L1433.4 1044.1 L1433.7 1043.9 L1433.9 1044 L1434.2 1043.8 L1434.5 1043 L1434.8 1041.9 L1435.1 1042.6 L1435.3 1043 L1435.6 1041.3 L1435.9 1041.3 L1436.2 1040.6 L1436.4 1040.6 L1436.7 1041.5 L1437 1040.4 L1437.3 1041.4 L1437.6 1041.4 L1437.8 1041.9 L1438.1 1043.2 L1438.4 1041.8 L1438.7 1043.9 L1439 1043.2 L1439.2 1044.4 L1439.5 1045.1 L1439.8 1045.1 L1440.1 1044.8 L1440.4 1046 L1440.6 1044.6 L1440.9 1045.9 L1441.2 1045.5 L1441.5 1046 L1441.8 1046.8 L1442 1046.7 L1442.3 1046.4 L1442.6 1045.7 L1442.9 1045.6 L1443.2 1046.1 L1443.4 1045.7 L1443.7 1045.8 L1444 1047.3 L1444.3 1045.4 L1444.6 1047 L1444.8 1046 L1445.1 1046 L1445.4 1045.9 L1445.7 1045.4 L1445.9 1046.2 L1446.2 1045.6 L1446.5 1046.2 L1446.8 1045.9 L1447.1 1047.2 L1447.3 1047.3 L1447.6 1046.2 L1447.9 1046.6 L1448.2 1047.3 L1448.5 1045.9 L1448.7 1045.4 L1449 1045.7 L1449.3 1045.6 L1449.6 1046.7 L1449.9 1046 L1450.1 1045.9 L1450.4 1046.9 L1450.7 1045.6 L1451 1046.9 L1451.3 1046.5 L1451.5 1046 L1451.8 1046.9 L1452.1 1045.8 L1452.4 1047 L1452.7 1047.1 L1452.9 1046.1 L1453.2 1046.5 L1453.5 1047.1 L1453.8 1046.6 L1454.1 1046.6 L1454.3 1046.8 L1454.6 1046.9 L1454.9 1046.5 L1455.2 1047 L1455.4 1045.4 L1455.7 1046.1 L1456 1046.2 L1456.3 1045.5 L1456.6 1045.5 L1456.8 1045 L1457.1 1046.7 L1457.4 1045.3 L1457.7 1045.5 L1458 1046.4 L1458.2 1044.8 L1458.5 1046.4 L1458.8 1044.5 L1459.1 1044.2 L1459.4 1044.8 L1459.6 1044.8 L1459.9 1045.9 L1460.2 1045.7 L1460.5 1045.3 L1460.8 1044.5 L1461 1044.6 L1461.3 1043.7 L1461.6 1044.9 L1461.9 1043.7 L1462.2 1043.2 L1462.4 1043.7 L1462.7 1042.3 L1463 1042.3 L1463.3 1043.3 L1463.5 1041 L1463.8 1040.6 L1464.1 1040.2 L1464.4 1039.7 L1464.7 1039.3 L1464.9 1038.2 L1465.2 1037.5 L1465.5 1036.4 L1465.8 1035.4 L1466.1 1035.1 L1466.3 1033.3 L1466.6 1032.2 L1466.9 1031.7 L1467.2 1028.7 L1467.5 1027.4 L1467.7 1027.4 L1468 1024.8 L1468.3 1023.8 L1468.6 1020.6 L1468.9 1019.4 L1469.1 1017.9 L1469.4 1014.3 L1469.7 1012 L1470 1007.3 L1470.3 1000.2 L1470.5 991.1 L1470.8 973.5 L1471.1 949.5 L1471.4 916.7 L1471.7 875.2 L1471.9 832.6 L1472.2 796 L1472.5 782 L1472.8 797.8 L1473 836.8 L1473.3 882.4 L1473.6 924.6 L1473.9 958.4 L1474.2 983.8 L1474.4 1001.6 L1474.7 1011.9 L1475 1019.4 L1475.3 1026.2 L1475.6 1027.7 L1475.8 1032 L1476.1 1033.5 L1476.4 1035.7 L1476.7 1035.2 L1477 1036.9 L1477.2 1038.9 L1477.5 1038.1 L1477.8 1039 L1478.1 1040.2 L1478.4 1040.3 L1478.6 1040.7 L1478.9 1042.3 L1479.2 1041.4 L1479.5 1043.6 L1479.8 1043.2 L1480 1042.1 L1480.3 1044.1 L1480.6 1042.9 L1480.9 1043.6 L1481.2 1043.9 L1481.4 1043.1 L1481.7 1044 L1482 1043.1 L1482.3 1043.5 L1482.5 1045.2 L1482.8 1045 L1483.1 1044.4 L1483.4 1044.8 L1483.7 1045.2 L1483.9 1043.6 L1484.2 1044.4 L1484.5 1043.6 L1484.8 1043.6 L1485.1 1043.5 L1485.3 1043.7 L1485.6 1043.3 L1485.9 1043.5 L1486.2 1043.8 L1486.5 1044.2 L1486.7 1044.6 L1487 1044.5 L1487.3 1043.9 L1487.6 1043.2 L1487.9 1043.9 L1488.1 1041.9 L1488.4 1041.5 L1488.7 1042.7 L1489 1041.9 L1489.3 1040.6 L1489.5 1040.5 L1489.8 1039.9 L1490.1 1039.7 L1490.4 1039.1 L1490.6 1038.5 L1490.9 1038.8 L1491.2 1038.3 L1491.5 1037.2 L1491.8 1036.4 L1492 1035.4 L1492.3 1036 L1492.6 1036 L1492.9 1033.9 L1493.2 1034.5 L1493.4 1034 L1493.7 1033.5 L1494 1031.6 L1494.3 1031.9 L1494.6 1029.8 L1494.8 1027.8 L1495.1 1025.5 L1495.4 1021.1 L1495.7 1015 L1496 1007.8 L1496.2 999.4 L1496.5 991.1 L1496.8 985.1 L1497.1 986.2 L1497.4 991 L1497.6 999.1 L1497.9 1007.8 L1498.2 1015.3 L1498.5 1023.1 L1498.8 1028.7 L1499 1034.1 L1499.3 1036.9 L1499.6 1038.2 L1499.9 1041.3 L1500.1 1042.4 L1500.4 1042.9 L1500.7 1042.6 L1501 1042.6 L1501.3 1042.8 L1501.5 1044.5 L1501.8 1044.5 L1502.1 1043.8 L1502.4 1045.4 L1502.7 1044.8 L1502.9 1044.6 L1503.2 1044.7 L1503.5 1045.5 L1503.8 1045 L1504.1 1045.6 L1504.3 1044.5 L1504.6 1045.8 L1504.9 1044.9 L1505.2 1046.4 L1505.5 1044.9 L1505.7 1045.1 L1506 1045.6 L1506.3 1045.2 L1506.6 1045.5 L1506.9 1046.3 L1507.1 1044.5 L1507.4 1045.6 L1507.7 1045.1 L1508 1045 L1508.3 1043.9 L1508.5 1043.6 L1508.8 1043 L1509.1 1043.1 L1509.4 1042.6 L1509.6 1042.7 L1509.9 1043.6 L1510.2 1043.4 L1510.5 1044.4 L1510.8 1045 L1511 1044.7 L1511.3 1044.7 L1511.6 1045.9 L1511.9 1046.6 L1512.2 1045.3 L1512.4 1046.3 L1512.7 1046.4 L1513 1047 L1513.3 1046.6 L1513.6 1045.8 L1513.8 1045.6 L1514.1 1047 L1514.4 1045.8 L1514.7 1045.2 L1515 1047.1 L1515.2 1045.6 L1515.5 1045.9 L1515.8 1045.9 L1516.1 1045.8 L1516.4 1046.8 L1516.6 1046 L1516.9 1046.2 L1517.2 1046.2 L1517.5 1047.1 L1517.8 1045.3 L1518 1046.5 L1518.3 1045.5 L1518.6 1045.6 L1518.9 1046.6 L1519.1 1046.1 L1519.4 1045.4 L1519.7 1046.5 L1520 1047.3 L1520.3 1046.7 L1520.5 1046.3 L1520.8 1047 L1521.1 1047.3 L1521.4 1045.6 L1521.7 1045.9 L1521.9 1047.4 L1522.2 1047.3 L1522.5 1045.7 L1522.8 1046.8 L1523.1 1047.1 L1523.3 1046.5 L1523.6 1046.7 L1523.9 1046.3 L1524.2 1045.7 L1524.5 1045.6 L1524.7 1045.3 L1525 1046.6 L1525.3 1045.4 L1525.6 1046.5 L1525.9 1045.9 L1526.1 1046 L1526.4 1047.2 L1526.7 1045.9 L1527 1046 L1527.2 1045.8 L1527.5 1045.4 L1527.8 1045.4 L1528.1 1046 L1528.4 1046.6 L1528.6 1044.9 L1528.9 1046.7 L1529.2 1046 L1529.5 1044.6 L1529.8 1045.8 L1530 1045 L1530.3 1045 L1530.6 1043.8 L1530.9 1044.3 L1531.2 1043.9 L1531.4 1044 L1531.7 1043 L1532 1042.7 L1532.3 1042.2 L1532.6 1040.4 L1532.8 1039.5 L1533.1 1040 L1533.4 1039.1 L1533.7 1039.1 L1534 1039.7 L1534.2 1040.6 L1534.5 1041.2 L1534.8 1041.8 L1535.1 1043 L1535.4 1041.7 L1535.6 1043.1 L1535.9 1042.5 L1536.2 1044.1 L1536.5 1043.8 L1536.7 1043.3 L1537 1043.8 L1537.3 1044.6 L1537.6 1044.2 L1537.9 1045.2 L1538.1 1043.9 L1538.4 1043.7 L1538.7 1044.9 L1539 1044 L1539.3 1042.7 L1539.5 1043.9 L1539.8 1042.7 L1540.1 1043.6 L1540.4 1042.5 L1540.7 1042.4 L1540.9 1042.1 L1541.2 1040.6 L1541.5 1040.9 L1541.8 1038 L1542.1 1037.8 L1542.3 1037.9 L1542.6 1035 L1542.9 1035.2 L1543.2 1034.7 L1543.5 1032.6 L1543.7 1031.4 L1544 1028.1 L1544.3 1027.4 L1544.6 1025.7 L1544.9 1023.4 L1545.1 1021.4 L1545.4 1020 L1545.7 1016.2 L1546 1012.9 L1546.2 1010.2 L1546.5 1005.3 L1546.8 996.6 L1547.1 983.8 L1547.4 965.5 L1547.6 943.7 L1547.9 913.7 L1548.2 884 L1548.5 858.8 L1548.8 844.7 L1549 848 L1549.3 870.7 L1549.6 899.7 L1549.9 932.7 L1550.2 960 L1550.4 983.3 L1550.7 1000.3 L1551 1011.9 L1551.3 1020.9 L1551.6 1026.6 L1551.8 1029.8 L1552.1 1033.3 L1552.4 1034 L1552.7 1036.5 L1553 1037.8 L1553.2 1038.6 L1553.5 1040.6 L1553.8 1039.6 L1554.1 1040.9 L1554.3 1041.5 L1554.6 1041.8 L1554.9 1043.5 L1555.2 1043 L1555.5 1043.2 L1555.7 1043.3 L1556 1043.5 L1556.3 1044.8 L1556.6 1044.7 L1556.9 1044.5 L1557.1 1043.6 L1557.4 1044.6 L1557.7 1043.7 L1558 1044.3 L1558.3 1043.6 L1558.5 1045.2 L1558.8 1045.8 L1559.1 1045 L1559.4 1044.8 L1559.7 1044 L1559.9 1044.3 L1560.2 1044.2 L1560.5 1043.9 L1560.8 1043.4 L1561.1 1043 L1561.3 1043.9 L1561.6 1044.2 L1561.9 1043.7 L1562.2 1043.2 L1562.5 1041.9 L1562.7 1042.6 L1563 1044 L1563.3 1044.6 L1563.6 1044 L1563.8 1044.3 L1564.1 1044.9 L1564.4 1044.2 L1564.7 1045.5 L1565 1045 L1565.2 1046.2 L1565.5 1045.5 L1565.8 1046.1 L1566.1 1046 L1566.4 1046 L1566.6 1045.9 L1566.9 1047 L1567.2 1046.7 L1567.5 1046 L1567.8 1046.2 L1568 1047.1 L1568.3 1046.8 L1568.6 1046.6 L1568.9 1047.3 L1569.2 1045.4 L1569.4 1046.5 L1569.7 1046.6 L1570 1046.2 L1570.3 1047.3 L1570.6 1047.3 L1570.8 1046 L1571.1 1046.5 L1571.4 1046.8 L1571.7 1046.7 L1572 1045.9 L1572.2 1046.8 L1572.5 1045.7 L1572.8 1045.2 L1573.1 1046.2 L1573.3 1046 L1573.6 1045.3 L1573.9 1045.3 L1574.2 1046.2 L1574.5 1045.6 L1574.7 1044.6 L1575 1045.6 L1575.3 1044.8 L1575.6 1044.4 L1575.9 1045 L1576.1 1045.5 L1576.4 1045.9 L1576.7 1045.6 L1577 1045.8 L1577.3 1045.4 L1577.5 1044.8 L1577.8 1045.9 L1578.1 1045.3 L1578.4 1047.2 L1578.7 1046 L1578.9 1046.6 L1579.2 1046.9 L1579.5 1045.8 L1579.8 1047.2 L1580.1 1046.2 L1580.3 1045.6 L1580.6 1046.8 L1580.9 1046.4 L1581.2 1047.5 L1581.5 1046.5 L1581.7 1045.7 L1582 1045.6 L1582.3 1045.6 L1582.6 1046.6 L1582.8 1047.1 L1583.1 1045.7 L1583.4 1046.3 L1583.7 1046.6 L1584 1047.6 L1584.2 1047.7 L1584.5 1047.5 L1584.8 1047 L1585.1 1046.9 L1585.4 1046.1 L1585.6 1047 L1585.9 1046 L1586.2 1046.3 L1586.5 1047.5 L1586.8 1046.9 L1587 1047.2 L1587.3 1046.7 L1587.6 1046.3 L1587.9 1046.7 L1588.2 1046.9 L1588.4 1046.2 L1588.7 1047.5 L1589 1047.8 L1589.3 1046 L1589.6 1046.2 L1589.8 1047.4 L1590.1 1047.2 L1590.4 1046.2 L1590.7 1046.9 L1590.9 1046.2 L1591.2 1047.6 L1591.5 1047 L1591.8 1046.8 L1592.1 1046 L1592.3 1046.6 L1592.6 1046.7 L1592.9 1046.5 L1593.2 1046.1 L1593.5 1046.1 L1593.7 1047.2 L1594 1047.7 L1594.3 1047.5 L1594.6 1047 L1594.9 1047.4 L1595.1 1046 L1595.4 1046.1 L1595.7 1047.2 L1596 1045.7 L1596.3 1045.9 L1596.5 1047.4 L1596.8 1046.1 L1597.1 1046.1 L1597.4 1046.6 L1597.7 1047.5 L1597.9 1045.7 L1598.2 1047.6 L1598.5 1046.4 L1598.8 1046.9 L1599.1 1046.7 L1599.3 1046 L1599.6 1047.8 L1599.9 1046.1 L1600.2 1047.5 L1600.4 1047.6 L1600.7 1046.7 L1601 1047.8 L1601.3 1045.8 L1601.6 1046 L1601.8 1046.7 L1602.1 1045.8 L1602.4 1047.5 L1602.7 1046.8 L1603 1047.4 L1603.2 1046.3 L1603.5 1045.7 L1603.8 1047.6 L1604.1 1046.1 L1604.4 1046.6 L1604.6 1046 L1604.9 1047 L1605.2 1046.7 L1605.5 1046.1 L1605.8 1045.8 L1606 1046.4 L1606.3 1047.4 L1606.6 1046 L1606.9 1046.2 L1607.2 1047 L1607.4 1047.1 L1607.7 1047.4 L1608 1047.1 L1608.3 1047.5 L1608.6 1046 L1608.8 1047.7 L1609.1 1045.7 L1609.4 1045.9 L1609.7 1045.9 L1609.9 1047.4 L1610.2 1046.8 L1610.5 1047.7 L1610.8 1047.8 L1611.1 1047.7 L1611.3 1047 L1611.6 1046.4 L1611.9 1047.7 L1612.2 1047.2 L1612.5 1046.1 L1612.7 1046.8 L1613 1045.7 L1613.3 1045.6 L1613.6 1047 L1613.9 1047.2 L1614.1 1047.5 L1614.4 1047.3 L1614.7 1045.9 L1615 1047.2 L1615.3 1047.7 L1615.5 1047.1 L1615.8 1046.6 L1616.1 1046.2 L1616.4 1045.7 L1616.7 1046.9 L1616.9 1047.7 L1617.2 1045.8 L1617.5 1047.3 L1617.8 1047.5 L1618 1046.3 L1618.3 1047.4 L1618.6 1045.8 L1618.9 1046.1 L1619.2 1046.7 L1619.4 1047.4 L1619.7 1046.6 L1620 1045.6 L1620.3 1047.5 L1620.6 1046.7 L1620.8 1047.1 L1621.1 1045.9 L1621.4 1046.1 L1621.7 1045.6 L1622 1045.7 L1622.2 1046.3 L1622.5 1046.2 L1622.8 1046.7 L1623.1 1047.1 L1623.4 1046 L1623.6 1047.2 L1623.9 1046.6 L1624.2 1045.9 L1624.5 1045.5 L1624.8 1047.2 L1625 1046.5 L1625.3 1045.1 L1625.6 1046.4 L1625.9 1045.7 L1626.2 1045.7 L1626.4 1046.4 L1626.7 1045.2 L1627 1045.2 L1627.3 1045.7 L1627.5 1046.4 L1627.8 1044.5 L1628.1 1046 L1628.4 1045.6 L1628.7 1044.3 L1628.9 1045.1 L1629.2 1044.8 L1629.5 1044.8 L1629.8 1044.1 L1630.1 1043.3 L1630.3 1043.3 L1630.6 1042.2 L1630.9 1042.1 L1631.2 1041.1 L1631.5 1039.3 L1631.7 1037.8 L1632 1035.5 L1632.3 1031.8 L1632.6 1026.7 L1632.9 1019.4 L1633.1 1008.3 L1633.4 996.6 L1633.7 982.4 L1634 968.6 L1634.3 958 L1634.5 955.8 L1634.8 959.8 L1635.1 969.9 L1635.4 982 L1635.7 995.7 L1635.9 1007.9 L1636.2 1018.4 L1636.5 1026.4 L1636.8 1031 L1637 1035.7 L1637.3 1038.8 L1637.6 1040.8 L1637.9 1040.6 L1638.2 1041 L1638.4 1043.4 L1638.7 1043 L1639 1043.2 L1639.3 1043.2 L1639.6 1043.8 L1639.8 1044 L1640.1 1044.2 L1640.4 1044.3 L1640.7 1045.1 L1641 1045.9 L1641.2 1044.9 L1641.5 1045.3 L1641.8 1045.5 L1642.1 1046.4 L1642.4 1046.3 L1642.6 1046.8 L1642.9 1045.1 L1643.2 1046.6 L1643.5 1045.5 L1643.8 1046.2 L1644 1046.1 L1644.3 1046.2 L1644.6 1045.7 L1644.9 1045.2 L1645.2 1045.1 L1645.4 1047.1 L1645.7 1047.1 L1646 1046.1 L1646.3 1045.4 L1646.5 1047 L1646.8 1046.3 L1647.1 1046.2 L1647.4 1046.6 L1647.7 1045.6 L1647.9 1045.7 L1648.2 1047.1 L1648.5 1046.9 L1648.8 1047.4 L1649.1 1046.2 L1649.3 1047.4 L1649.6 1047.3 L1649.9 1046.4 L1650.2 1047.3 L1650.5 1045.7 L1650.7 1045.5 L1651 1047.1 L1651.3 1045.6 L1651.6 1046.5 L1651.9 1047 L1652.1 1046.8 L1652.4 1045.8 L1652.7 1047.1 L1653 1045.4 L1653.3 1046.6 L1653.5 1047.3 L1653.8 1046.5 L1654.1 1046 L1654.4 1047.5 L1654.6 1046.9 L1654.9 1047.1 L1655.2 1047.3 L1655.5 1047.4 L1655.8 1046.6 L1656 1047.1 L1656.3 1046.4 L1656.6 1045.8 L1656.9 1045.9 L1657.2 1045.8 L1657.4 1045.3 L1657.7 1046.6 L1658 1046.1 L1658.3 1047.2 L1658.6 1045.3 L1658.8 1046.9 L1659.1 1045.6 L1659.4 1045.9 L1659.7 1045.8 L1660 1047.3 L1660.2 1046.6 L1660.5 1046.2 L1660.8 1045.5 L1661.1 1045.2 L1661.4 1045.9 L1661.6 1047.2 L1661.9 1046 L1662.2 1046.5 L1662.5 1047 L1662.8 1045.1 L1663 1045.7 L1663.3 1045.9 L1663.6 1045.4 L1663.9 1045.7 L1664.1 1046.4 L1664.4 1045.1 L1664.7 1046.3 L1665 1045.4 L1665.3 1046.2 L1665.5 1045.1 L1665.8 1046.4 L1666.1 1045.5 L1666.4 1046.4 L1666.7 1046.6 L1666.9 1045.7 L1667.2 1044.4 L1667.5 1045.1 L1667.8 1046.4 L1668.1 1045.6 L1668.3 1045.8 L1668.6 1045.1 L1668.9 1046 L1669.2 1045.9 L1669.5 1045.1 L1669.7 1044.9 L1670 1043.7 L1670.3 1043.4 L1670.6 1043.7 L1670.9 1044.6 L1671.1 1044.7 L1671.4 1044.3 L1671.7 1044.3 L1672 1042.1 L1672.3 1041.7 L1672.5 1041.8 L1672.8 1040.9 L1673.1 1041.6 L1673.4 1041.8 L1673.6 1041.1 L1673.9 1038.6 L1674.2 1039 L1674.5 1038.1 L1674.8 1037 L1675 1035.3 L1675.3 1033.6 L1675.6 1033.7 L1675.9 1032.2 L1676.2 1030.1 L1676.4 1027.8 L1676.7 1024.6 L1677 1022.7 L1677.3 1019.7 L1677.6 1016.1 L1677.8 1011.2 L1678.1 1005.3 L1678.4 995.5 L1678.7 980.5 L1679 962.9 L1679.2 936 L1679.5 907.7 L1679.8 873 L1680.1 840 L1680.4 813.9 L1680.6 805.6 L1680.9 816.8 L1681.2 842.2 L1681.5 876.7 L1681.7 913.4 L1682 943.8 L1682.3 969.4 L1682.6 990.2 L1682.9 1003.9 L1683.1 1014.1 L1683.4 1021.2 L1683.7 1025.5 L1684 1030.5 L1684.3 1032.5 L1684.5 1034.6 L1684.8 1035.4 L1685.1 1037.7 L1685.4 1039.2 L1685.7 1040.2 L1685.9 1038.8 L1686.2 1040.1 L1686.5 1040.2 L1686.8 1041.5 L1687.1 1042.4 L1687.3 1042.6 L1687.6 1042.4 L1687.9 1044.1 L1688.2 1043.6 L1688.5 1044.6 L1688.7 1043.6 L1689 1044.3 L1689.3 1043.2 L1689.6 1044.3 L1689.9 1044.7 L1690.1 1044 L1690.4 1044.9 L1690.7 1044 L1691 1044.8 L1691.2 1045.2 L1691.5 1045 L1691.8 1044.4 L1692.1 1044.5 L1692.4 1045 L1692.6 1045.7 L1692.9 1045.2 L1693.2 1044.8 L1693.5 1045.1 L1693.8 1045.1 L1694 1044.8 L1694.3 1045.8 L1694.6 1045.6 L1694.9 1045.3 L1695.2 1044.6 L1695.4 1046.6 L1695.7 1044.7 L1696 1044.9 L1696.3 1045.3 L1696.6 1046.3 L1696.8 1046.6 L1697.1 1046.2 L1697.4 1044.9 L1697.7 1046.2 L1698 1044.3 L1698.2 1044.3 L1698.5 1044.1 L1698.8 1044.9 L1699.1 1044.6 L1699.4 1044.4 L1699.6 1044.7 L1699.9 1043.9 L1700.2 1043.5 L1700.5 1041.9 L1700.7 1043.3 L1701 1043.2 L1701.3 1043 L1701.6 1041.6 L1701.9 1043.3 L1702.1 1043.2 L1702.4 1043.6 L1702.7 1043.4 L1703 1044.9 L1703.3 1045.3 L1703.5 1045.6 L1703.8 1044.8 L1704.1 1046 L1704.4 1044.7 L1704.7 1046.1 L1704.9 1044.8 L1705.2 1044.8 L1705.5 1045.1 L1705.8 1046.4 L1706.1 1047.1 L1706.3 1046 L1706.6 1046.4 L1706.9 1046.3 L1707.2 1046.8 L1707.5 1047.1 L1707.7 1046.8 L1708 1045.7 L1708.3 1045.1 L1708.6 1046.9 L1708.9 1045.5 L1709.1 1046.6 L1709.4 1046.8 L1709.7 1045.2 L1710 1045.2 L1710.2 1045.6 L1710.5 1046.5 L1710.8 1046.4 L1711.1 1046.6 L1711.4 1044.9 L1711.6 1045.6 L1711.9 1045.9 L1712.2 1044.6 L1712.5 1044.8 L1712.8 1043.6 L1713 1044.4 L1713.3 1042.6 L1713.6 1041.4 L1713.9 1040 L1714.2 1036.9 L1714.4 1034.8 L1714.7 1030.1 L1715 1025.6 L1715.3 1021.6 L1715.6 1017.3 L1715.8 1014.7 L1716.1 1014.7 L1716.4 1016.6 L1716.7 1019.4 L1717 1024.5 L1717.2 1029.6 L1717.5 1031.9 L1717.8 1036.7 L1718.1 1039.1 L1718.3 1040.8 L1718.6 1041.6 L1718.9 1042.9 L1719.2 1044.6 L1719.5 1045.4 L1719.7 1046 L1720 1045.7 L1720.3 1046.2 L1720.6 1046.2 L1720.9 1044.9 L1721.1 1046.2 L1721.4 1046.7 L1721.7 1046.5 L1722 1045.5 L1722.3 1046.5 L1722.5 1045.9 L1722.8 1046 L1723.1 1046.7 L1723.4 1046.7 L1723.7 1045.5 L1723.9 1046.7 L1724.2 1045.4 L1724.5 1045.8 L1724.8 1047.1 L1725.1 1047.4 L1725.3 1045.9 L1725.6 1047.1 L1725.9 1045.8 L1726.2 1046.5 L1726.5 1046.2 L1726.7 1045.6 L1727 1046.4 L1727.3 1046.7 L1727.6 1047.4 L1727.8 1045.7 L1728.1 1046.1 L1728.4 1045.5 L1728.7 1046 L1729 1046.1 L1729.2 1047.3 L1729.5 1047.6 L1729.8 1046 L1730.1 1046.6 L1730.4 1046.7 L1730.6 1046.6 L1730.9 1047.7 L1731.2 1047.7 L1731.5 1045.7 L1731.8 1046.5 L1732 1046.8 L1732.3 1047 L1732.6 1046.8 L1732.9 1047.4 L1733.2 1045.8 L1733.4 1046.6 L1733.7 1047.4 L1734 1046 L1734.3 1046 L1734.6 1047 L1734.8 1045.9 L1735.1 1046.8 L1735.4 1045.9 L1735.7 1046 L1736 1046.4 L1736.2 1047.3 L1736.5 1047 L1736.8 1047 L1737.1 1047 L1737.3 1046.5 L1737.6 1047.8 L1737.9 1046.9 L1738.2 1047 L1738.5 1045.8 L1738.7 1046.2 L1739 1046.9 L1739.3 1047.7 L1739.6 1047.2 L1739.9 1045.7 L1740.1 1047.4 L1740.4 1046.1 L1740.7 1046.9 L1741 1046 L1741.3 1045.8 L1741.5 1047.3 L1741.8 1046.7 L1742.1 1046.9 L1742.4 1047.2 L1742.7 1046.9 L1742.9 1046.5 L1743.2 1046.3 L1743.5 1046.8 L1743.8 1046.1 L1744.1 1046.2 L1744.3 1047.4 L1744.6 1046.3 L1744.9 1047.2 L1745.2 1047.1 L1745.4 1046.6 L1745.7 1047.3 L1746 1046.3 L1746.3 1045.6 L1746.6 1047.4 L1746.8 1047.2 L1747.1 1047.2 L1747.4 1047.6 L1747.7 1046.4 L1748 1046.5 L1748.2 1046.9 L1748.5 1047.4 L1748.8 1046.1 L1749.1 1047.2 L1749.4 1047.6 L1749.6 1046 L1749.9 1045.5 L1750.2 1045.8 L1750.5 1046.9 L1750.8 1045.9 L1751 1047.5 L1751.3 1045.6 L1751.6 1047.4 L1751.9 1046.2 L1752.2 1047.4 L1752.4 1046.1 L1752.7 1045.6 L1753 1046.8 L1753.3 1046 L1753.6 1047.3 L1753.8 1047.1 L1754.1 1045.8 L1754.4 1046.3 L1754.7 1046.4 L1754.9 1046.8 L1755.2 1045.7 L1755.5 1046.3 L1755.8 1046.2 L1756.1 1046.3 L1756.3 1046.1 L1756.6 1045.8 L1756.9 1045.6 L1757.2 1045.6 L1757.5 1046.8 L1757.7 1045.7 L1758 1044.7 L1758.3 1045.2 L1758.6 1045.9 L1758.9 1045.6 L1759.1 1044.1 L1759.4 1044.6 L1759.7 1044.5 L1760 1045.1 L1760.3 1043.5 L1760.5 1044.5 L1760.8 1043.7 L1761.1 1041.3 L1761.4 1041.3 L1761.7 1040 L1761.9 1038.1 L1762.2 1035.7 L1762.5 1030 L1762.8 1025.9 L1763.1 1017.2 L1763.3 1010.9 L1763.6 1000.9 L1763.9 992.1 L1764.2 987.7 L1764.4 985.7 L1764.7 987.3 L1765 993.8 L1765.3 1001.2 L1765.6 1009.6 L1765.8 1018.5 L1766.1 1025.7 L1766.4 1030 L1766.7 1034.4 L1767 1037.1 L1767.2 1039.2 L1767.5 1041.9 L1767.8 1041 L1768.1 1041.7 L1768.4 1042.6 L1768.6 1044.3 L1768.9 1044.1 L1769.2 1044.8 L1769.5 1044.8 L1769.8 1045.4 L1770 1044.9 L1770.3 1043.7 L1770.6 1044 L1770.9 1044.7 L1771.2 1044.1 L1771.4 1044.6 L1771.7 1044.5 L1772 1046.1 L1772.3 1046.1 L1772.6 1045.4 L1772.8 1044.8 L1773.1 1044.7 L1773.4 1043.9 L1773.7 1044.7 L1773.9 1043.9 L1774.2 1044.6 L1774.5 1045.1 L1774.8 1044 L1775.1 1044.5 L1775.3 1044.5 L1775.6 1044.4 L1775.9 1043 L1776.2 1042.2 L1776.5 1043 L1776.7 1041.4 L1777 1039.9 L1777.3 1039.3 L1777.6 1037.6 L1777.9 1034.7 L1778.1 1029 L1778.4 1022.7 L1778.7 1014.8 L1779 1005.2 L1779.3 994 L1779.5 984 L1779.8 973.1 L1780.1 965.1 L1780.4 964.2 L1780.7 969.4 L1780.9 980.5 L1781.2 990.5 L1781.5 1002.9 L1781.8 1011.8 L1782 1020.2 L1782.3 1028.5 L1782.6 1031.6 L1782.9 1036 L1783.2 1038.5 L1783.4 1039.8 L1783.7 1041.9 L1784 1043 L1784.3 1042.2 L1784.6 1042.9 L1784.8 1043.7 L1785.1 1044 L1785.4 1044.6 L1785.7 1045.2 L1786 1044.4 L1786.2 1045.9 L1786.5 1045 L1786.8 1044.2 L1787.1 1045.2 L1787.4 1045.5 L1787.6 1044.9 L1787.9 1046.5 L1788.2 1046 L1788.5 1045.9 L1788.8 1045.4 L1789 1045.1 L1789.3 1045.5 L1789.6 1046.4 L1789.9 1046.5 L1790.2 1046.5 L1790.4 1045.1 L1790.7 1046.8 L1791 1046.7 L1791.3 1046.7 L1791.5 1046.3 L1791.8 1047.1 L1792.1 1047.4 L1792.4 1046.5 L1792.7 1046.2 L1792.9 1046.5 L1793.2 1047.1 L1793.5 1046.8 L1793.8 1047 L1794.1 1046 L1794.3 1046.7 L1794.6 1045.9 L1794.9 1046.6 L1795.2 1045.4 L1795.5 1046.6 L1795.7 1047 L1796 1047.4 L1796.3 1046.4 L1796.6 1047.3 L1796.9 1045.8 L1797.1 1045.3 L1797.4 1046.4 L1797.7 1045.9 L1798 1045.9 L1798.3 1046.3 L1798.5 1046.5 L1798.8 1046.6 L1799.1 1045.2 L1799.4 1045.6 L1799.7 1045.5 L1799.9 1045.4 L1800.2 1045.1 L1800.5 1044.7 L1800.8 1045.4 L1801 1043.7 L1801.3 1045.5 L1801.6 1044.3 L1801.9 1044.5 L1802.2 1045.8 L1802.4 1045.5 L1802.7 1045.5 L1803 1045.1 L1803.3 1045.2 L1803.6 1045.8 L1803.8 1045.5 L1804.1 1046.9 L1804.4 1045.9 L1804.7 1046.3 L1805 1046.4 L1805.2 1047.1 L1805.5 1047.4 L1805.8 1047 L1806.1 1046.1 L1806.4 1045.9 L1806.6 1046.8 L1806.9 1046.4 L1807.2 1047.2 L1807.5 1046.1 L1807.8 1047.2 L1808 1046.4 L1808.3 1046.3 L1808.6 1046.1 L1808.9 1047.3 L1809.1 1046.8 L1809.4 1046.9 L1809.7 1047.5 L1810 1045.8 L1810.3 1046.9 L1810.5 1046.4 L1810.8 1046.2 L1811.1 1047.5 L1811.4 1046.2 L1811.7 1046.6 L1811.9 1046.7 L1812.2 1046 L1812.5 1046.4 L1812.8 1045.7 L1813.1 1046.8 L1813.3 1047.1 L1813.6 1047.9 L1813.9 1047.8 L1814.2 1046.5 L1814.5 1047.9 L1814.7 1046 L1815 1046.1 L1815.3 1046.9 L1815.6 1047.2 L1815.9 1047 L1816.1 1045.8 L1816.4 1046.6 L1816.7 1046.8 L1817 1046.6 L1817.3 1047.4 L1817.5 1047.4 L1817.8 1045.9 L1818.1 1046.8 L1818.4 1047.3 L1818.6 1047.5 L1818.9 1047.2 L1819.2 1047.9 L1819.5 1047.4 L1819.8 1046.6 L1820 1047.6 L1820.3 1047.1 L1820.6 1047.1 L1820.9 1047.1 L1821.2 1047.4 L1821.4 1047.3 L1821.7 1046.8 L1822 1047.5 L1822.3 1046.7 L1822.6 1047.4 L1822.8 1047.8 L1823.1 1046.9 L1823.4 1046.1 L1823.7 1047.7 L1824 1046.2 L1824.2 1046.2 L1824.5 1045.8 L1824.8 1046.7 L1825.1 1046.6 L1825.4 1047.5 L1825.6 1046.1 L1825.9 1046.6 L1826.2 1047.4 L1826.5 1045.8 L1826.8 1046.6 L1827 1046.1 L1827.3 1047.4 L1827.6 1046.4 L1827.9 1046 L1828.1 1046 L1828.4 1046.2 L1828.7 1047.3 L1829 1046 L1829.3 1045.8 L1829.5 1046.2 L1829.8 1045.8 L1830.1 1047.3 L1830.4 1047.3 L1830.7 1046.8 L1830.9 1046.4 L1831.2 1045.7 L1831.5 1047.2 L1831.8 1046.2 L1832.1 1046.8 L1832.3 1047.8 L1832.6 1046.1 L1832.9 1047.1 L1833.2 1046.5 L1833.5 1046.6 L1833.7 1046.3 L1834 1046.9 L1834.3 1046.4 L1834.6 1045.1 L1834.9 1046.6 L1835.1 1045.1 L1835.4 1044.9 L1835.7 1044.8 L1836 1044.5 L1836.2 1044.4 L1836.5 1042.5 L1836.8 1042.7 L1837.1 1043.1 L1837.4 1042.9 L1837.6 1042.7 L1837.9 1044.4 L1838.2 1045.3 L1838.5 1045.1 L1838.8 1045.3 L1839 1044.9 L1839.3 1045.8 L1839.6 1046.7 L1839.9 1045.9 L1840.2 1046.2 L1840.4 1046.3 L1840.7 1046.1 L1841 1046.8 L1841.3 1046.1 L1841.6 1047.5 L1841.8 1047.3 L1842.1 1046.2 L1842.4 1045.7 L1842.7 1045.6 L1843 1047.3 L1843.2 1046.5 L1843.5 1045.8 L1843.8 1045.6 L1844.1 1047.3 L1844.4 1046 L1844.6 1047.6 L1844.9 1046.3 L1845.2 1046.9 L1845.5 1046.3 L1845.7 1047 L1846 1045.8 L1846.3 1046.1 L1846.6 1045.8 L1846.9 1045.6 L1847.1 1046.7 L1847.4 1047.6 L1847.7 1045.5 L1848 1047.4 L1848.3 1046.1 L1848.5 1045.8 L1848.8 1045.5 L1849.1 1046.1 L1849.4 1045.5 L1849.7 1046.4 L1849.9 1046.3 L1850.2 1045.7 L1850.5 1047.2 L1850.8 1046.5 L1851.1 1046.9 L1851.3 1045.7 L1851.6 1046.7 L1851.9 1046.6 L1852.2 1046.7 L1852.5 1045.4 L1852.7 1047 L1853 1045.9 L1853.3 1045 L1853.6 1046.8 L1853.9 1045.4 L1854.1 1046.6 L1854.4 1045 L1854.7 1044.5 L1855 1045.4 L1855.2 1045.3 L1855.5 1045.5 L1855.8 1045.2 L1856.1 1044.4 L1856.4 1045 L1856.6 1044.2 L1856.9 1043 L1857.2 1043.6 L1857.5 1042.5 L1857.8 1042.3 L1858 1040.4 L1858.3 1039.2 L1858.6 1037.1 L1858.9 1034.9 L1859.2 1029.1 L1859.4 1023.9 L1859.7 1016.2 L1860 1008 L1860.3 996.4 L1860.6 988 L1860.8 982.2 L1861.1 979.7 L1861.4 984.5 L1861.7 989.8 L1862 998.2 L1862.2 1004.7 L1862.5 1009.8 L1862.8 1012.3 L1863.1 1014.8 L1863.4 1014 L1863.6 1013.3 L1863.9 1011.9 L1864.2 1012 L1864.5 1015.4 L1864.7 1019.6 L1865 1023 L1865.3 1026.6 L1865.6 1031.1 L1865.9 1035.2 L1866.1 1037.8 L1866.4 1039.5 L1866.7 1041.4 L1867 1041 L1867.3 1042.1 L1867.5 1042.5 L1867.8 1043.9 L1868.1 1044.3 L1868.4 1043.6 L1868.7 1045.6 L1868.9 1045.2 L1869.2 1045.7 L1869.5 1046.4 L1869.8 1046.1 L1870.1 1046.1 L1870.3 1046 L1870.6 1045.8 L1870.9 1046.5 L1871.2 1046.6 L1871.5 1045.6 L1871.7 1046.7 L1872 1045.3 L1872.3 1046.2 L1872.6 1047.1 L1872.8 1045.6 L1873.1 1047.1 L1873.4 1046.3 L1873.7 1046.9 L1874 1045.6 L1874.2 1045.4 L1874.5 1045.9 L1874.8 1046.7 L1875.1 1047.3 L1875.4 1046.6 L1875.6 1046.6 L1875.9 1046.3 L1876.2 1046.5 L1876.5 1047 L1876.8 1047.4 L1877 1046.2 L1877.3 1047 L1877.6 1046.3 L1877.9 1046.1 L1878.2 1045.7 L1878.4 1046.4 L1878.7 1046.9 L1879 1046.7 L1879.3 1046.6 L1879.6 1047.3 L1879.8 1046.6 L1880.1 1047.1 L1880.4 1046.8 L1880.7 1047.7 L1881 1046.3 L1881.2 1046.6 L1881.5 1047.3 L1881.8 1046.3 L1882.1 1047.4 L1882.3 1046.3 L1882.6 1046 L1882.9 1046.8 L1883.2 1046.9 L1883.5 1046.3 L1883.7 1046.2 L1884 1047.8 L1884.3 1046.8 L1884.6 1047.2 L1884.9 1046.6 L1885.1 1046.9 L1885.4 1046.3 L1885.7 1046 L1886 1047.5 L1886.3 1047.1 L1886.5 1046.3 L1886.8 1046.5 L1887.1 1046.9 L1887.4 1045.8 L1887.7 1047 L1887.9 1047.8 L1888.2 1047.1 L1888.5 1046.6 L1888.8 1045.9 L1889.1 1046.8 L1889.3 1046.9 L1889.6 1047.1 L1889.9 1047.5 L1890.2 1046.1 L1890.5 1045.8 L1890.7 1047.6 L1891 1046.7 L1891.3 1047.4 L1891.6 1046.8 L1891.8 1047.4 L1892.1 1046.7 L1892.4 1046.9 L1892.7 1046.6 L1893 1047.2 L1893.2 1046.7 L1893.5 1047 L1893.8 1045.5 L1894.1 1044.7 L1894.4 1044.2 L1894.6 1044.1 L1894.9 1043.5 L1895.2 1042.7 L1895.5 1041 L1895.8 1040.8 L1896 1038.3 L1896.3 1036.4 L1896.6 1037 L1896.9 1037.4 L1897.2 1037.2 L1897.4 1039.4 L1897.7 1039.5 L1898 1042.4 L1898.3 1042.5 L1898.6 1044.6 L1898.8 1044.7 L1899.1 1045.5 L1899.4 1044.8 L1899.7 1046.6 L1899.9 1047.1 L1900.2 1045.4 L1900.5 1046.5 L1900.8 1045.6 L1901.1 1047.3 L1901.3 1047.3 L1901.6 1047.4 L1901.9 1047.2 L1902.2 1046.4 L1902.5 1046.9 L1902.7 1045.7 L1903 1045.8 L1903.3 1046.8 L1903.6 1047.3 L1903.9 1046.3 L1904.1 1045.7 L1904.4 1045.8 L1904.7 1046.4 L1905 1046.5 L1905.3 1047.7 L1905.5 1047.2 L1905.8 1047.6 L1906.1 1047.4 L1906.4 1047.3 L1906.7 1047.4 L1906.9 1046.2 L1907.2 1047.4 L1907.5 1047 L1907.8 1047.2 L1908.1 1046.8 L1908.3 1046.7 L1908.6 1047.6 L1908.9 1047.5 L1909.2 1046.2 L1909.4 1047.7 L1909.7 1047 L1910 1045.9 L1910.3 1047.5 L1910.6 1047.7 L1910.8 1046.7 L1911.1 1046.7 L1911.4 1046.4 L1911.7 1046.2 L1912 1047 L1912.2 1046.7 L1912.5 1047.2 L1912.8 1047.2 L1913.1 1046.2 L1913.4 1047.5 L1913.6 1046.8 L1913.9 1046.7 L1914.2 1046.2 L1914.5 1047.1 L1914.8 1047.3 L1915 1047.5 L1915.3 1047.6 L1915.6 1046.6 L1915.9 1047 L1916.2 1047.1 L1916.4 1046.6 L1916.7 1045.8 L1917 1047.4 L1917.3 1047.8 L1917.6 1046.8 L1917.8 1047.8 L1918.1 1045.9 L1918.4 1047.1 L1918.7 1046.7 L1918.9 1047.2 L1919.2 1046.6 L1919.5 1047.4 L1919.8 1046.2 L1920.1 1046.4 L1920.3 1046.7 L1920.6 1046.7 L1920.9 1046.7 L1921.2 1047.8 L1921.5 1046.9 L1921.7 1047 L1922 1046 L1922.3 1046.9 L1922.6 1047.4 L1922.9 1047.3 L1923.1 1047.8 L1923.4 1047 L1923.7 1046.5 L1924 1047.6 L1924.3 1047.9 L1924.5 1047.8 L1924.8 1045.9 L1925.1 1047.2 L1925.4 1046 L1925.7 1046.2 L1925.9 1047.3 L1926.2 1047.5 L1926.5 1046.9 L1926.8 1046.2 L1927.1 1046.6 L1927.3 1046.1 L1927.6 1046 L1927.9 1045.7 L1928.2 1047.2 L1928.4 1047 L1928.7 1045.1 L1929 1046.2 L1929.3 1045.5 L1929.6 1044.9 L1929.8 1043.1 L1930.1 1043 L1930.4 1042.8 L1930.7 1041.9 L1931 1042 L1931.2 1040 L1931.5 1040.9 L1931.8 1041.6 L1932.1 1042.4 L1932.4 1044.5 L1932.6 1045.2 L1932.9 1045.5 L1933.2 1045.6 L1933.5 1046.3 L1933.8 1046.7 L1934 1045.6 L1934.3 1046.6 L1934.6 1047.5 L1934.9 1045.8 L1935.2 1046.4 L1935.4 1046.3 L1935.7 1047.4 L1936 1046.6 L1936.3 1045.9 L1936.5 1046.4 L1936.8 1047 L1937.1 1046.8 L1937.4 1045.7 L1937.7 1047.4 L1937.9 1046.3 L1938.2 1045.7 L1938.5 1047 L1938.8 1047.1 L1939.1 1047 L1939.3 1045.9 L1939.6 1045.7 L1939.9 1047.3 L1940.2 1046.8 L1940.5 1045.7 L1940.7 1046.9 L1941 1045.8 L1941.3 1046.7 L1941.6 1047.2 L1941.9 1046.1 L1942.1 1046.5 L1942.4 1047.2 L1942.7 1046.2 L1943 1046.9 L1943.3 1045.7 L1943.5 1047.1 L1943.8 1046 L1944.1 1046.4 L1944.4 1047.6 L1944.7 1047.1 L1944.9 1045.7 L1945.2 1047 L1945.5 1046.1 L1945.8 1046.2 L1946 1045.5 L1946.3 1045.1 L1946.6 1046.6 L1946.9 1045 L1947.2 1044.2 L1947.4 1045 L1947.7 1043 L1948 1043 L1948.3 1041.7 L1948.6 1040.8 L1948.8 1042.3 L1949.1 1040.6 L1949.4 1040.5 L1949.7 1039.2 L1950 1039.7 L1950.2 1039.3 L1950.5 1041.5 L1950.8 1040.3 L1951.1 1043.1 L1951.4 1043.8 L1951.6 1042.8 L1951.9 1043.6 L1952.2 1043.8 L1952.5 1043.9 L1952.8 1045.3 L1953 1045.7 L1953.3 1046.7 L1953.6 1046 L1953.9 1045.5 L1954.2 1046.2 L1954.4 1045.6 L1954.7 1045.4 L1955 1046.3 L1955.3 1047.3 L1955.5 1045.7 L1955.8 1047.7 L1956.1 1047.4 L1956.4 1047.7 L1956.7 1046.9 L1956.9 1046.3 L1957.2 1047.3 L1957.5 1045.9 L1957.8 1046.8 L1958.1 1047.5 L1958.3 1046.8 L1958.6 1047.3 L1958.9 1046.1 L1959.2 1047.6 L1959.5 1046 L1959.7 1046.4 L1960 1047 L1960.3 1047.7 L1960.6 1046 L1960.9 1046.3 L1961.1 1047.4 L1961.4 1046.2 L1961.7 1046.6 L1962 1046.1 L1962.3 1047.9 L1962.5 1047.4 L1962.8 1046.5 L1963.1 1047.9 L1963.4 1047.6 L1963.6 1046.4 L1963.9 1045.8 L1964.2 1047.2 L1964.5 1047.1 L1964.8 1046.2 L1965 1045.7 L1965.3 1046.3 L1965.6 1047.7 L1965.9 1047.1 L1966.2 1047.1 L1966.4 1047.1 L1966.7 1046.2 L1967 1047.5 L1967.3 1046.6 L1967.6 1047.5 L1967.8 1046.8 L1968.1 1046.9 L1968.4 1047.3 L1968.7 1047.5 L1969 1046.9 L1969.2 1047.3 L1969.5 1046.1 L1969.8 1045.8 L1970.1 1045.5 L1970.4 1045.6 L1970.6 1046.6 L1970.9 1045.1 L1971.2 1044.6 L1971.5 1043.7 L1971.8 1044.2 L1972 1043.5 L1972.3 1040.7 L1972.6 1037.9 L1972.9 1036.6 L1973.1 1033.8 L1973.4 1029.9 L1973.7 1027.8 L1974 1026.7 L1974.3 1027.9 L1974.5 1030.4 L1974.8 1034 L1975.1 1035.7 L1975.4 1039.7 L1975.7 1041.1 L1975.9 1042.5 L1976.2 1044.5 L1976.5 1044 L1976.8 1045.2 L1977.1 1046.4 L1977.3 1046.5 L1977.6 1046.7 L1977.9 1046.1 L1978.2 1046.5 L1978.5 1046.9 L1978.7 1045.8 L1979 1047.4 L1979.3 1047.1 L1979.6 1046.5 L1979.9 1046.8 L1980.1 1047.6 L1980.4 1045.6 L1980.7 1046.2 L1981 1047.5 L1981.3 1045.7 L1981.5 1047.2 L1981.8 1046.3 L1982.1 1046.2 L1982.4 1045.8 L1982.6 1046.3 L1982.9 1046.5 L1983.2 1047.1" fill="none" stroke="#0f68ad" stroke-width="4.2" stroke-linejoin="round"/>
<rect x="1331.4" y="744.6" width="651.9" height="465.9" fill="none" stroke="#000" stroke-width="2.6"/>
<line x1="1331.4" y1="1210.5" x2="1331.4" y2="1221.5" stroke="#000" stroke-width="2.6"/>
<text x="1331.4" y="1254.5" text-anchor="middle" font-size="34">20</text>
<line x1="1424.5" y1="1210.5" x2="1424.5" y2="1221.5" stroke="#000" stroke-width="2.6"/>
<text x="1424.5" y="1254.5" text-anchor="middle" font-size="34">30</text>
<line x1="1517.7" y1="1210.5" x2="1517.7" y2="1221.5" stroke="#000" stroke-width="2.6"/>
<text x="1517.7" y="1254.5" text-anchor="middle" font-size="34">40</text>
<line x1="1610.8" y1="1210.5" x2="1610.8" y2="1221.5" stroke="#000" stroke-width="2.6"/>
<text x="1610.8" y="1254.5" text-anchor="middle" font-size="34">50</text>
<line x1="1703.9" y1="1210.5" x2="1703.9" y2="1221.5" stroke="#000" stroke-width="2.6"/>
<text x="1703.9" y="1254.5" text-anchor="middle" font-size="34">60</text>
<line x1="1797" y1="1210.5" x2="1797" y2="1221.5" stroke="#000" stroke-width="2.6"/>
<text x="1797" y="1254.5" text-anchor="middle" font-size="34">70</text>
<line x1="1890.2" y1="1210.5" x2="1890.2" y2="1221.5" stroke="#000" stroke-width="2.6"/>
<text x="1890.2" y="1254.5" text-anchor="middle" font-size="34">80</text>
<line x1="1983.3" y1="1210.5" x2="1983.3" y2="1221.5" stroke="#000" stroke-width="2.6"/>
<text x="1983.3" y="1254.5" text-anchor="middle" font-size="34">90</text>
<line x1="1378" y1="1210.5" x2="1378" y2="1216.5" stroke="#000" stroke-width="2.4"/>
<line x1="1471.1" y1="1210.5" x2="1471.1" y2="1216.5" stroke="#000" stroke-width="2.4"/>
<line x1="1564.2" y1="1210.5" x2="1564.2" y2="1216.5" stroke="#000" stroke-width="2.4"/>
<line x1="1657.3" y1="1210.5" x2="1657.3" y2="1216.5" stroke="#000" stroke-width="2.4"/>
<line x1="1750.5" y1="1210.5" x2="1750.5" y2="1216.5" stroke="#000" stroke-width="2.4"/>
<line x1="1843.6" y1="1210.5" x2="1843.6" y2="1216.5" stroke="#000" stroke-width="2.4"/>
<line x1="1936.7" y1="1210.5" x2="1936.7" y2="1216.5" stroke="#000" stroke-width="2.4"/>
<text x="1657.5" y="1304.5" text-anchor="middle" font-size="44">2θ (°)</text>
<text transform="translate(1296.5 978.5) rotate(-90)" text-anchor="middle" font-size="33.5">Intensity (arb. units)</text>
<text x="1975" y="968.5" text-anchor="end" font-size="28.5">Al<tspan font-size="15" font-weight="bold">2</tspan>O<tspan font-size="15" font-weight="bold">3</tspan> plate</text>
<text x="1975" y="1123" text-anchor="end" font-size="28.5">JCPD’s 71-1123</text>
</g>
<g font-family="'Liberation Sans', Arial, sans-serif">
<text x="-0.5" y="1356.7" font-size="28">d)</text>
<rect x="129.3" y="1405" width="518.3" height="417.2" fill="none" stroke="#000" stroke-width="2.5"/>
<line x1="121.3" y1="1405" x2="129.3" y2="1405" stroke="#000" stroke-width="2.5"/>
<text x="115.3" y="1414.8" text-anchor="end" font-size="28">0.2</text>
<line x1="121.3" y1="1509.3" x2="129.3" y2="1509.3" stroke="#000" stroke-width="2.5"/>
<text x="115.3" y="1519.1" text-anchor="end" font-size="28">0.1</text>
<line x1="121.3" y1="1613.6" x2="129.3" y2="1613.6" stroke="#000" stroke-width="2.5"/>
<text x="115.3" y="1623.4" text-anchor="end" font-size="28">0.0</text>
<line x1="121.3" y1="1717.9" x2="129.3" y2="1717.9" stroke="#000" stroke-width="2.5"/>
<text x="115.3" y="1727.7" text-anchor="end" font-size="28">-0.1</text>
<line x1="121.3" y1="1822.2" x2="129.3" y2="1822.2" stroke="#000" stroke-width="2.5"/>
<text x="115.3" y="1832" text-anchor="end" font-size="28">-0.2</text>
<line x1="124.8" y1="1457.2" x2="129.3" y2="1457.2" stroke="#000" stroke-width="2.5"/>
<line x1="124.8" y1="1561.5" x2="129.3" y2="1561.5" stroke="#000" stroke-width="2.5"/>
<line x1="124.8" y1="1665.8" x2="129.3" y2="1665.8" stroke="#000" stroke-width="2.5"/>
<line x1="124.8" y1="1770" x2="129.3" y2="1770" stroke="#000" stroke-width="2.5"/>
<line x1="226.5" y1="1822.2" x2="226.5" y2="1830.2" stroke="#000" stroke-width="2.5"/>
<text x="226.5" y="1858" text-anchor="middle" font-size="28">-0.5</text>
<line x1="388.4" y1="1822.2" x2="388.4" y2="1830.2" stroke="#000" stroke-width="2.5"/>
<text x="388.4" y="1858" text-anchor="middle" font-size="28">0.0</text>
<line x1="550.4" y1="1822.2" x2="550.4" y2="1830.2" stroke="#000" stroke-width="2.5"/>
<text x="550.4" y="1858" text-anchor="middle" font-size="28">0.5</text>
<line x1="145.5" y1="1822.2" x2="145.5" y2="1826.7" stroke="#000" stroke-width="2.5"/>
<line x1="307.5" y1="1822.2" x2="307.5" y2="1826.7" stroke="#000" stroke-width="2.5"/>
<line x1="469.4" y1="1822.2" x2="469.4" y2="1826.7" stroke="#000" stroke-width="2.5"/>
<line x1="631.4" y1="1822.2" x2="631.4" y2="1826.7" stroke="#000" stroke-width="2.5"/>
<text x="388.9" y="1908" text-anchor="middle" font-size="36"><tspan font-style="italic">U</tspan><tspan font-style="italic" font-size="23" dy="8">cell</tspan><tspan dy="-8"> (kV)</tspan></text>
<text transform="translate(40.1 1593.6) rotate(-90)" text-anchor="middle" font-size="35"><tspan font-style="italic">Q</tspan> (μC·cm<tspan font-size="24" dy="-14">-2</tspan><tspan dy="14">)</tspan></text>
<line x1="141.7" y1="1433.1" x2="205.9" y2="1433.1" stroke="#7aaadd" stroke-width="7"/>
<line x1="141.7" y1="1464.4" x2="205.9" y2="1464.4" stroke="#e8968f" stroke-width="7"/>
<text x="208.4" y="1441.8" font-size="26.5">DBD</text>
<text x="208.4" y="1473.7" font-size="26.5">FBD</text>
<path d="M156.7 1706.3 L170.5 1702.7 L158 1707.2 L147.1 1704.2 L162 1714.8 L145.4 1696 L146 1715.1 L163.6 1685.8 L171.6 1720.7 L162.7 1707.2 L149.8 1684.3 L159.9 1685.8 L151.6 1692.5 L148.1 1700.6 L158.8 1714.5 L161.2 1706.7 L161.2 1707.2 L160.7 1692.7 L174.3 1718.8 L171 1707.9 L159 1690.2 L159 1684.2 L170.9 1695.8 L173.4 1695 L176.6 1711 L155.1 1688.2 L176.8 1697 L179.1 1694.2 L159.1 1701.8 L175.9 1689.2 L161 1691 L181.6 1705 L163.4 1687.5 L163.8 1681 L180.2 1684.6 L175.7 1693.1 L168.4 1701.9 L167.9 1698.6 L168.5 1691.1 L171.4 1686 L188.8 1702.4 L175.2 1704.4 L174 1688.9 L188.7 1696.1 L173.4 1706.1 L176.7 1683.7 L189.5 1685.5 L180.1 1677.6 L176.6 1692.3 L180.7 1692.4 L184.2 1687.7 L197.4 1688.3 L190.1 1698.8 L182.6 1678.3 L198.6 1696.5 L185.6 1678.7 L196.6 1699.1 L185.9 1698.9 L201 1689.1 L192 1675.3 L184.7 1698.1 L189.5 1690.8 L190.6 1693.6 L198.3 1679.3 L190.3 1690.2 L188.8 1677 L199.5 1692.9 L201.3 1677.8 L208.2 1675.6 L190.6 1677 L200 1671.4 L195.3 1678.9 L204 1672.7 L200.5 1691.1 L213.5 1685 L208.5 1682.9 L198.3 1669.3 L196.6 1690 L210.8 1690.9 L198.2 1682.8 L208 1684.6 L205.5 1690.5 L201.6 1679.6 L215.1 1687.4 L215.8 1682.6 L217.6 1687 L209.9 1681.4 L221.1 1685.2 L212.6 1683 L221.8 1677.9 L218 1673.4 L218 1678 L209.2 1678.3 L227.2 1683.1 L222.9 1672.3 L223.7 1676 L218.9 1681.1 L213 1678.9 L212.7 1675.4 L221.8 1667.5 L226.6 1672.6 L225.7 1680.9 L219.8 1662.2 L221.3 1675.3 L220.2 1664.8 L233.9 1674.3 L226 1678.5 L224.6 1673.7 L222.9 1668.8 L234.7 1677.9 L236.7 1667.3 L231.9 1665.8 L224.4 1668.9 L237.9 1675.2 L236.2 1676.8 L228.8 1661.9 L232.7 1663.6 L228.9 1665.9 L237.1 1667 L232 1673.1 L244.8 1665.7 L228.7 1657.8 L244 1657.8 L241.5 1667 L234.7 1670.6 L229.9 1658.7 L238.5 1656.5 L246 1660 L233.9 1656.4 L243.4 1663.1 L243.9 1666.4 L247.7 1671.3 L246 1658 L242.7 1657.4 L234.7 1662.1 L248.1 1656.9 L240.5 1659.5 L248.8 1662.1 L247.8 1665.8 L244.3 1666.1 L254.2 1654.2 L255.2 1664.4 L241 1659.7 L250.5 1666.9 L246.5 1661 L256.2 1664.5 L257.8 1658.8 L252.9 1654.4 L254.7 1664 L253.7 1662.1 L246.3 1664.7 L260.9 1665.6 L253.2 1662.4 L249.6 1664 L259.9 1654.9 L246.1 1656.1 L255.2 1661 L254.5 1649.2 L260.8 1649.5 L261.1 1651 L252.9 1660.2 L249.8 1650.2 L257.1 1658.7 L263.5 1657.9 L265.9 1654.7 L266.4 1648.3 L253.3 1654.7 L255 1657.5 L261.8 1654.1 L266.1 1654.5 L256.5 1651.6 L266.9 1659 L255.3 1658 L270 1653 L262.9 1648 L262.6 1652.2 L264.3 1645 L271.5 1651.9 L261.1 1655.8 L264.5 1651.1 L267.3 1644.7 L264.8 1649.5 L273.1 1656.6 L260.3 1649.9 L257.9 1649.1 L271.4 1655.6 L265.2 1647 L260 1651.1 L274.5 1643.9 L272 1642.2 L260.9 1644.9 L270.8 1646 L264.6 1650 L259.9 1651.4 L260.5 1648.1 L263.3 1643.5 L269.1 1646.6 L266.3 1646.1 L269.6 1642.4 L263.3 1648.7 L272.3 1647.1 L276.8 1648.1 L277.2 1642.6 L275.1 1650.4 L278.6 1643.4 L266.9 1651.6 L265.1 1652.4 L279 1640.3 L265.9 1648.3 L266.6 1639.5 L278.6 1643.7 L278 1639.5 L270.1 1646.9 L262.3 1640.1 L276.4 1649.6 L282.6 1638.6 L273.1 1647.1 L273.2 1645.9 L266.8 1637.4 L265.2 1636.8 L274.8 1643.1 L275.4 1637.9 L267.4 1638.5 L281.6 1648.9 L283.6 1636.7 L265.3 1647.9 L274.1 1645.2 L271.4 1641.1 L275.6 1640.4 L277.6 1634.6 L280 1645.5 L269 1640.1 L281.2 1639.2 L269.7 1635.8 L276.7 1633.7 L285.1 1643.9 L281.2 1644.4 L279.8 1638.2 L279.3 1639.3 L287.8 1643 L272.4 1644.2 L283.1 1642.2 L284.8 1637.1 L286.7 1643.1 L282.6 1641.4 L284.3 1636.5 L283.6 1631.9 L275.5 1636.9 L268.5 1635.2 L282.4 1638.5 L273.7 1642.4 L283.4 1634.3 L283.4 1637.1 L280.9 1634.5 L291.3 1637.6 L284.9 1638.9 L291.3 1629.1 L283.4 1638.1 L275.7 1633.6 L271.3 1630.7 L278.7 1629.2 L276.1 1639.3 L282.9 1634 L292.4 1634.6 L293.2 1635.2 L289.3 1627.8 L284.7 1636.3 L272.5 1638.3 L275.2 1632.2 L275.6 1632.3 L285.7 1626.5 L293.4 1630.9 L284.2 1632.9 L280.7 1628.7 L287.4 1631.9 L279.2 1633.7 L279.6 1624.6 L278.6 1624.7 L276.8 1633.4 L282.2 1635 L290.6 1624.1 L296.2 1635.1 L275.5 1634.4 L283.8 1628.8 L296.4 1625.6 L286.3 1634 L291 1627.9 L297.1 1632 L288.6 1623.1 L289.2 1627.1 L279.6 1621.8 L287.3 1622.5 L285.5 1629 L285.9 1623.7 L289 1625.4 L293.7 1626.5 L299 1631.5 L293 1622.4 L278.7 1630.3 L294.5 1626.7 L284.7 1622.1 L292.5 1625.5 L290.4 1626.1 L294.4 1620.4 L282.6 1629.8 L298.6 1628.3 L277.8 1618 L283.5 1622.3 L292 1618.1 L290.2 1617.4 L279.4 1624.6 L290.7 1623.8 L286.5 1621.6 L282.7 1619.7 L295.8 1625.5 L279.6 1616.5 L297.6 1622.4 L296.7 1617.1 L288.4 1617.4 L297.9 1618.5 L294.3 1625.7 L286.3 1620.1 L296.7 1624.4 L289.1 1617.4 L281.1 1623.3 L280.7 1613.4 L292.7 1618 L295.8 1615.5 L298.1 1612.5 L284.4 1619.4 L281.3 1614.8 L297.2 1619.2 L286.5 1612.3 L288.4 1619.1 L288.7 1611.4 L297.2 1616.6 L302.5 1620.8 L302.4 1614.5 L299.8 1612.6 L288.1 1613.5 L303.2 1619.2 L286.6 1612.5 L289.6 1612.3 L290.4 1612.3 L285.6 1614.2 L300.4 1613.6 L301.4 1613.6 L285.5 1615.7 L302.7 1609.7 L282 1612.3 L294.8 1612.6 L305.1 1613.4 L301.3 1606.1 L295.2 1614.5 L284.2 1605.8 L300 1615.3 L284.5 1611.9 L286.1 1613 L298.2 1606.8 L288.2 1612.7 L295.4 1612.5 L292.6 1607.1 L306.2 1610.9 L295.2 1609 L300.7 1610.8 L305.3 1607 L303.4 1609.8 L304.1 1611.3 L303.8 1612 L306.8 1608.8 L296.8 1609.4 L303.4 1605.8 L294.6 1602.3 L302.2 1612 L293.8 1602.1 L289.9 1604.9 L292.1 1611.1 L286.8 1603.1 L288.2 1606.8 L303.8 1601.1 L287.2 1604.1 L299.5 1609.2 L286.9 1599.6 L290.5 1600.6 L291.8 1606.3 L300.3 1600.3 L290.9 1600.7 L290.8 1606.1 L294.1 1603.4 L305.9 1602.4 L293.2 1606.9 L308.4 1600.3 L300.1 1607.3 L298.7 1598.5 L289 1606.7 L306.3 1599.9 L300.2 1601.2 L294.6 1606.5 L303.4 1597.5 L289 1600 L297.2 1603.6 L305.1 1601.1 L292.8 1595.7 L296.6 1596.7 L309 1599.4 L304 1604.7 L295.9 1599.2 L293.5 1601.6 L290.4 1602 L309.2 1601.8 L292.6 1595.2 L306.6 1593 L301.7 1597 L312.2 1598.1 L310.2 1594.6 L308.9 1595.7 L311.8 1591.7 L310 1592.8 L304.1 1596.2 L296.1 1599.5 L299.6 1593.3 L294.8 1593 L303.3 1597.4 L301.2 1596.8 L296.1 1593.2 L303.8 1599.5 L311.8 1595.7 L294.7 1592.3 L309.7 1590.4 L306.8 1592.7 L295.4 1598.5 L312.2 1589.3 L308.6 1590 L303.8 1592.6 L302.4 1590 L304.6 1593.5 L302 1587.9 L312.1 1589.1 L316.8 1591.5 L312.4 1588.6 L314.8 1585.7 L300.8 1585.4 L312.1 1592 L302.1 1588.3 L315.9 1590.2 L300.8 1585.8 L302.4 1584.4 L307.8 1583.6 L318.5 1587.3 L310.4 1589.4 L315.8 1591.1 L308.4 1585.4 L309.2 1581.6 L309.2 1588.9 L321.1 1589.6 L314.9 1587.4 L302.5 1584 L309.2 1587.3 L304.8 1584 L313 1588.3 L319.4 1586.1 L306.8 1587.5 L321.4 1584.8 L311.1 1584.1 L307.4 1586.1 L323.8 1583.7 L318.9 1586.9 L309.4 1587.9 L317.8 1579.5 L308 1579.7 L317.4 1584.4 L313.2 1586.7 L314.1 1581.3 L310.2 1586.6 L310.7 1585.6 L318.4 1581.7 L319 1578.2 L325.4 1585.8 L324.1 1581.4 L312.3 1583.6 L315.6 1584.1 L315.1 1580.4 L325.5 1576 L321 1574.6 L312.6 1575.5 L329.1 1583.4 L323.9 1576.4 L324.4 1580.8 L319.9 1579 L327.3 1572.6 L317.6 1577.2 L317.1 1576.1 L324.4 1573.6 L324 1574.4 L325.1 1574.9 L326.6 1571.6 L327.5 1572.5 L332.4 1577.1 L325 1574.9 L327.8 1577.6 L330.2 1578.1 L326.3 1580.4 L332.2 1578.7 L325.9 1574.1 L328.7 1578.8 L328.4 1574.6 L327.4 1578.4 L326.1 1569.3 L332.6 1577.9 L333 1574.5 L333.7 1571.3 L331.7 1568.6 L325.2 1572.4 L331.2 1571.6 L325.1 1574.6 L332.3 1569.6 L329.6 1571 L329 1567.4 L339 1576.6 L336 1575.3 L333 1574.5 L330.6 1573.7 L335.8 1575.1 L329.9 1573.8 L330.7 1571 L342.3 1565.2 L333.3 1568.1 L334.8 1565.5 L342.8 1573.1 L336.7 1568.2 L339.7 1564.8 L333 1573.4 L337.1 1569.1 L345.5 1573.8 L340.1 1565.7 L338.4 1572.9 L346.4 1565.3 L346.1 1566.7 L342.1 1564.7 L347.6 1572.9 L339.9 1569 L340.3 1571.4 L339.2 1563.3 L347.7 1565.3 L350.3 1570.8 L348.6 1563.1 L348.9 1571.1 L346.5 1562.3 L344.5 1564.4 L350.5 1563.2 L345.2 1563.4 L351.1 1568.9 L348.4 1567.5 L354.5 1566.6 L347.9 1563.5 L355.9 1567.1 L349.5 1566.7 L348.1 1570 L352.3 1565.3 L353.8 1560.3 L355.1 1562.6 L352 1567.7 L350.9 1562.3 L358.3 1561.8 L354 1564.7 L353.7 1568.1 L362.3 1559.3 L357.6 1566.4 L357.4 1568 L359.2 1560.4 L360.3 1564.9 L359 1564.9 L363.8 1563.4 L361.7 1566.5 L364 1563.2 L367.2 1559.5 L366.2 1559.3 L365.2 1559.9 L364.2 1565.2 L368.2 1565.2 L363.6 1562 L364.1 1562.8 L367.5 1557.2 L369.1 1563.9 L369.6 1565.3 L366.5 1558 L365.7 1561.3 L370.5 1560.6 L369.6 1564 L368.5 1564.9 L374 1561.1 L376.9 1557.9 L371.5 1558.5 L371.3 1558.4 L377.7 1560.3 L375.1 1560.8 L374.2 1562.9 L375.9 1557.1 L376.6 1561.3 L384 1562.1 L377.4 1558.1 L381.3 1556 L388.1 1554 L384.3 1561 L390.1 1554.7 L385.9 1560.5 L382.9 1555.2 L392.1 1554 L388.3 1555.4 L389.7 1553 L386.9 1561.9 L395 1559.1 L391 1554.1 L395.1 1553.7 L395.4 1560.4 L395.5 1554.2 L402.6 1556.7 L394.6 1554.4 L401.6 1550.8 L399.8 1556.9 L406 1555.6 L407.4 1554.1 L403.8 1557.7 L404.9 1556.8 L404.4 1552.2 L405.3 1554 L406.3 1550.3 L408 1552.7 L410.1 1552.2 L418 1554.3 L417.9 1549.3 L414.5 1547.7 L418.7 1550.4 L415.9 1546.7 L416.3 1548.9 L419.5 1555.3 L423.9 1548.5 L421.7 1547.1 L428.6 1548.9 L428.1 1552.3 L430.8 1545 L426.3 1548.4 L425.2 1553.2 L428.8 1551.8 L431.9 1544.3 L432 1545.9 L429.7 1544.8 L436.4 1543.3 L434.8 1547.1 L438.4 1543.9 L441.2 1544.9 L442.6 1548.9 L438.1 1543.9 L440.6 1548.9 L443.1 1545.3 L448.8 1543.4 L444.3 1544.4 L444.7 1541 L444 1546.9 L450.6 1548.6 L455.9 1543 L454 1549.4 L450.5 1546.7 L456.3 1549.3 L459.5 1541.4 L458.3 1539.6 L457.4 1542.7 L454.8 1542.3 L458.7 1543.4 L459.4 1539.5 L461.8 1542.7 L460.6 1544.6 L462.5 1538 L464.8 1541.4 L464 1543 L470.9 1542.5 L472.1 1536.3 L470.1 1539.9 L467.9 1540.1 L469 1541 L475.8 1540.4 L474.2 1537.7 L472.2 1538.6 L482.6 1540.9 L477.1 1541.9 L477.5 1539.4 L483.3 1544.9 L481.8 1540.2 L489.3 1542.4 L487 1540.4 L485.9 1537.7 L485.6 1542.5 L493.4 1536.8 L494.9 1532.3 L487.6 1538 L490.7 1535.9 L499.3 1533 L491.7 1533.8 L498.3 1533.6 L491.8 1537.4 L497.4 1533.3 L499.7 1538.4 L501.5 1537.9 L502.8 1540.5 L508.6 1533.6 L502.6 1540.9 L503.3 1538.5 L508.9 1537.9 L513.1 1539.6 L504.8 1536.6 L509.8 1535.6 L509.5 1531.5 L515 1534.9 L510 1530.6 L512.1 1529.3 L515.5 1528.3 L511.1 1527.3 L512.6 1536.6 L513.7 1532.6 L522.8 1532.9 L516.3 1538.6 L526 1525.9 L519.4 1532.8 L527.1 1530.8 L527.2 1528.4 L528.1 1529.4 L524.4 1536.2 L531.7 1537.2 L529.2 1530.4 L532 1533.5 L534.5 1536.4 L526.5 1529.2 L534.4 1526.5 L529.1 1522.7 L535.2 1538.3 L541.1 1524.3 L538.3 1529.1 L538.5 1528.5 L543.4 1538.8 L532.7 1533.8 L534.5 1521.7 L537.6 1533.9 L547.9 1522.7 L540 1520.8 L543.7 1529 L542.3 1525.6 L548.9 1535.4 L542.8 1526.8 L548.2 1533.8 L554 1526.5 L551 1529.4 L553.3 1521.5 L545.6 1520.5 L556.8 1523.2 L551.6 1520.4 L550.1 1518.1 L554.3 1520.5 L556 1523 L551.3 1527.1 L554 1522.3 L550.4 1518.1 L563 1523.1 L552.4 1520.2 L558.9 1537.5 L555.7 1534.7 L560.5 1524.8 L565.9 1524.2 L556.1 1527.5 L565.4 1529 L560.8 1536 L570 1537.2 L564.7 1533.6 L569.6 1518.4 L560.2 1518.1 L562.3 1515.7 L566.6 1531.5 L566.7 1525.8 L563 1518.4 L577.7 1513.5 L572.2 1532.6 L576.8 1530.7 L571.8 1532.3 L579 1531.4 L582.2 1514.7 L582.5 1522.1 L579.6 1518.2 L583.5 1512.2 L579.2 1517.2 L577.2 1520.7 L582.1 1532.1 L578.4 1527.5 L579.1 1517.9 L588.5 1518.9 L576.6 1519.1 L587.6 1515.6 L588.5 1524.5 L588.4 1514.2 L580 1513.1 L584.7 1521 L580 1522.9 L587.2 1517.6 L590.2 1535.5 L585.6 1533.4 L588.3 1529.7 L585.6 1536.5 L591.7 1535.8 L589 1519.2 L597.8 1512.2 L591.4 1527.1 L603.3 1516.2 L591.5 1517.2 L605.6 1510.5 L600.4 1517.6 L601.3 1512.2 L601.6 1533.5 L606.2 1525.2 L601.1 1523.2 L595.3 1531.9 L605.5 1519.4 L605.8 1518.2 L601.8 1511.9 L606 1523.1 L605.2 1505 L607.6 1518.8 L607.6 1523.7 L613.5 1508.7 L606.7 1537.3 L611.4 1514.1 L611.9 1537.3 L607.2 1533.2 L603.4 1537.5 L609.4 1511.2 L615.4 1525.7 L617.6 1532.1 L615.8 1520.9 L619.7 1505.1 L618.1 1528.1 L607 1531.6 L611.1 1522 L619.9 1509.9 L607.5 1526 L602.4 1522.9 L620.2 1520.7 L605.7 1531.9 L623.7 1531 L614.6 1536 L622.9 1508.9 L608.6 1507.2 L597.7 1516.2 L625.1 1534 L600.7 1510.6 L609.4 1534.9 L616.4 1536.9 L599.8 1540.2 L603.9 1527.5 L623.3 1531.2 L603.5 1529.3 L610 1506.2 L607.3 1517.1 L615.1 1516 L614.1 1531 L602.4 1511.2 L615.9 1523.4 L600.6 1511.3 L621.7 1528.9 L606 1514.7 L622.3 1532.3 L615.2 1521 L603.8 1522.9 L599.3 1530.9 L606.1 1537.6 L605.3 1525.4 L607.4 1542.3 L602.9 1534.4 L599.7 1530.4 L600.6 1540.6 L600.2 1540.2 L609.6 1527.1 L615.6 1525.1 L610.4 1532.5 L602.7 1515 L601.5 1522.5 L601.6 1544.9 L597.6 1536.6 L606.6 1522.2 L599.7 1518.9 L611.3 1523.1 L599.1 1526.3 L608.7 1542.9 L602.6 1533.4 L589.9 1544.8 L589.2 1528.1 L596.1 1539.8 L603.2 1528.1 L608.7 1547.3 L586 1537.7 L597.1 1529.4 L596.7 1528.3 L601.8 1537.5 L609.4 1549.2 L609.8 1531.5 L605.2 1539.6 L601.6 1550.4 L584.6 1534.3 L593.2 1540.4 L588.1 1550.8 L587.7 1532.1 L585.7 1533.1 L601.3 1523.9 L585.8 1541.3 L597.6 1544.3 L587.7 1546.6 L600 1545.7 L583.7 1536.7 L580.7 1548.6 L604.9 1549.9 L580.5 1533.9 L593.7 1539.5 L582.3 1547.3 L587.1 1539.2 L582.2 1541.2 L582.1 1527.4 L591.9 1533.6 L598.7 1532.5 L588.9 1527.1 L583.5 1538.9 L592.2 1539.4 L599.7 1529.3 L599.4 1531 L602.3 1541.9 L587.3 1544.7 L599.1 1555 L587 1527.9 L580 1551.2 L595 1548.4 L579.6 1543.5 L576 1531.7 L582.9 1556.2 L591.7 1553.1 L575.8 1541.1 L576.4 1537 L577 1555.7 L582.5 1543.9 L590.9 1555.2 L598.4 1546.5 L586.4 1556.1 L583.3 1539.5 L592.2 1538.7 L582.2 1543.6 L584.8 1541.9 L583.4 1544.7 L573.1 1555.5 L573.2 1547.3 L585.8 1544.1 L577 1536.1 L580.7 1542.3 L583.4 1540.2 L590.2 1547.5 L570.3 1545.6 L595.6 1535 L585.4 1561 L579.1 1551.5 L579 1543.8 L585.2 1551.8 L577.1 1549.6 L582.2 1556.7 L569.5 1539.4 L574.6 1544.4 L589 1548.8 L590.5 1548.5 L574.8 1556.1 L569.2 1564.3 L589.1 1547.4 L575 1560.5 L587.5 1556.2 L567.5 1559.6 L567 1556.3 L580.4 1564.4 L582.5 1541.3 L590.3 1560.5 L580.5 1541.5 L584.5 1552.5 L582.7 1567.3 L588.9 1544.3 L585 1553.9 L583.9 1552.6 L575.5 1554.5 L566.4 1551.8 L582.8 1545.8 L565.9 1565.4 L580.5 1558.5 L565.3 1548 L570.4 1569.3 L576.9 1568.7 L567.3 1556.4 L575.8 1567.2 L564.5 1568.4 L573.6 1547.8 L572.3 1556.7 L578.6 1570.6 L573.5 1565 L570.5 1567.4 L562.7 1566.8 L564.1 1563.3 L564.8 1557.7 L563.6 1558.1 L574.7 1562.5 L569.1 1564.2 L580.9 1559.2 L573.8 1562.5 L584 1559.1 L576.3 1557.1 L564.7 1569.3 L572.6 1558.2 L559.1 1572.1 L567 1569.8 L568.2 1567.7 L571.3 1576.4 L580.1 1564.4 L568.9 1559.3 L575.5 1556.6 L563.9 1574.4 L556.7 1571.1 L570.1 1567.9 L563.9 1558.8 L579.4 1573.4 L575.4 1558.1 L574.6 1561.2 L559.6 1568.8 L569.8 1559.4 L573.4 1570.3 L576.6 1578.4 L571.1 1565.8 L577.4 1574.2 L560.7 1577.6 L571.3 1564.3 L559.2 1558.9 L566.1 1564.5 L559.9 1564.7 L555.6 1570.2 L558.9 1565.9 L558.8 1571.2 L573.3 1563.6 L572.7 1579.4 L566.4 1572.6 L569.2 1572.7 L567.1 1581.5 L569.7 1567 L551.9 1582.2 L559.2 1579.1 L555.8 1572 L559 1578.3 L572.6 1573.6 L563.3 1570.3 L554.9 1583.7 L551.8 1583.7 L564.8 1565 L570.4 1565.9 L562.1 1566.5 L572 1570.8 L569 1565.7 L563.8 1566.1 L548.3 1577.2 L570.9 1579.8 L567.6 1582.2 L559.4 1567.3 L559.3 1569.8 L559 1573.7 L558.1 1570.6 L562.8 1575.5 L557.3 1568.5 L557.1 1578.9 L568.4 1579.2 L548.3 1574 L552.8 1582.6 L566.8 1588.6 L566.8 1587.7 L564.4 1588.2 L544.3 1579.1 L557.6 1583.4 L557.8 1582.2 L565.1 1571.5 L555.1 1589.8 L543.4 1572.6 L562.8 1590.2 L542.7 1571.5 L561.3 1585.2 L553.8 1583.2 L559 1588.1 L541.1 1573.3 L559.3 1591.9 L559.9 1580.7 L548.1 1579.8 L540.4 1588.5 L545.9 1585.1 L551.7 1580.3 L554.8 1583 L544.4 1591.7 L542.8 1577.5 L544.3 1584.2 L556.2 1581.6 L543.4 1588.2 L543.6 1585.9 L543.2 1593 L541.3 1580.7 L543.7 1582.9 L553.1 1589.8 L554.2 1587.5 L537.7 1592.1 L541.2 1581.9 L544.8 1596.9 L543.5 1585.1 L555.4 1597.4 L543.3 1581.4 L552.1 1593.9 L541.6 1594.3 L542.2 1585.1 L546.7 1593.9 L543.8 1595.6 L533.1 1589.9 L541 1582.1 L552.8 1583.8 L536.5 1597.7 L553.2 1598.9 L539 1599.2 L534.2 1595.4 L551.9 1586.1 L533.5 1595.3 L549.9 1596.4 L551.1 1591.7 L537.9 1585.9 L535.4 1601 L530.6 1587.7 L536.5 1585.5 L535.3 1588.2 L530.9 1594.6 L539.9 1595.6 L544.5 1595.1 L548.4 1587.5 L531.9 1587.7 L533.6 1600 L547 1595.8 L529.7 1593 L538.5 1592.6 L543.1 1604.8 L535.5 1598.5 L543.7 1596.4 L528.9 1605 L546 1589.3 L541 1596.1 L525 1592.3 L527.4 1602.4 L528 1590.4 L527.8 1604 L533.7 1601.7 L532.6 1594 L522.5 1596.3 L522.8 1595.9 L535.1 1598 L531.6 1602.5 L527.9 1598.3 L540 1602.3 L529.5 1601.9 L530.1 1598.7 L539.7 1597.3 L539.9 1607.9 L538.4 1596.7 L530 1610.6 L524.9 1597.4 L534.1 1598.7 L530.7 1597.7 L538.3 1600.1 L519.6 1606.9 L524.7 1605.1 L527.7 1611.3 L527.8 1602.7 L516.4 1604.9 L521.9 1606.4 L529.4 1604.9 L517.4 1605.7 L525.6 1608.2 L535.9 1602.7 L524.2 1599.9 L531.6 1602.5 L532 1611.7 L519.3 1613.6 L524.4 1606.4 L525.2 1614.8 L523.5 1607.8 L518.9 1613.6 L523.2 1606.1 L516.3 1604.4 L529.8 1613.8 L532.7 1615.8 L526.1 1614.2 L526.4 1614.6 L528 1605.1 L528.1 1607.3 L515.5 1617 L510.4 1611 L517.1 1615.5 L522.6 1617.6 L529.4 1613.7 L510.2 1614.3 L510.9 1619.4 L527.4 1609.4 L512.1 1615.5 L524.4 1620.1 L521.2 1607.4 L523.3 1606.6 L526.2 1617.5 L524.2 1619.3 L519.1 1620.6 L520.5 1614.1 L514.6 1612.3 L506.2 1609.6 L523.3 1610.9 L519.9 1619.2 L520.6 1615.6 L511.9 1612.3 L508.8 1618.1 L519.8 1622.6 L511.6 1622.6 L524.5 1613.5 L525.1 1618.6 L525.2 1621.1 L510.8 1614.1 L514.9 1617.3 L503.8 1623 L514.8 1617.6 L519.2 1614.6 L506.8 1619.6 L507.6 1616.2 L503.6 1612.4 L509.7 1619.5 L522.6 1621.4 L510.6 1618.2 L506.5 1619.4 L522.1 1614.6 L510.4 1622.9 L517.3 1621.3 L514.4 1627 L519.8 1617.4 L511.8 1628.3 L511.3 1617 L516.1 1615.3 L502.8 1622.6 L505.2 1625.2 L514.5 1619.7 L515.1 1624.6 L513.5 1622.1 L507.6 1617.4 L508.2 1629.6 L516.4 1617.2 L499.6 1620.4 L511.9 1623 L500.3 1623 L508.9 1627.7 L505.2 1626.6 L510.4 1626.3 L497.7 1627.8 L499.1 1619 L505.5 1618.7 L497.5 1624.1 L504.8 1620.4 L513.9 1630.8 L504.6 1627.4 L501 1633 L497 1624 L498.7 1631.8 L503.9 1625.9 L501.5 1632.5 L498.5 1631.4 L506.7 1627 L500 1627.1 L501.3 1625.7 L504.2 1627.2 L497.9 1632.2 L500.5 1628.4 L508 1628.4 L498.4 1634.4 L509.1 1633.2 L498.3 1631.8 L504.1 1627.1 L503.5 1635.9 L501.9 1632.4 L497.6 1632.4 L493.6 1634.1 L498.8 1637.1 L495 1633.8 L489 1630.1 L501.8 1628.3 L498.8 1628 L494.7 1638.2 L490.9 1637.3 L488.2 1633.3 L500.9 1636.8 L493.2 1633.8 L498.3 1636.2 L498.5 1634 L489.9 1635.8 L494.6 1634 L501.3 1629 L497.5 1631.6 L496.2 1639.7 L488.5 1635 L492.2 1634.3 L486 1636.2 L497.2 1636.8 L487.2 1638.8 L488.9 1630.8 L491.4 1634.9 L489.8 1641.6 L489.9 1641.3 L486.2 1639.1 L481.6 1633.7 L490.5 1638.7 L492 1635 L483.3 1635 L486.8 1631.1 L483.9 1639 L480.2 1635 L490.2 1642.7 L480.8 1633.8 L478.5 1632.8 L487.6 1640.9 L479.6 1638.1 L485.2 1632.7 L486.4 1642.8 L477.5 1641.1 L483.7 1637 L485.6 1635.7 L479.6 1637.1 L478.7 1643.1 L479.9 1640.9 L484.9 1636.5 L474.3 1641.3 L472.9 1645.5 L474.9 1639.6 L475.5 1644.2 L481.2 1642.7 L471.1 1639.1 L477.4 1637.7 L479.1 1645.4 L470.3 1639.7 L469.8 1643.9 L467 1643.8 L466.6 1645.7 L472 1642.9 L465.9 1637 L468.6 1647.7 L471 1646.5 L463.9 1638.2 L462.8 1645 L464.1 1640.4 L469.5 1645.3 L464.7 1642.9 L463.7 1644.1 L463.9 1642.1 L462.1 1641.5 L461.6 1638.6 L461.6 1645.1 L460.5 1640 L466.6 1644.1 L462.1 1642.6 L465.8 1647.6 L462.1 1646.7 L462.2 1645.2 L458.3 1644.1 L458.7 1645.2 L458.4 1646 L460.7 1650.1 L453.5 1640.9 L453.7 1641.2 L458.7 1647.7 L452.2 1643.3 L458.1 1650.3 L455.3 1649 L455.3 1646.6 L450.6 1647.9 L455.4 1652.7 L455 1651.2 L444.8 1645.2 L454.1 1648.5 L448.3 1646.3 L451.4 1648.6 L452 1644.2 L451.2 1643.8 L441.1 1647.9 L445.7 1645.2 L444.1 1654 L441.9 1652.4 L442.8 1650.7 L437.4 1649.7 L444.5 1652.1 L436.2 1649.9 L438.9 1649 L438.4 1652.3 L431.6 1648.2 L437.6 1648.4 L430.4 1654.2 L432.4 1656.4 L433.9 1647.9 L433.8 1649.8 L434.8 1654.7 L433.3 1648.1 L424.8 1655.8 L425.1 1650 L423 1649.8 L426.8 1658.1 L424.3 1651.2 L428.6 1650.7 L425.7 1655.3 L427.9 1649.7 L423.2 1653.3 L424.9 1652.2 L422.9 1651.8 L419.7 1659.9 L416.2 1653.1 L422.2 1657.3 L412.6 1652.6 L413.5 1653.9 L418.7 1658.2 L419.1 1658.1 L414.6 1655.4 L414.6 1656.7 L407.1 1656.9 L409.5 1657.5 L405.2 1652.7 L413.6 1656.3 L406.2 1654.3 L407.9 1662.1 L403 1658.2 L405.2 1661 L404.9 1655.9 L400.4 1661 L398.5 1662.6 L397.2 1656 L400.5 1662.7 L401 1661.9 L401.5 1661.9 L393.9 1663.1 L394 1656.6 L392.1 1655.4 L399.1 1659.1 L390.9 1655.9 L397.1 1661.6 L396.9 1656.1 L388.7 1658.8 L388.6 1657.2 L387.8 1662.6 L386.7 1658 L389.2 1660.2 L384.9 1662.3 L387.3 1660.6 L386.2 1657.3 L386.6 1658.9 L383.3 1657.2 L387.4 1663.1 L382.2 1662.8 L386.2 1658.8 L380.5 1664.7 L379.6 1664.8 L383.4 1658.3 L377.2 1660.9 L380.4 1666 L379.1 1667.5 L373.9 1662.3 L378.8 1666.2 L371.6 1668.4 L376.2 1667.4 L372.1 1664.9 L376.4 1668 L372.3 1668 L375.1 1667.6 L371.3 1669 L365.9 1663.5 L368.8 1660.9 L369.8 1660.4 L367.6 1662.7 L364 1666.1 L362 1664.6 L367.1 1670.2 L360.9 1664.1 L363.9 1662.5 L364.4 1662.7 L360.8 1664.3 L354.9 1661 L353.9 1664.5 L355.5 1671.3 L357.9 1662.1 L357.7 1664 L354.6 1669.1 L357.2 1671.4 L352.1 1665.3 L350.9 1665.5 L353.3 1667.2 L351.8 1664.2 L351.7 1672.6 L345.1 1669.3 L343.6 1663.6 L345.1 1665.3 L347.2 1669.5 L345.7 1673.7 L338.4 1665.1 L337.1 1669 L344.1 1671.5 L340.2 1673.5 L337.3 1666.1 L339 1665.4 L333.6 1665.7 L331.8 1666.3 L334.5 1667.2 L334.2 1674.7 L330.3 1667.6 L332.7 1674.2 L333.8 1672.7 L329.5 1676.2 L329.4 1677.6 L324 1675.8 L326.6 1672.9 L318.6 1673.2 L320.2 1674.8 L321.7 1674.1 L315.6 1670.4 L320.5 1676.5 L323.6 1678 L314.6 1674.7 L315.8 1678.7 L313.4 1680.3 L313.2 1674.9 L311.9 1674.7 L316.6 1671.6 L308.6 1672.2 L310.6 1673.2 L303.4 1676.6 L307.3 1680.7 L304.3 1675.7 L302.3 1682.7 L299.3 1673 L305.8 1678.6 L295.9 1674.9 L303.5 1682.3 L292.7 1681.7 L293.2 1679.3 L296.6 1674.9 L299.2 1678.5 L288.8 1684.1 L287.2 1675.4 L292.3 1680.9 L294 1685.1 L284.7 1676.2 L288.2 1681.7 L283.5 1687.5 L281.2 1684.3 L278.5 1688.1 L287.5 1684.5 L279 1686.1 L284.6 1687.3 L273.4 1683.8 L273.4 1684.5 L281.7 1689 L272.3 1685 L272 1680.1 L275.8 1688.3 L269.8 1683.9 L272.8 1688.3 L268.9 1680.1 L263.5 1680.9 L270.8 1685.7 L267.5 1684 L263.1 1681.5 L269 1687.9 L257.8 1689.5 L262.2 1688.4 L263 1688.5 L263.1 1694.2 L256.3 1689.5 L254.7 1686.1 L253.4 1689.9 L252 1685.5 L256.7 1692.7 L253.5 1693.6 L248.7 1690.6 L245.9 1685.5 L242.8 1693.6 L251.7 1685.6 L243.8 1682.6 L239.7 1691.5 L247.8 1682.2 L238.6 1694 L237.1 1696.2 L237.4 1689.4 L234.3 1686.3 L236 1686.2 L238.7 1681.8 L236.4 1696 L231.1 1684.9 L227.3 1682.9 L234.9 1692.9 L223.5 1690.2 L230.1 1687.8 L221.4 1689.9 L224.5 1700.9 L223.4 1700.2 L229.2 1693.4 L217.9 1698.3 L216.3 1693.4 L215.3 1683.9 L218.5 1685.3 L225.6 1694.4 L223.2 1702.7 L220.2 1696.2 L215 1699.3 L216.8 1685.8 L213.7 1691.6 L212.5 1698.5 L214 1695.4 L214.5 1701.5 L203.1 1685.9 L201.3 1686.4 L214.2 1690 L205.2 1693.9 L206.1 1689.5 L208.5 1690.9 L208.5 1702.7 L194 1696.6 L194.4 1705.3 L192.9 1690 L203.2 1698.4 L200.4 1694.1 L196.9 1688.8 L194.9 1690.3 L197.4 1686.5 L187.2 1689 L192.8 1699.7 L182.6 1711.2 L195.8 1694.6 L183 1707.4 L196.2 1689.2 L191.3 1707.8 L193.4 1690.4 L177.9 1689.3 L178.8 1711.3 L189.9 1698.8 L174.8 1695.4 L175.8 1704.6 L183.4 1708.9 L177.3 1699.2 L176.8 1696.7 L175.6 1706.9 L179.4 1695.6 L175.7 1689.9 L165.1 1697.9 L170 1686.3 L163.9 1699.5 L179.1 1713.6 L161.2 1696.2 L166.7 1696.1 L161.5 1705.9 L173.9 1698.8 L160.7 1689.2 L156.9 1712.6 L160.2 1711.3 L170 1688.6 L158.1 1697 L168.3 1712.3 L159 1702.1 L159.4 1702.9 L166.9 1695.2 L166.6 1719.6 L162.3 1721.2 L167.7 1691.9 L168.1 1693 L164.4 1689.9 L155.8 1702 L164.4 1711.1 L153 1719.3 L165.4 1704.5 L148 1696Z" fill="none" stroke="#f7dcdc" stroke-width="1.5" stroke-linejoin="round" filter="url(#dil)"/>
<path d="M157.9 1704 C155.6 1702.6 181.3 1691.9 194.3 1685.7 C207.3 1679.4 224.4 1672.4 235.9 1666.6 C247.5 1660.8 256.8 1655.6 263.7 1651 C270.6 1646.3 273.5 1643.2 277.6 1638.8 C281.6 1634.5 285.1 1629.8 288 1624.9 C290.9 1620 292.3 1614.2 294.9 1609.3 C297.5 1604.4 299.6 1600.4 303.6 1595.4 C307.7 1590.5 312.6 1584.5 319.2 1579.8 C325.9 1575.2 333.1 1571.2 343.5 1567.7 C353.9 1564.2 363.8 1562.8 381.7 1559 C399.6 1555.2 427.9 1549.5 451.1 1545.1 C474.2 1540.8 500.2 1536.3 520.5 1533 C540.7 1529.6 557.2 1527 572.5 1525 C587.8 1523 608.4 1519.2 612.4 1520.8 C616.5 1522.5 601.7 1530.1 596.8 1534.7 C591.9 1539.3 587.6 1543.4 582.9 1548.6 C578.3 1553.8 573.7 1560.7 569 1565.9 C564.4 1571.2 560.4 1574.9 555.2 1579.8 C550 1584.7 543.6 1590.2 537.8 1595.4 C532 1600.6 525.7 1606.1 520.5 1611.1 C515.3 1616 512.4 1620.6 506.6 1624.9 C500.8 1629.3 495 1633.3 485.8 1637.1 C476.5 1640.8 465.5 1643.7 451.1 1647.5 C436.6 1651.2 416.4 1656.2 399 1659.6 C381.7 1663.1 367.2 1664.3 347 1668.3 C326.7 1672.4 300.7 1679.6 277.6 1683.9 C254.5 1688.3 228.1 1691 208.2 1694.3 C188.2 1697.7 160.2 1705.5 157.9 1704Z" fill="none" stroke="#e8948d" stroke-width="6.5" stroke-linejoin="round"/>
<line x1="134.8" y1="1613.6" x2="646.6" y2="1613.6" stroke="#7aaadd" stroke-width="7" stroke-linecap="round"/>
</g>
<g font-family="'Liberation Sans', Arial, sans-serif">
<text x="674.9" y="1356.7" font-size="28">e)</text>
<rect x="805.7" y="1405" width="516.3" height="417.2" fill="none" stroke="#000" stroke-width="2.5"/>
<line x1="797.7" y1="1405" x2="805.7" y2="1405" stroke="#000" stroke-width="2.5"/>
<text x="791.7" y="1414.8" text-anchor="end" font-size="28">0.2</text>
<line x1="797.7" y1="1509.3" x2="805.7" y2="1509.3" stroke="#000" stroke-width="2.5"/>
<text x="791.7" y="1519.1" text-anchor="end" font-size="28">0.1</text>
<line x1="797.7" y1="1613.6" x2="805.7" y2="1613.6" stroke="#000" stroke-width="2.5"/>
<text x="791.7" y="1623.4" text-anchor="end" font-size="28">0.0</text>
<line x1="797.7" y1="1717.9" x2="805.7" y2="1717.9" stroke="#000" stroke-width="2.5"/>
<text x="791.7" y="1727.7" text-anchor="end" font-size="28">-0.1</text>
<line x1="797.7" y1="1822.2" x2="805.7" y2="1822.2" stroke="#000" stroke-width="2.5"/>
<text x="791.7" y="1832" text-anchor="end" font-size="28">-0.2</text>
<line x1="801.2" y1="1457.2" x2="805.7" y2="1457.2" stroke="#000" stroke-width="2.5"/>
<line x1="801.2" y1="1561.5" x2="805.7" y2="1561.5" stroke="#000" stroke-width="2.5"/>
<line x1="801.2" y1="1665.8" x2="805.7" y2="1665.8" stroke="#000" stroke-width="2.5"/>
<line x1="801.2" y1="1770" x2="805.7" y2="1770" stroke="#000" stroke-width="2.5"/>
<line x1="902.5" y1="1822.2" x2="902.5" y2="1830.2" stroke="#000" stroke-width="2.5"/>
<text x="902.5" y="1858" text-anchor="middle" font-size="28">-0.5</text>
<line x1="1063.8" y1="1822.2" x2="1063.8" y2="1830.2" stroke="#000" stroke-width="2.5"/>
<text x="1063.8" y="1858" text-anchor="middle" font-size="28">0.0</text>
<line x1="1225.2" y1="1822.2" x2="1225.2" y2="1830.2" stroke="#000" stroke-width="2.5"/>
<text x="1225.2" y="1858" text-anchor="middle" font-size="28">0.5</text>
<line x1="821.8" y1="1822.2" x2="821.8" y2="1826.7" stroke="#000" stroke-width="2.5"/>
<line x1="983.2" y1="1822.2" x2="983.2" y2="1826.7" stroke="#000" stroke-width="2.5"/>
<line x1="1144.5" y1="1822.2" x2="1144.5" y2="1826.7" stroke="#000" stroke-width="2.5"/>
<line x1="1305.9" y1="1822.2" x2="1305.9" y2="1826.7" stroke="#000" stroke-width="2.5"/>
<text x="1064.3" y="1908" text-anchor="middle" font-size="36"><tspan font-style="italic">U</tspan><tspan font-style="italic" font-size="23" dy="8">cell</tspan><tspan dy="-8"> (kV)</tspan></text>
<text transform="translate(716.5 1593.6) rotate(-90)" text-anchor="middle" font-size="35"><tspan font-style="italic">Q</tspan> (μC·cm<tspan font-size="24" dy="-14">-2</tspan><tspan dy="14">)</tspan></text>
<line x1="817.9" y1="1430.6" x2="880.3" y2="1430.6" stroke="#7aaadd" stroke-width="7"/>
<line x1="817.9" y1="1461.2" x2="880.3" y2="1461.2" stroke="#e8968f" stroke-width="7"/>
<text x="883.4" y="1438.6" font-size="26.5">DBD</text>
<text x="883.4" y="1470.3" font-size="26.5">FBD</text>
<path d="M886.4 1766.6 L893.1 1734.5 L870.3 1748.8 L879.6 1775.7 L893.9 1762.6 L889.5 1766.2 L875.8 1752.4 L876.5 1781.1 L873.3 1775.6 L874.1 1767.3 L882.8 1749.6 L899.2 1725.5 L874.2 1781 L888.7 1729.7 L904 1782.6 L876.5 1750 L877.5 1742.9 L892.9 1733.5 L895.4 1726.4 L879.2 1773.6 L886.6 1748.8 L892.8 1752.2 L886.5 1724.3 L897.2 1782.2 L905.1 1763.2 L886.3 1744.4 L896.8 1763.4 L879.4 1736 L887.3 1752.9 L901.1 1752 L877.6 1771.8 L890.1 1752.8 L884 1746.9 L889.3 1768 L881 1754 L883.5 1762.9 L879.5 1736.6 L889.1 1758.8 L880.6 1747.5 L885.6 1736.3 L893.9 1778 L894.3 1777.6 L885.2 1775.4 L891.4 1729.6 L903.2 1774.2 L881.2 1734.1 L904.5 1738.4 L888.9 1717.5 L883.1 1755.1 L911.7 1778.4 L897.6 1717.8 L892.5 1764.9 L908 1755.5 L890.2 1748.3 L898 1754.2 L891.8 1773.8 L911 1725 L893.2 1768.7 L893.1 1772.8 L900.5 1757.3 L906.4 1727.4 L894.2 1729.7 L906.3 1756.5 L890.1 1768 L899 1728.3 L899.7 1773.2 L903.7 1751.3 L914.7 1771.6 L910.2 1738.3 L905.3 1767.5 L911.5 1747.8 L898.6 1734.7 L910.4 1746.3 L889.2 1755 L915.9 1760.1 L915.9 1766.6 L905.4 1759.1 L901 1717.4 L900.4 1730 L917.9 1752.4 L906.5 1748.2 L894.4 1742.7 L911.7 1734.2 L898.5 1734.7 L901 1751.1 L895.9 1715.5 L901.2 1751.3 L914.6 1748.9 L920 1731.3 L893.6 1738.3 L906.1 1719.9 L912.9 1729.3 L900.5 1728.3 L921.5 1709.3 L904.6 1725.1 L900.2 1733.8 L901 1762.1 L909.5 1749 L899.8 1735.1 L913.1 1757 L902.9 1734.4 L920.8 1755.9 L902.8 1738.6 L918.5 1730.1 L916.2 1745.4 L925.1 1738.9 L916.9 1726.9 L918.7 1725.1 L912.2 1727.1 L906.9 1714 L904.8 1737.3 L905.8 1708.5 L921.9 1722 L925.9 1739.8 L910.5 1755.3 L925.3 1723.5 L903.6 1741.6 L924.2 1739.5 L922.8 1728.2 L918.3 1719.5 L912.6 1725.9 L912.2 1726.9 L924.4 1713.7 L907.7 1718.3 L929.5 1733.2 L903.9 1750.7 L927.2 1749.6 L913 1744.6 L911.8 1710.9 L927.7 1749.7 L909.7 1752.1 L904.8 1719.9 L904.8 1712.1 L909.2 1742.3 L913.1 1712.8 L910.3 1719.5 L929.2 1735.7 L908.6 1739.8 L920.7 1726.5 L920.7 1737.6 L928.4 1729.3 L924.2 1727.1 L924.4 1722.5 L918.7 1729.4 L927 1716.2 L932.9 1727.7 L931.2 1738.4 L934.1 1737.8 L920.3 1722.5 L925.4 1741.4 L931.7 1707.2 L911.6 1705.9 L912.4 1702.9 L910.7 1713.3 L913.8 1736.8 L927.1 1751.8 L936.2 1739.7 L936.2 1700.8 L917.9 1749.1 L924.5 1710.2 L932 1721.7 L926.8 1715.8 L919.3 1703.4 L928.9 1749.6 L938.8 1739.4 L937.7 1717.7 L921.9 1747.5 L929.8 1733.8 L915.2 1710.2 L927.3 1736.7 L936.2 1738 L924.3 1717.9 L937.6 1749.9 L928.4 1707.8 L932.2 1725.6 L925.9 1709.4 L926.7 1729.4 L920.5 1725.5 L941.4 1736 L924.2 1718.8 L920.7 1735.3 L934.2 1705.7 L932.3 1727.6 L933.3 1716.1 L926.9 1714.8 L944.3 1713.4 L932.2 1720 L924.2 1716.7 L925.3 1712.6 L929.6 1713.9 L944.1 1711 L929.2 1729.5 L931 1722 L937.6 1699.2 L938.4 1700.5 L928 1736.7 L946.9 1729.5 L926.5 1717.3 L929.5 1737.8 L928.5 1704.7 L939 1727.1 L938 1718.9 L947.7 1717.7 L947.4 1714.1 L935.5 1712.4 L942.1 1732.1 L930 1720.5 L942.9 1719.1 L941.4 1724.8 L943 1711.5 L932.5 1694.7 L948 1733.1 L935.1 1741.8 L948.8 1700.7 L947.2 1714.1 L933.7 1705.8 L936.5 1695.3 L927.1 1698.4 L934 1700.4 L929.3 1733.9 L936.3 1716.7 L942.3 1738.6 L930.4 1703.4 L949.5 1737.2 L951.6 1718.1 L936.8 1701 L951.4 1729.6 L942 1730.7 L934.4 1717.8 L951.8 1696.6 L944.3 1700.3 L950.3 1732.5 L945.3 1712.4 L928.7 1715.2 L937.9 1710.4 L930.5 1735.9 L942.6 1718.1 L951.4 1734.4 L943.7 1717 L951.9 1708.4 L953.5 1691.2 L950.8 1715.8 L946.2 1738.3 L935.4 1709.6 L951.4 1726.1 L944 1727.4 L948.3 1731.8 L947.7 1706.9 L937.9 1693 L933.5 1691 L957.2 1695.6 L947 1695.2 L957.3 1714.5 L935.4 1728.6 L954.6 1735.8 L936.9 1707.7 L949.3 1701.7 L946.9 1721.9 L952.2 1727.7 L952.3 1701.4 L952.6 1708.5 L936.1 1688.3 L949.1 1704.5 L934.2 1710.7 L943.4 1702.6 L947.9 1712.8 L947 1734.2 L957.9 1700.9 L957.1 1701.5 L959.1 1688.9 L941.4 1730.8 L951.4 1719.8 L938.4 1691.5 L960.3 1688.7 L937.8 1706 L956.6 1717.8 L961.9 1722.4 L945.8 1728.5 L942.4 1687.1 L961.2 1726.6 L952.7 1707.3 L939.5 1694.6 L935.6 1688.4 L947.8 1726.5 L961.2 1708.1 L953.8 1705.7 L956.9 1716.8 L963.2 1723.2 L954.3 1710.9 L939.5 1705 L947.8 1689.7 L940.7 1701.7 L940.1 1711.6 L944.7 1728.6 L955.3 1706 L948.1 1699.9 L941.3 1726.7 L962.5 1711.6 L954.9 1687.5 L951.8 1688.4 L945.5 1708 L941 1691 L957.8 1702.7 L962.7 1687.1 L939 1723.5 L954.6 1711.8 L953.2 1685.9 L965.9 1702 L964 1685.3 L945.2 1704 L944.5 1718.3 L945 1681.5 L942.2 1690.3 L965.8 1718.4 L957.6 1697 L938.9 1715.7 L941.6 1685.9 L951 1716.6 L943.5 1679 L965.4 1676.2 L960.3 1682.2 L947.4 1685 L951.7 1718 L963.9 1699.8 L941.4 1682.8 L947.7 1711.2 L966.5 1675.3 L949.1 1718.4 L943.7 1677.3 L947.3 1714.6 L947.4 1706.5 L943.1 1703.3 L944.7 1700.1 L962.2 1713 L953 1717.6 L952.2 1715.7 L967.7 1717.7 L943.4 1683.9 L961.3 1711.9 L948.2 1706.2 L954.9 1670.7 L943.2 1670.6 L947.6 1712.9 L961.4 1709.5 L968.7 1687.6 L962.1 1699.3 L962.1 1673.2 L968.2 1675.9 L954.8 1700 L964 1706.1 L951 1681.6 L963.7 1669.8 L968.2 1681.9 L953.7 1681.5 L963.6 1674.8 L946 1669.6 L946 1694.8 L972.3 1666.3 L956.3 1682 L951.7 1681.2 L945.6 1684.6 L950.5 1667.7 L946.6 1707 L964.6 1709.2 L967.6 1697.7 L949.6 1668.8 L973 1694.7 L965 1669.8 L967.2 1687.3 L945.7 1672.2 L972.8 1690.6 L945.9 1665.7 L966.3 1677.7 L958 1667.7 L948.8 1683.7 L956.6 1669.3 L948.1 1680.7 L947.1 1663.1 L958.2 1662.3 L966.3 1694.4 L965.5 1702.4 L949 1678.2 L956.7 1662 L970.5 1660.3 L974.4 1688.7 L974.5 1660.6 L971.7 1701.1 L968.3 1683.4 L964.3 1678.7 L970.7 1682.7 L961.4 1674.6 L963.9 1682.5 L973.6 1690.6 L954.9 1687.9 L952 1676.8 L961 1687.6 L947.1 1661.1 L950.6 1682.1 L950.3 1679.1 L972.2 1672.9 L952.1 1680.2 L957.9 1672.7 L950.8 1683.4 L956 1696.7 L960.7 1682.8 L973.9 1696.1 L946.2 1693.2 L948.8 1693.9 L970 1662.5 L967.8 1676 L959.8 1678.6 L959.9 1679.6 L967.3 1650.1 L965.7 1681.2 L972.7 1673.3 L962.8 1655.5 L952.3 1688.8 L948.3 1688.8 L950.2 1665.4 L965.6 1649.3 L960.3 1683.4 L958.4 1655.3 L948.5 1689.5 L950 1676.8 L966.4 1659.1 L964 1677 L953.3 1657 L975.3 1655.1 L962 1665.8 L971 1683.5 L970.6 1673 L963.8 1648.9 L964.9 1663.8 L970.5 1661 L951.1 1661.1 L972.9 1665.8 L968 1646 L954.3 1655 L962.4 1648.2 L976.6 1657.4 L947.7 1653.1 L963.1 1669.5 L972.8 1645.8 L977.6 1679.7 L963.7 1670.1 L957.4 1647.7 L948.3 1683.5 L975.4 1660.4 L966.6 1661.5 L969.3 1644.5 L971.3 1647.6 L966.4 1667.2 L974.3 1666.6 L953.8 1675.2 L959.9 1663.8 L973 1681.9 L951.7 1658.5 L958.2 1675.6 L960.8 1678.2 L973 1656.2 L972.1 1667.4 L952.4 1650.3 L953 1673.7 L961 1650 L970.9 1680 L953.4 1666.7 L956.1 1670.9 L971.9 1669.7 L967 1640.9 L975.2 1640.1 L967 1677.4 L957.6 1656 L970.1 1663.1 L959.4 1652.7 L976.8 1665.7 L955 1663.9 L975.6 1660.2 L977 1645.1 L958.8 1671.4 L957.9 1638.6 L954.7 1671.6 L975 1641.3 L972.6 1641.1 L969.1 1632.6 L967.8 1664.9 L965.8 1659.3 L954.3 1651.7 L974.2 1647.7 L973.1 1657.4 L975.1 1663.4 L960.3 1666.7 L975.5 1649.3 L972.7 1648.5 L968.5 1644.4 L965.3 1643.5 L978 1656.7 L969.9 1652.5 L965.6 1637.1 L971 1648.8 L962.3 1651.5 L956.2 1657.2 L975.2 1644.8 L957.3 1670.8 L970.7 1642.3 L955.5 1653.3 L959.3 1667.3 L973.7 1640 L964.9 1631.6 L959.8 1651.9 L978.7 1646 L981 1638.4 L956.7 1663.6 L964.6 1639.2 L966.6 1653.4 L960.4 1631.3 L971.1 1655.1 L970.2 1633.3 L978.7 1644.9 L969.8 1664.5 L958.6 1647.4 L966.8 1653.5 L961.4 1636.1 L961.5 1649.7 L963.7 1665.5 L979.5 1656.7 L966.9 1660.7 L971.6 1658.8 L982.1 1630.1 L976.9 1663.7 L967.3 1639.3 L957.3 1663 L962.2 1624.7 L959.1 1646.3 L975.3 1663 L974.9 1628.3 L982.1 1661.2 L978.9 1662.3 L979.8 1652.8 L978.1 1624.4 L984.1 1623.4 L969.2 1647.5 L971.6 1637.5 L971.7 1636.4 L975.8 1624 L967.6 1650.4 L970.7 1623.3 L970.9 1661.9 L972.7 1653.4 L969.2 1663.9 L973.1 1656.5 L975.8 1656.4 L969.9 1661.2 L985.5 1659.7 L983.5 1636.9 L968.9 1659.2 L981.7 1646.2 L974.9 1621.5 L975.1 1623.3 L974.4 1630.2 L976.6 1627.3 L969.6 1653 L976.2 1625.9 L986.6 1621.1 L972.3 1650.2 L976.7 1647.4 L984.9 1623.8 L975.2 1630.2 L977.6 1639 L978.5 1653 L975.6 1637 L977.1 1626.1 L986 1635.3 L976.1 1654 L984.3 1660.4 L981.5 1640.8 L975 1650.9 L979.8 1618.7 L978.6 1646.1 L973.9 1652.6 L983.2 1654.8 L972.7 1645.3 L979.3 1631.8 L973.3 1621.1 L986.2 1628.8 L974.9 1627.8 L980 1637.6 L987.5 1620.3 L975.4 1651.4 L986.2 1619.3 L978.3 1657.6 L990.9 1629.6 L985.6 1630 L970.1 1653.1 L971.7 1656.9 L979.5 1651 L980.3 1652.8 L986.7 1622.7 L970.3 1622.5 L983.9 1619.9 L971.8 1630.9 L971.6 1627.7 L985.1 1624.3 L989 1625.5 L979.4 1631.3 L990.8 1616.6 L990.1 1618.4 L994 1637 L989.1 1635.2 L987.5 1642 L975.6 1621.8 L993.5 1622.8 L978.3 1615.8 L989.4 1645.5 L973.9 1648.3 L975.9 1633.4 L985.4 1623.4 L981.2 1632.9 L992 1623.2 L979.4 1652.2 L980.4 1616.8 L996.2 1649.8 L979.5 1633.7 L995.2 1625.2 L982.9 1612.3 L978 1636.4 L986.9 1646.4 L985.9 1622.6 L984.8 1617.2 L987.1 1639.2 L980.2 1634.7 L999.9 1639 L983.7 1636.8 L978.9 1615.3 L995.8 1639 L991.6 1633 L985.2 1643.9 L989.3 1643.2 L994.7 1623.6 L996.8 1624 L992.2 1643.5 L1000.5 1634.5 L982.6 1616.1 L997.9 1621.8 L981.6 1632.4 L988.3 1638.6 L982.8 1629.5 L1001.6 1615.9 L988.1 1624.5 L982.1 1614.5 L986.6 1630.4 L982.5 1633.6 L988.4 1620.3 L1000 1637.5 L990.4 1618.4 L992.2 1633.6 L998.4 1633.9 L980.2 1614 L1004.4 1629.1 L992.9 1612 L999.7 1639.8 L988.3 1617.9 L982.7 1619.1 L993.5 1624.5 L981.4 1610.7 L987 1639.2 L1005 1640.3 L993.6 1620.6 L1003.6 1635.8 L997.7 1633.5 L1005 1626.6 L988.4 1634.5 L1005.2 1614.6 L991.8 1635.4 L1002.3 1607.6 L1002.6 1614.8 L985.8 1607.2 L994.3 1622.7 L987.5 1632.7 L987.6 1640.9 L1008.2 1617.6 L983.8 1607.3 L996.8 1618.2 L1003.1 1620.1 L990.1 1610.4 L1008.9 1633.6 L1001.1 1612.4 L995.2 1632.9 L1000.5 1614.3 L993 1634.7 L985.5 1628.2 L1002.5 1623 L998.6 1638.6 L992.8 1631.8 L1003.3 1631.1 L986.3 1629.2 L994.5 1607.3 L1008.6 1612.4 L997.1 1613.9 L987.8 1613.1 L1001.2 1626.3 L1004.9 1607.4 L992.4 1633.3 L999.2 1629.6 L997.6 1617.2 L986.2 1633.2 L1009.7 1628.2 L991.3 1624.7 L1003.9 1611.2 L995.8 1634.4 L992.8 1623.5 L987 1600.8 L987 1611.5 L1011.2 1621.7 L999.2 1605.1 L1001.3 1604.3 L987.9 1611.9 L993.2 1628.9 L1001.7 1623.3 L993.9 1613.7 L989.5 1609.5 L1013.8 1623.9 L995.7 1622.2 L1011.7 1629 L1001.1 1603.8 L988 1600.4 L1009.5 1627.3 L1006.2 1624.9 L990.7 1619.3 L987.1 1598.2 L1004.2 1597.1 L998.5 1610.1 L1011.4 1609.9 L992.8 1622.2 L991.4 1633.4 L1013.1 1633.7 L1004.6 1602.7 L992.9 1622.8 L999.7 1622.3 L993.3 1616.9 L1011.6 1606 L1011 1600.4 L1006.3 1596.3 L994.5 1597.3 L993.2 1614.5 L1010.7 1625.1 L1013.6 1603.4 L1014.4 1610 L1006.8 1621 L995.6 1604.1 L1000.3 1606.2 L1008.7 1625.9 L1006.9 1594.7 L1010.8 1621.7 L1016.2 1599.6 L1014.8 1607.3 L1004.1 1599.7 L995.5 1607.8 L1004.5 1601.3 L1004.2 1607.5 L994.8 1615.7 L997.7 1592.4 L995.6 1606.7 L1006.3 1593.1 L1014.1 1593.3 L1015.8 1591.2 L997.7 1602.6 L1008.2 1593 L995 1620.5 L1015.3 1591.3 L992 1601.8 L999.6 1614.3 L1016.2 1612.4 L998.9 1596.6 L991.3 1590.5 L1014.1 1620.3 L1000.2 1595.8 L1014.3 1595.9 L1001.3 1620.4 L990.5 1600 L995.6 1603.3 L1016.6 1622.2 L1011.5 1617.8 L1000.9 1613.4 L1011 1619.4 L1000.7 1617 L995.8 1606.7 L1017.5 1612.4 L1012.1 1591 L1001.2 1605 L1013.6 1592.5 L1006.1 1611.3 L1010.4 1592.6 L993.7 1596.2 L996.5 1603.5 L1006 1583.9 L1017.8 1616.1 L996.7 1591.7 L1018.6 1582.4 L995.9 1594.6 L1015.5 1582.7 L1006.5 1608.7 L1009.4 1596.5 L1010.2 1606.3 L1005.5 1589.4 L1009.8 1609.2 L994.6 1602.8 L1003.8 1584.5 L1001.3 1580.7 L1015.5 1598.7 L1004.5 1609.9 L1015.8 1592 L993.2 1598.8 L998.9 1599.2 L995.2 1606.1 L1016.8 1582.7 L1015.9 1579.1 L996.6 1596.3 L999.4 1589.6 L1003.2 1603 L1014.9 1607.4 L999.6 1583.7 L1016.7 1588.7 L996.2 1592.2 L999.8 1596.7 L1004.6 1578.8 L1014.6 1605.7 L997.4 1580.1 L1007.5 1578 L1020.8 1587.8 L995.3 1578.7 L999.5 1580.3 L1010.8 1603.5 L1004.7 1590.9 L1020.9 1588.5 L1004.3 1602.3 L1013 1585 L1016.9 1578.5 L996.4 1577.7 L1003.1 1600.5 L1000.9 1571.2 L996.8 1597.9 L1008.1 1603.3 L1003.3 1573 L998.9 1595.3 L1008.3 1598.5 L1021.1 1585 L996.4 1598.2 L1019.2 1587.7 L1009.2 1595.1 L1004.2 1566.6 L1021.5 1582.9 L1003.7 1598.1 L1020 1581.4 L1015.3 1601.9 L1008.8 1583.4 L1021 1569.3 L1014.2 1571.6 L1003.3 1592.9 L996.2 1597.6 L1014.7 1597.8 L1018.4 1585.2 L1005.6 1566.4 L1020.4 1591.5 L1003.2 1573.1 L1021.9 1574.4 L999 1570.4 L1014.5 1591.8 L1001.8 1586.6 L1011.3 1585.9 L998.7 1589.9 L997 1564.6 L1011.4 1594 L1014 1592 L1018.8 1584.8 L1020.7 1595.8 L1018.2 1565 L1002.3 1576 L1009.8 1576.3 L1019.8 1582.7 L1020.7 1595.3 L995.2 1569 L1022.4 1561.9 L1005 1564.3 L1013.2 1574.6 L1019 1593.3 L1019.5 1568.7 L1012.4 1593.8 L1006.2 1572.9 L1022.5 1577.6 L994.3 1577 L997.7 1557.3 L1019.3 1583.8 L1005.5 1590.2 L1000.2 1557 L995.5 1573.1 L1001.3 1579.4 L1021.8 1572.2 L1017.9 1558.5 L1014.7 1561.7 L1018.5 1573.9 L1004.2 1568 L1000.4 1580.1 L1007.8 1558.2 L1001.8 1566.8 L1001.8 1558.4 L1009.6 1578.7 L993.8 1577.5 L999.4 1570.2 L1017 1562.3 L1017.9 1554.4 L1002.4 1550.9 L998.1 1576.3 L1020.3 1578.9 L999.8 1572.5 L1011.8 1559.9 L995.3 1581.5 L1020.3 1561.8 L996.5 1578.5 L999 1550.5 L1021.9 1555.8 L1000.2 1572.5 L1014.1 1571.9 L998.1 1580.9 L1003.8 1554.8 L1016 1555.4 L1005.4 1556.4 L1006.8 1574.6 L996.7 1583.3 L1007.6 1577.4 L1006.1 1559.4 L1009.3 1547.8 L998.7 1549.4 L998 1554.5 L997.8 1578.6 L994.2 1553.6 L994.7 1565.8 L1018.3 1564 L1003.9 1572.3 L1009.9 1569.5 L1013.5 1552.3 L994.7 1553.5 L998.6 1569.7 L1016.8 1544.1 L1009.1 1561.5 L1005.3 1550 L1021 1570.6 L1014.5 1571.3 L1018.9 1573.4 L1014.8 1564.8 L993.1 1551.6 L1001.8 1568.3 L993 1566.2 L1004.2 1542.5 L1002.9 1548.5 L1011.3 1547.7 L999 1568.1 L1003.3 1566.3 L995.8 1551.2 L996.8 1546.1 L1006.3 1569.1 L1006.2 1568.9 L1001.4 1538.3 L1015.7 1546.4 L1000 1560.7 L1020.2 1554.9 L1006.3 1543.3 L993.3 1547.7 L997.5 1554.3 L995.1 1543.3 L999.2 1534.3 L1014.2 1546.4 L1011.6 1560.1 L1011.9 1551.9 L996.8 1554.9 L1000.8 1541.8 L1015 1564.6 L1015.5 1565.1 L1008.5 1562.2 L1009 1564.1 L996.5 1537.1 L993.5 1544.6 L1019.2 1550.9 L998.9 1553.2 L1000 1551.5 L1011.7 1555.4 L1007.6 1543.6 L995.7 1531.2 L993.4 1540.9 L1015 1559.8 L996.1 1554.2 L1001.1 1540.6 L1016.4 1548.2 L1006.4 1560.3 L998.7 1536.7 L993.6 1536.1 L1010.9 1527.2 L1004.8 1530.4 L1004.9 1526.1 L1009.2 1541.6 L1015.1 1532.4 L994.4 1544.9 L999.1 1558.5 L1008.7 1554.7 L1007.5 1548.2 L997.2 1541.2 L996 1546.4 L1002.8 1555.7 L1007.1 1548.1 L992.9 1557.4 L1012.1 1529.5 L1009.6 1545.6 L999.6 1530.1 L992.1 1523.7 L999.6 1528.9 L995.5 1551.3 L995.5 1532.5 L992.8 1533 L991.4 1524.5 L1014.3 1539 L1007.6 1536.3 L1006.8 1522 L990.6 1536.9 L995.9 1515.9 L1014.1 1538.1 L1011.2 1525.6 L994.8 1543.3 L994.6 1524.9 L1016.7 1538.6 L1011.9 1544.2 L992.3 1517.1 L996.4 1546.9 L1015.1 1516.3 L1004.4 1513.8 L1002.6 1542.4 L1001.9 1520.9 L994.4 1540.1 L1003.8 1511.4 L995 1513.3 L1001.9 1515.1 L1000.4 1514.8 L1017.7 1536.9 L989.9 1535.4 L991.7 1537.9 L1005.1 1536.5 L1001.6 1535.2 L999.4 1532.2 L996.3 1512.1 L1008.4 1541.8 L1006.2 1514.7 L994.5 1513.8 L1001.3 1519.9 L997.3 1527.7 L1001.2 1512.5 L990.7 1528.2 L992.4 1527.8 L991.3 1518.5 L997.3 1535.6 L992.5 1536.4 L997.3 1510.6 L1002.2 1535.7 L1004.5 1508.6 L1015 1508.9 L1011.1 1529.5 L1015.2 1536.8 L1006.4 1525.8 L1011.4 1533.6 L996.9 1530.4 L1004 1522.5 L998.2 1521.6 L1000 1507.3 L1005.1 1506.9 L1000.3 1529.9 L1007.8 1500.7 L1014.9 1500.3 L993.7 1497.7 L1011.9 1507.6 L989.2 1508.5 L1005.5 1507.4 L987.6 1508.5 L1005.3 1523.8 L1013.6 1529.7 L1002.3 1503.1 L996.4 1527.1 L1004.9 1514.5 L1009.5 1507.3 L998.1 1514.1 L991 1522.4 L1008.5 1502.6 L1005.7 1504.5 L991 1491.7 L995.6 1503.4 L1010.2 1511.9 L1013.2 1517.5 L994.2 1505.7 L1011.3 1498 L990.9 1496.1 L1006.1 1525.4 L1011.3 1520.9 L993.6 1523.1 L995.9 1499.9 L995.2 1521.7 L995.1 1517.2 L992.7 1514.6 L1012.5 1503.9 L1005.4 1517.1 L992.2 1509.3 L994.1 1487.5 L987.6 1505.4 L988.5 1500.5 L1004 1498.4 L1007.3 1491.4 L1007.5 1509.8 L991.1 1500.2 L985.3 1507.5 L990.9 1519.1 L986.4 1505.6 L996.9 1497.5 L1008.6 1498 L1005.1 1514.2 L1009.9 1509.8 L1013.4 1516 L997.9 1485.6 L988.3 1486.1 L1004.1 1500.4 L998.9 1486 L996.3 1490.2 L986.3 1498.1 L990.5 1492.1 L997.2 1494.6 L990.8 1507.5 L1012.2 1502.1 L1011.2 1512.7 L985.3 1505.7 L1012.9 1488.5 L1005.5 1499.7 L1012.6 1497.3 L1009.6 1495.1 L985.9 1497.4 L995.5 1479.7 L993.1 1484.4 L1010.2 1511.2 L999.7 1511.6 L995.7 1501.8 L1003.8 1513.8 L1004.2 1487.1 L999.3 1506.8 L1006.7 1485.6 L1011.4 1496.3 L1007.5 1512.3 L1007.9 1482 L996.9 1479.5 L990.1 1479.4 L990.9 1479.1 L1004.6 1512.1 L1004.5 1507.7 L1002 1493.9 L996.5 1476 L1005.4 1479.9 L1009.4 1484.6 L997.2 1498.5 L996.6 1491.1 L1012.5 1505.3 L988.2 1499.6 L1005 1485.3 L986.7 1494.7 L994.7 1490.4 L1002.6 1477.1 L1000.4 1506.1 L1006.7 1500.9 L988.4 1485.5 L992.9 1511.1 L1008.3 1494.6 L990 1500 L1010.4 1510.1 L1009.8 1482.4 L1012.1 1499.8 L1006.7 1478.4 L1010.6 1507.2 L1003.2 1498.6 L999.9 1485.5 L1007.1 1500.1 L1003.9 1494.7 L1007.1 1489.1 L1005.9 1499.1 L1010.1 1487.8 L1011.1 1480 L998.7 1491 L1011 1497 L993.1 1477.8 L997.9 1485.7 L993.5 1485.8 L1001.8 1497.2 L987 1475.1 L1005.3 1488.2 L1007.6 1477.2 L1009.2 1498.3 L1002.1 1506.2 L988.7 1492.7 L1012.8 1475.6 L991.2 1498.4 L991.3 1498.4 L983.9 1474 L1001.9 1481.1 L1005.7 1495 L1000.2 1471.1 L995.8 1473.5 L996.5 1481 L989.9 1479.8 L1011.3 1478.6 L1008 1473.1 L1002.5 1484.7 L995.5 1475.1 L1003.8 1479.7 L995.4 1481.2 L998.8 1476.4 L988.8 1499.3 L1002 1498.1 L1005 1479.2 L1011.4 1489.2 L983.7 1491.5 L1005.8 1469.4 L1003.6 1482.2 L989 1486.5 L1005.1 1498.9 L1010.8 1484.8 L987.4 1494.6 L995.6 1491.2 L1000.1 1485.3 L1002.1 1494.1 L1010.6 1488.6 L995.2 1489.6 L1011.4 1479.6 L986 1469.2 L1007 1503.3 L997.8 1471.5 L993.4 1485 L1005.2 1489.4 L1007.2 1503.8 L995.2 1479.6 L989.7 1503.1 L1009.1 1480.6 L1009.4 1496.1 L1005.7 1494 L1004.2 1486.6 L995.2 1481.2 L997 1489 L995.7 1497.9 L998.5 1469.3 L1000.6 1502.4 L1004.1 1477.8 L993.5 1467 L994.7 1497.6 L1004.1 1488 L993.9 1480.2 L998.5 1494.2 L1001.4 1473.4 L1012.3 1465.7 L996.9 1489.8 L1011.3 1476.3 L1001.5 1470.4 L1004.6 1488.3 L1004.6 1464.2 L1003 1487.6 L1003.2 1489.4 L1014.8 1479.8 L1015.6 1464.3 L1004.3 1465.9 L1013.7 1476.7 L1005.8 1471.1 L1013.6 1463.4 L1013.6 1466.1 L1017.8 1485.7 L1011.1 1464.3 L1004.4 1477.9 L1016.4 1487.3 L1014.1 1472.1 L1018.2 1485.3 L1019.1 1494 L1021.6 1469.2 L1019 1491.1 L1018.9 1479.4 L1018.1 1464.9 L1021 1490.9 L1024.5 1474.5 L1025.7 1477 L1025.3 1491 L1020 1484.9 L1022.8 1492.6 L1015.3 1466.5 L1030.9 1491.4 L1031.7 1484.8 L1032.4 1487.7 L1021 1486.4 L1032.9 1494.5 L1029.2 1493.1 L1033.4 1461.8 L1024.7 1493.8 L1036.9 1472.6 L1024.2 1487.8 L1030.8 1495 L1037.4 1464.2 L1033.8 1477.9 L1027 1491.9 L1033.9 1474 L1034.3 1486.5 L1043.4 1466.7 L1042.6 1479.2 L1038.9 1461 L1035.6 1489.9 L1045.1 1476.9 L1044.4 1466.9 L1046.3 1485.7 L1048.9 1475.8 L1038.9 1483.7 L1049.8 1483.9 L1048.6 1486.1 L1048.2 1462.6 L1040.4 1473.5 L1053.1 1468.7 L1049.8 1470.6 L1051.5 1470.5 L1048.3 1476.3 L1048.7 1490 L1059.1 1470.6 L1049.7 1483.6 L1053.5 1485.3 L1048.7 1484 L1058.1 1486.9 L1050.8 1460.6 L1063.1 1484.2 L1055.3 1477.8 L1064.7 1472.4 L1063.2 1459.6 L1056.2 1489.7 L1063.4 1458.4 L1059.2 1459.3 L1067.3 1459.1 L1063.6 1468.9 L1073 1466.3 L1064 1472.6 L1072 1489 L1070.4 1457.8 L1074.9 1458.2 L1070.3 1466.6 L1076.7 1469 L1072.5 1455.2 L1070.9 1488.8 L1068.7 1456.7 L1078 1473.8 L1073.1 1459.8 L1079.7 1461.3 L1077 1461.2 L1085.1 1481.5 L1086.2 1469 L1080.8 1470.7 L1079 1486.8 L1080.6 1481.4 L1087.9 1458.3 L1091.6 1475.8 L1083.6 1462.1 L1088.2 1478.4 L1094 1484.3 L1089.5 1465.5 L1093.9 1468.7 L1091.1 1485.3 L1099.2 1455.3 L1091.9 1453.1 L1093 1453.6 L1102.8 1467.2 L1093.5 1463.1 L1100.9 1460.8 L1093.9 1456.5 L1101.4 1460.4 L1100.3 1466.3 L1108.3 1458.6 L1100 1467.5 L1108.1 1474.3 L1102.9 1479.6 L1100.1 1474.3 L1104 1457.2 L1103.8 1484.6 L1109 1483.9 L1117.6 1461.8 L1116.7 1455.6 L1113.8 1483.5 L1117.7 1476.3 L1119.2 1449.6 L1121.4 1452.2 L1116.5 1474.3 L1120.9 1474 L1126.3 1459.9 L1113.6 1475.9 L1120.1 1484.2 L1122.8 1457.3 L1126.1 1459.6 L1130 1457.3 L1125.7 1454.7 L1131.3 1458 L1121.6 1448.6 L1134.4 1480.5 L1126.9 1450.2 L1124.9 1467.1 L1123.4 1452.3 L1124 1468.2 L1126.3 1456.5 L1139 1466.9 L1129.5 1474.2 L1139.2 1475.7 L1142.1 1456.1 L1137.7 1460.7 L1141.7 1449.8 L1145 1480 L1134.8 1463.7 L1140.3 1464.4 L1139.1 1448.5 L1147.7 1469 L1148.4 1474.8 L1138 1452 L1137.9 1454.8 L1139.8 1466.1 L1139.6 1461.7 L1149 1475.5 L1145.3 1480.6 L1144.7 1474.1 L1152.7 1479.9 L1149.3 1475.6 L1154.3 1453.4 L1154.1 1473 L1148.9 1459.1 L1151.1 1461.7 L1153.1 1482.3 L1157.2 1474.5 L1155.2 1481.4 L1150.3 1448.3 L1161.7 1472.2 L1148.4 1472.7 L1160.1 1460.1 L1154.6 1451.7 L1166.1 1440.6 L1164.3 1440.2 L1157.2 1440 L1163.6 1470.4 L1160.7 1465.9 L1153.6 1476.8 L1157 1462.7 L1161.7 1466.1 L1171.5 1461 L1159.2 1448.8 L1161.4 1457.4 L1173.3 1481.7 L1169.8 1473.4 L1176 1445.9 L1162.3 1479.3 L1174.5 1477.3 L1167 1451.9 L1178.5 1442 L1172.5 1451.3 L1163.2 1475.6 L1173.9 1466.6 L1175 1440.5 L1171.1 1439.7 L1169.6 1465.3 L1179 1442.7 L1178 1435.9 L1180.1 1470.6 L1173.8 1475.2 L1174.3 1461.7 L1173 1464.3 L1182.2 1445.7 L1182.5 1447.8 L1176.7 1471.2 L1190 1479.3 L1191 1434.8 L1175.7 1439.6 L1177.3 1463.5 L1190.9 1456.9 L1191.4 1455.9 L1176.3 1456.9 L1194.4 1448.4 L1187.8 1471.5 L1193.4 1453.2 L1182.9 1458.1 L1186.6 1447.7 L1195.7 1435.9 L1185.9 1434.3 L1192.7 1439.7 L1195.5 1475.5 L1201.1 1470 L1203.3 1446.6 L1204.1 1448.9 L1187.7 1478.1 L1190.5 1432.9 L1197.4 1429.3 L1190.1 1443.7 L1189.1 1459.2 L1205 1462 L1204.1 1447.9 L1199.4 1437 L1206.3 1434.5 L1207.8 1455.6 L1203.2 1470.4 L1199.9 1436.1 L1211.1 1426.5 L1199.8 1446.3 L1204.1 1455.8 L1204 1427.6 L1199.7 1465.2 L1196.6 1442.6 L1210.5 1438 L1198.1 1459.2 L1211.7 1478.6 L1213.6 1469.4 L1207.3 1443.9 L1214.6 1458.8 L1210.9 1469.4 L1217.9 1450.6 L1203.8 1433.2 L1204.1 1443.1 L1208.1 1437.4 L1219.8 1470.8 L1213.9 1433.1 L1224.4 1469.5 L1222.8 1477.8 L1211.2 1463.9 L1217.6 1420.8 L1211.2 1452.1 L1227.1 1435.2 L1213.1 1469.9 L1224.7 1424.8 L1215.5 1453.6 L1227.6 1449.4 L1220.4 1442.5 L1226.5 1473.6 L1217.1 1475.6 L1218.9 1428.2 L1229.8 1421.9 L1225.6 1464.2 L1213.1 1426.3 L1220.7 1429.2 L1227.8 1474.8 L1223.5 1454.1 L1214.7 1426.7 L1224.5 1471.8 L1217.9 1423.2 L1225 1424.4 L1236.8 1464.4 L1218.6 1472.8 L1223.1 1437.9 L1237.7 1460.6 L1239.5 1479.8 L1213.5 1466.3 L1216.8 1462.5 L1213.8 1435.1 L1225.6 1427.5 L1235 1465.6 L1237.8 1432.3 L1217.1 1426.3 L1212.9 1438 L1209 1474.7 L1225.9 1477.2 L1218 1434.9 L1240 1436.5 L1222.5 1460.9 L1228.8 1448.4 L1234.6 1456 L1221.9 1425 L1239.5 1437.4 L1229.9 1466.4 L1235.5 1466.3 L1231.6 1437.3 L1224.8 1474.9 L1219.8 1470.2 L1227.6 1458.7 L1229.9 1466.8 L1224.8 1425.5 L1210.3 1450.8 L1210.5 1470.7 L1220.5 1467.8 L1227.3 1470.4 L1226.8 1469.9 L1228.4 1452.2 L1231.2 1461.8 L1224.3 1450.7 L1238.3 1452.5 L1239.3 1439.5 L1207.1 1449.4 L1214.6 1470.9 L1229.3 1449.5 L1218.7 1436.8 L1223.6 1470.9 L1218.5 1485.9 L1205.8 1468.6 L1234.1 1487 L1222.5 1446.1 L1221.9 1449.7 L1205.9 1447.8 L1234.6 1443.5 L1227.5 1446 L1222.3 1474.4 L1235.4 1460.9 L1224.7 1434.8 L1215.1 1458.6 L1228.6 1482.9 L1224.5 1466.6 L1232.9 1472.7 L1217.2 1487.6 L1219.7 1475.6 L1204.6 1478.6 L1225 1481.3 L1230.1 1447.7 L1206 1464.1 L1209 1458.6 L1223.8 1445.6 L1205.6 1473.2 L1209.7 1466.1 L1227.9 1443.3 L1225.2 1450.2 L1229 1471.6 L1220 1468.3 L1229.2 1477.6 L1209.3 1482.2 L1227.8 1473.4 L1226 1453.7 L1200.7 1463.4 L1213.4 1487.2 L1226.5 1488.4 L1200.1 1493.8 L1217.3 1452.8 L1216.3 1442.8 L1228 1489.4 L1201.6 1473.3 L1217.1 1478.7 L1211.7 1496.8 L1227.5 1451.6 L1219 1470.2 L1210.1 1493.3 L1216 1467.7 L1211.2 1466.4 L1205.4 1468.1 L1230.5 1478.9 L1199.6 1468.7 L1225.5 1450.9 L1224.8 1451.4 L1219.6 1450.6 L1226.6 1471.3 L1227.6 1476.5 L1229.2 1503.6 L1226.8 1502.4 L1217.3 1499.5 L1223.4 1471.9 L1215.2 1451.3 L1214.9 1472.8 L1215.9 1504.7 L1209.7 1490 L1211.2 1495.3 L1224.6 1466.5 L1221.3 1503.5 L1220.6 1468.4 L1212.4 1479.2 L1196.9 1480.6 L1204.5 1478 L1196.6 1483.3 L1228.7 1505.6 L1202.6 1504.1 L1196.2 1475.7 L1222.8 1463.8 L1225.5 1495.5 L1207.4 1469.4 L1196.2 1501.5 L1207.1 1470.1 L1200.9 1462.9 L1214.1 1488.9 L1210.4 1477.2 L1204.4 1457.3 L1211 1473.5 L1209.2 1475.7 L1195.4 1474.5 L1215.4 1479.7 L1226.6 1489.6 L1205.1 1493.7 L1220.6 1500.5 L1194.9 1488.5 L1225.6 1505.7 L1203.5 1487 L1210.6 1502.1 L1216.3 1493.1 L1225.6 1502.8 L1224.5 1461.8 L1204.1 1461.1 L1222.6 1488.7 L1192.6 1483.7 L1197.9 1478.7 L1196.7 1510.3 L1224.6 1462.7 L1197.4 1480.1 L1213.1 1508.5 L1204.8 1498.8 L1211.3 1491.2 L1212.2 1517.9 L1192.7 1481 L1193 1504.2 L1214.8 1481.7 L1197.9 1510.3 L1205.7 1505.7 L1194.8 1520.6 L1216.8 1488 L1218.8 1472.8 L1194.5 1505.2 L1217.4 1485.6 L1192.9 1479.1 L1190.4 1512.3 L1211.2 1479.6 L1213.9 1516.2 L1203.1 1494.1 L1190.6 1521.1 L1191.3 1506.8 L1220.5 1479.2 L1219.6 1486.6 L1218.1 1514.2 L1213.7 1516.1 L1205.1 1522.5 L1220.3 1508.3 L1205.9 1495.1 L1209.7 1513.2 L1190.9 1484.8 L1201.7 1522.8 L1204.7 1492 L1199.2 1477.8 L1203.9 1518.3 L1219.8 1523.2 L1214.4 1480.6 L1198.9 1493.3 L1210.5 1527.7 L1202.8 1512.7 L1215.5 1505.8 L1204.7 1506.5 L1189.1 1501.4 L1189.6 1481.7 L1209 1516.6 L1216.4 1513.6 L1202.2 1486.6 L1206.2 1529.3 L1204.9 1523.2 L1210.4 1511.9 L1201.6 1493.5 L1199.9 1509.4 L1215 1490.4 L1216.4 1531.7 L1190.3 1486.7 L1185.6 1529.4 L1194.5 1528 L1204.9 1512.7 L1207.3 1512.1 L1187.2 1499.7 L1199 1503.9 L1199 1508.6 L1185.9 1522.6 L1188.2 1510.2 L1214.1 1535.4 L1189.9 1539.7 L1200.4 1497.1 L1204.9 1496 L1191 1526.3 L1213.5 1519.5 L1188.5 1509.7 L1198.2 1538.8 L1200.5 1513.9 L1214.4 1531.3 L1195.7 1533.1 L1193.3 1532.1 L1186.2 1511.2 L1214.2 1532.1 L1199.9 1539.2 L1205.3 1506.9 L1189.8 1539.9 L1194.4 1538.9 L1197.1 1505.3 L1190.5 1495.3 L1182 1511.1 L1205.7 1510.3 L1195.9 1517.4 L1183.9 1512.4 L1206.7 1536 L1197.6 1499.2 L1193.4 1519.8 L1189.9 1496 L1199.2 1537 L1195.5 1548.3 L1202.3 1508.4 L1197.7 1504.8 L1207.9 1544.3 L1206.4 1526 L1189.7 1509.2 L1201.9 1508.4 L1199.4 1547.3 L1205.7 1521.6 L1193.2 1532 L1186.6 1502.5 L1199.7 1547.3 L1184.4 1534 L1188.2 1514.5 L1194.5 1521.8 L1193.1 1508.2 L1179.4 1531.5 L1205 1514.3 L1192.9 1506.6 L1187.7 1532.1 L1191.4 1531 L1200.9 1545 L1183.3 1550.9 L1205.6 1544.3 L1200.8 1507.9 L1204.8 1513.4 L1193 1513.3 L1203.9 1541.1 L1192.3 1506.6 L1206 1513 L1180.3 1510.9 L1203.8 1548.7 L1182.3 1540.6 L1176.9 1556.4 L1198.6 1552 L1183 1510.4 L1195 1550.4 L1204.3 1513.5 L1183.1 1532.7 L1193.8 1536 L1204.4 1529.3 L1198.7 1546.2 L1202.4 1548.2 L1189 1535.2 L1195.7 1551.8 L1184.5 1521.9 L1184.6 1521.2 L1188.4 1547.3 L1195.6 1542.9 L1178.9 1537.7 L1195.6 1532 L1178.2 1519 L1183.4 1559.1 L1173.7 1521.8 L1195.4 1543.8 L1174.4 1536.1 L1188.7 1550.7 L1198.9 1555.7 L1173.5 1531.3 L1198.4 1561.7 L1193 1524 L1187.4 1516.8 L1181.8 1523.7 L1172.2 1518.7 L1180.6 1529.5 L1175.5 1564.6 L1176.8 1542.3 L1193.8 1528.7 L1180.8 1534 L1170.1 1532.2 L1178 1548.8 L1171.4 1564.5 L1185.6 1548.7 L1180.8 1548.9 L1181.1 1528.5 L1178 1531.4 L1184.1 1551.1 L1172.2 1566.2 L1184.4 1561 L1182.4 1564.1 L1175.8 1541.3 L1180.9 1545.6 L1187.7 1563.5 L1182.1 1564.3 L1183.8 1524 L1172.2 1560 L1193.2 1559.8 L1188.9 1557.9 L1180.4 1556.7 L1179.1 1531 L1193.4 1533.9 L1167.4 1559.9 L1165.4 1558.1 L1170 1537.2 L1188.9 1565.5 L1183.1 1531.3 L1164.9 1536.7 L1191.7 1548.6 L1171.9 1564 L1181.7 1545.9 L1164.9 1547.4 L1173.7 1534.1 L1172.1 1568.8 L1182.2 1560.9 L1185.3 1574.1 L1179.8 1550.4 L1170 1546.8 L1167.3 1558.7 L1179.9 1554.2 L1179.2 1563.5 L1174.2 1550 L1172 1575.1 L1183.4 1556.1 L1161.8 1544.4 L1187.2 1546 L1172.9 1541.1 L1179.9 1574.9 L1169.3 1532.5 L1173.6 1574.9 L1172.7 1544.7 L1184.5 1544.5 L1178 1570.9 L1172.4 1573.1 L1182.1 1558.1 L1161 1577.8 L1167.8 1548.4 L1179.6 1544.4 L1180.9 1561.5 L1183 1541.9 L1162.5 1569.8 L1179.4 1566.4 L1169.3 1558.4 L1181.6 1540.5 L1158.5 1569 L1180.8 1559.4 L1178 1577.7 L1181.1 1555 L1167.9 1536.5 L1171.9 1570.7 L1163.8 1543.1 L1158.6 1539.6 L1171.7 1541 L1157 1545.3 L1157.5 1578.9 L1167.7 1560.7 L1163.8 1561.7 L1161.1 1553.8 L1164.7 1582 L1173.7 1557.7 L1169.1 1549.6 L1177 1562.2 L1159.4 1549.6 L1165.5 1566.3 L1158.2 1569.5 L1160.6 1552.4 L1165.5 1581.9 L1165.2 1553.1 L1172.2 1583.1 L1166.4 1564.7 L1174.3 1570.3 L1169.4 1541.4 L1164.4 1541 L1171.6 1544.5 L1153.3 1548.3 L1164 1558.7 L1163.6 1582.6 L1166.5 1540.5 L1162.5 1554.3 L1167.4 1549.5 L1164.8 1559.5 L1157.1 1556.8 L1167.2 1543.5 L1170.1 1551.1 L1157.7 1573.6 L1152.9 1544.8 L1173.3 1545.2 L1158.3 1556.8 L1153.1 1577.5 L1166.8 1551.7 L1152.2 1578.8 L1150.8 1584.4 L1166.6 1558 L1168 1576.7 L1166.5 1578.2 L1151.9 1584.3 L1159.1 1585.4 L1157.2 1558.6 L1169.3 1572.3 L1162.7 1565.5 L1153 1551.9 L1159.9 1551.4 L1162.3 1576.7 L1159 1580.1 L1161.4 1561.5 L1150.2 1553 L1153.6 1557.8 L1166.1 1544.6 L1147.4 1580 L1153.2 1567 L1151.3 1568.5 L1151.7 1546 L1165.2 1570.3 L1151.9 1562.6 L1152 1583.3 L1164 1563 L1155.2 1560.2 L1161.8 1550.3 L1147.4 1554.2 L1161.4 1572.3 L1154 1563.7 L1165.7 1546.7 L1161.7 1565.6 L1149 1584.5 L1154.5 1554.6 L1158.6 1563.1 L1146.2 1586 L1154.3 1584.1 L1157.9 1553.9 L1154.7 1579.6 L1148.5 1552.4 L1159.3 1571.6 L1153.2 1582.9 L1144.4 1548.2 L1163.7 1560.4 L1141.6 1589.2 L1162.2 1555 L1156.1 1549.9 L1158.5 1556.8 L1143.1 1571.2 L1145.6 1586.2 L1147.7 1558.4 L1151.7 1589 L1147.2 1554.8 L1139.9 1563.7 L1154.4 1587 L1161.6 1584.6 L1150.9 1590.5 L1155.8 1557.9 L1146.7 1584.2 L1147.4 1563.4 L1156 1560.1 L1146 1558.7 L1148.6 1564.2 L1158.2 1566.3 L1159.6 1569.2 L1144 1574.4 L1138.7 1585 L1160.9 1563.9 L1147.5 1552 L1160.5 1560.7 L1154.2 1551.6 L1148.5 1591.4 L1154.3 1579 L1139.7 1565.9 L1153.1 1590.1 L1151.3 1557.5 L1142.3 1569.2 L1143.8 1575.4 L1139.7 1582.8 L1139.7 1581.3 L1159.6 1555.8 L1145.2 1593.4 L1142.2 1565.1 L1157.3 1587.9 L1144.4 1575 L1149.3 1567.3 L1136.4 1580.6 L1150.2 1574.5 L1144.2 1567.3 L1141.8 1568.1 L1148.8 1583.2 L1132.8 1591.2 L1137 1556.1 L1147.9 1570.7 L1150.1 1568 L1145.9 1595 L1143.6 1579.4 L1135.4 1595.5 L1138.1 1593.8 L1148.4 1578.4 L1134.1 1587.9 L1154.5 1590.3 L1150.9 1588.9 L1134.4 1565.2 L1154 1558.2 L1146.2 1591 L1130.8 1588 L1138 1587.3 L1144.6 1587.9 L1150.1 1561.9 L1144.8 1591.5 L1155.4 1585.4 L1133.8 1583.1 L1131.2 1582.6 L1141.5 1590.9 L1141.7 1596.3 L1149.9 1598.7 L1135.3 1593.2 L1143.3 1573.3 L1144.1 1561.5 L1135 1565.6 L1135.4 1591.9 L1153.2 1584.3 L1134.9 1593.5 L1146.8 1573.6 L1149.4 1583.6 L1138.7 1596.7 L1143.5 1565.5 L1152.4 1566 L1155.4 1568.8 L1128 1578.7 L1150.2 1575.7 L1145.3 1590.6 L1145.5 1583.9 L1147.8 1561.9 L1152.9 1595.6 L1155.3 1568.4 L1149.9 1570.4 L1152.7 1565.4 L1144.3 1566.2 L1127.7 1584.2 L1129.9 1590.2 L1144.9 1602.2 L1153.9 1595.5 L1149 1583.6 L1147 1595.1 L1129.5 1567.9 L1128 1566.2 L1134.9 1576 L1136.1 1570.6 L1135.3 1578.7 L1142.9 1595.1 L1148.6 1581.4 L1139.2 1569.9 L1129.7 1575.9 L1130.5 1599.6 L1140.1 1571.7 L1139.8 1574.6 L1146.9 1568.3 L1125.4 1575 L1128.8 1572.7 L1133.6 1604.2 L1143.2 1587.1 L1153.9 1593 L1127.1 1596.3 L1138.9 1606.9 L1135 1605.7 L1138.6 1589.2 L1147.4 1572.6 L1131.6 1607.8 L1140.2 1574.3 L1142.8 1575.8 L1138 1600.5 L1140.1 1599.2 L1134.4 1598.7 L1143.2 1598.7 L1150 1584.1 L1146.9 1588.1 L1130.8 1603.1 L1146.1 1595.8 L1137.5 1603.5 L1134.5 1583.4 L1125.1 1593.2 L1150.9 1611.7 L1138.5 1578 L1152 1575.8 L1127.8 1606.4 L1150.5 1585.3 L1152.3 1588.1 L1133.4 1601.6 L1128.6 1594.4 L1127.2 1603.3 L1150.2 1583.5 L1149.9 1588.5 L1152 1590.3 L1133.6 1587.9 L1138.8 1587.1 L1130.7 1584.3 L1128.2 1613.7 L1130.8 1597.9 L1144.2 1587.3 L1151.4 1603.2 L1128.5 1612.1 L1142.8 1603.7 L1128.7 1591.8 L1136.2 1597.8 L1125.2 1609.4 L1127.7 1606.9 L1140.6 1606.5 L1141.1 1612.8 L1152 1618.2 L1139.8 1582.6 L1136.4 1616.1 L1147.8 1586.8 L1137.7 1605.9 L1144.5 1587.8 L1150.1 1607.1 L1148.4 1599.6 L1147.8 1591.8 L1146.3 1612.3 L1128.7 1609.2 L1136.3 1612 L1151.7 1605.2 L1138.3 1590.6 L1143.1 1591.9 L1128.8 1611.3 L1137.8 1598.5 L1136.7 1618.6 L1151.7 1600.4 L1138.6 1616.7 L1149 1603.9 L1134.6 1616 L1143.2 1611.5 L1138.3 1596.3 L1133.7 1589.8 L1137.6 1610.9 L1140 1592.3 L1149.7 1589.6 L1131.4 1605.6 L1138.6 1607.8 L1126.4 1609.4 L1152.7 1606.2 L1148.9 1627.1 L1145.2 1600.9 L1134 1623.8 L1140.4 1601.8 L1143.8 1607.8 L1143 1597 L1126.1 1593.5 L1131.9 1593.3 L1134.9 1602.9 L1137.5 1601.3 L1138.1 1593.9 L1134.2 1607.4 L1135.2 1621.9 L1139 1604.2 L1153.2 1605.3 L1141.3 1619.5 L1141.4 1608.5 L1134.7 1595.3 L1130.8 1607.9 L1146.2 1631.6 L1153.3 1605.4 L1128.1 1613.8 L1136.9 1621.4 L1138.7 1629.4 L1148.3 1625.4 L1137.8 1619.6 L1129.9 1635.5 L1149.3 1603.7 L1125.7 1633.9 L1142.2 1599.7 L1150.7 1613.7 L1139.1 1610.9 L1130.9 1635.4 L1144.1 1630.5 L1144.7 1619.3 L1137.7 1620.8 L1142.3 1610.1 L1151.4 1600.4 L1129.7 1623.9 L1125.3 1618.1 L1130.6 1601.9 L1152.5 1637.1 L1146.6 1617.3 L1141.2 1632.2 L1128.3 1636.5 L1132.6 1608.5 L1146.5 1635.9 L1145.5 1613.3 L1151.5 1626.9 L1141.6 1622.7 L1131.1 1606.7 L1151.9 1616.7 L1145.8 1611.2 L1149.9 1613.3 L1144.4 1614 L1149.1 1639.5 L1150.1 1644.8 L1133.1 1641.6 L1142 1609 L1135.6 1619.3 L1125 1636.1 L1140.3 1621.2 L1133.4 1628.9 L1135.6 1630.5 L1146.3 1644.3 L1149 1621.9 L1131.5 1627.1 L1142 1614.9 L1128.9 1613.9 L1138.1 1633.5 L1134.8 1637.9 L1145.8 1651.1 L1141.3 1637.7 L1127.4 1636 L1149.3 1627.7 L1153.9 1630.5 L1133.8 1641.1 L1140.7 1643.2 L1137.1 1616.3 L1140.4 1631.9 L1126 1639.5 L1131.6 1647.8 L1140.9 1651.5 L1143.1 1628.7 L1143 1617.9 L1142.9 1621 L1129.9 1625.3 L1127.1 1647.6 L1137.4 1650.1 L1126.9 1646.4 L1149.7 1635.5 L1148.4 1658.2 L1137.6 1640.2 L1148.2 1633.4 L1154.2 1648 L1138.8 1644.8 L1141.7 1627.3 L1138.9 1650.7 L1149.5 1652 L1142.1 1652 L1128.3 1635.6 L1155.4 1638.7 L1156.4 1641.1 L1145 1656.7 L1149.9 1634.4 L1149.2 1654 L1154.5 1638.9 L1150.5 1637.5 L1128.5 1636.7 L1137.1 1627.1 L1147 1653 L1155.6 1635.3 L1131.5 1653 L1142.3 1646.2 L1138.6 1664.2 L1139.3 1636.4 L1140 1638.9 L1135.1 1644.2 L1154.1 1655.8 L1130.4 1634.1 L1140.2 1658.8 L1130.9 1663.7 L1148.5 1638.9 L1137.5 1634.4 L1140.5 1641.2 L1149.2 1657.5 L1155 1663.1 L1151.3 1648.1 L1140.5 1646.4 L1144.1 1650.3 L1135.5 1666 L1138.6 1663.9 L1131.9 1635.2 L1146.3 1636.5 L1151 1634.9 L1145 1645.1 L1139.6 1648.8 L1131.8 1668.1 L1140.2 1665.2 L1148.7 1673.8 L1143.4 1664.1 L1152.7 1654.5 L1132.5 1659 L1142.2 1640.3 L1146.5 1654.1 L1155.3 1640.3 L1140.5 1667.7 L1131.5 1668.4 L1153.3 1671.5 L1153.5 1664.8 L1133.6 1655.4 L1152.7 1667.4 L1136 1654.5 L1153.1 1642.2 L1156.3 1668.1 L1139.7 1667.2 L1136.2 1679.7 L1143.8 1665.3 L1141.8 1665.7 L1141.4 1680.1 L1147.9 1679.4 L1142.5 1661.2 L1159.8 1655.7 L1159 1673.9 L1144.7 1652.5 L1141 1662.5 L1139.7 1668.4 L1150.5 1676.9 L1145.3 1655.2 L1155.3 1648.2 L1153.2 1651.1 L1147.5 1666.8 L1148.3 1647.1 L1144.7 1683.5 L1158.9 1657.2 L1147.8 1649.3 L1146.3 1669.9 L1152.9 1686.1 L1138.1 1683 L1132.6 1669.8 L1145.1 1675.2 L1158.4 1662.9 L1152.9 1670.5 L1156.1 1689.7 L1142.8 1664.7 L1155.4 1689.3 L1140.8 1674.8 L1143.3 1673.5 L1139 1684.1 L1146 1677.4 L1143.6 1681.6 L1133.4 1665.3 L1157.4 1673.6 L1160.2 1684.8 L1144.1 1680.9 L1155.8 1693.6 L1136.6 1669.6 L1149.5 1692.4 L1156.3 1665.1 L1152.5 1694.2 L1153.8 1668 L1155.9 1675.5 L1153.5 1668.1 L1154.4 1681.7 L1151.5 1679.2 L1145.6 1680.6 L1146.7 1691.3 L1151.5 1692.2 L1155.4 1685.1 L1151 1666.4 L1134.6 1698.7 L1151.4 1686.6 L1155.4 1679.4 L1136.9 1670 L1143.1 1693.7 L1146 1659.8 L1149.4 1662.3 L1141.9 1682.3 L1138 1667.3 L1162.3 1684.6 L1150.9 1675.9 L1144.9 1688 L1141.5 1700.9 L1144.3 1679.1 L1140.5 1671.3 L1157.7 1682.1 L1136.8 1677.3 L1142.6 1696.2 L1165.1 1686 L1139 1689.2 L1140.1 1671.7 L1152.4 1693.2 L1136 1692.7 L1148.3 1698.8 L1150.3 1701.9 L1148.2 1679.7 L1136 1706.3 L1159.4 1684.3 L1161.1 1705.1 L1145 1698.7 L1155.7 1683.4 L1136.6 1701.8 L1145.7 1706.2 L1147.7 1699 L1162.7 1694.1 L1142.3 1675.9 L1166 1667.8 L1147.6 1703.1 L1152.8 1676.9 L1142.4 1696.4 L1164.7 1691.4 L1140.8 1694.1 L1155.9 1692.5 L1158.3 1701.3 L1158.3 1700.8 L1138.8 1682.1 L1143.3 1701.2 L1152.4 1680.7 L1147.4 1681.2 L1144.5 1697.4 L1146.9 1692.4 L1142.8 1707.8 L1159.4 1696.1 L1139.1 1679.9 L1153.7 1690.3 L1138.5 1690.5 L1141 1704.8 L1164.5 1701.5 L1165.8 1680 L1149.1 1711.9 L1143.4 1713 L1158.3 1701 L1154.8 1676 L1144.6 1698.6 L1155.2 1683.1 L1147.5 1699.1 L1153.2 1698.7 L1153.7 1680.2 L1139.3 1694.2 L1146.6 1706 L1159.5 1682 L1153.6 1705.4 L1142.3 1709.6 L1161 1698.7 L1166.1 1688.9 L1152.9 1703.8 L1143 1678 L1162 1681.5 L1155.7 1704.5 L1163.5 1675.6 L1137.7 1689.8 L1154.8 1686.7 L1159.1 1713 L1138.8 1711.4 L1145 1697.1 L1156.8 1700.8 L1139.7 1678.3 L1143.8 1680.8 L1156.5 1696.5 L1162.9 1706.4 L1148 1710.8 L1144 1687.9 L1150.6 1703.4 L1145.3 1714.8 L1151.3 1686.7 L1144.7 1701.9 L1158.5 1706.9 L1150.2 1703.6 L1154 1703 L1148.5 1717.6 L1149.8 1695.7 L1158.8 1706 L1150.7 1707 L1136.9 1717.8 L1150 1706.3 L1137.9 1682.1 L1147.5 1713.3 L1156.9 1699.5 L1151.9 1683.9 L1137.3 1703.7 L1140.9 1719.1 L1151.6 1682.4 L1142.1 1710.7 L1149 1685.2 L1144 1708.2 L1146.4 1702.5 L1151.1 1682.2 L1146.3 1709.8 L1138.5 1713.3 L1155.7 1717.7 L1138.9 1684.1 L1146.1 1685.7 L1146.6 1700.9 L1152 1694.1 L1145 1705.4 L1148.7 1708.7 L1138.6 1691.5 L1142.1 1699.2 L1139.8 1693.8 L1146 1699.7 L1145.6 1682.3 L1151.2 1705.2 L1152.8 1705.5 L1143.5 1718.2 L1144 1695.2 L1151.5 1704.2 L1135.5 1718.3 L1137.9 1719.7 L1146.8 1692.7 L1138.5 1699.3 L1143.1 1689.3 L1151 1718.2 L1141.3 1710.7 L1138.5 1703.4 L1139.7 1694.6 L1145.4 1715.8 L1151.4 1698.7 L1146.4 1686.8 L1137.7 1682.7 L1147.9 1715.2 L1147.1 1698.9 L1143.7 1702.2 L1134.2 1695.1 L1149.9 1684.8 L1140.1 1713.1 L1133.9 1714.8 L1133.5 1718.1 L1146.8 1695.9 L1151.9 1710.7 L1145.6 1710.8 L1144 1702.6 L1137 1709.3 L1144.6 1720.2 L1145.3 1709.2 L1145.6 1699 L1129.3 1707.2 L1151.1 1691.7 L1131.9 1695.6 L1134 1707.2 L1149.2 1707.9 L1150.7 1716.6 L1139 1689.2 L1149.8 1719.6 L1138 1696.9 L1146.1 1691.2 L1146.1 1702.3 L1130.8 1703.6 L1138.1 1702.3 L1144.3 1711.2 L1147.4 1714.4 L1147.5 1715.6 L1131.4 1711.6 L1130.1 1697.5 L1146.2 1707.1 L1131.1 1717.1 L1133.2 1689.3 L1131.4 1722.7 L1125.4 1727.1 L1131.5 1696.1 L1128.8 1716.9 L1132.9 1719.4 L1144.8 1698.8 L1129.9 1717.8 L1122.2 1710.5 L1129 1704.2 L1148 1726.4 L1127 1715 L1143.2 1691.7 L1143.3 1692 L1146.9 1721.8 L1131.3 1727.4 L1125.2 1709.7 L1124.8 1725.5 L1125.3 1712.9 L1127.5 1730.9 L1142 1694.4 L1131 1718.7 L1122 1726.4 L1142.7 1725.6 L1121.4 1716.1 L1139.9 1724.6 L1133.6 1699.7 L1144.5 1703.5 L1142 1724.5 L1137.5 1713.8 L1141.5 1707.5 L1132.9 1705.3 L1120.9 1713.5 L1134.9 1705.5 L1122 1725.4 L1130.7 1705.7 L1121.7 1703.5 L1131.4 1698.7 L1130.1 1722.3 L1124.9 1701.7 L1122.8 1720.7 L1140.4 1704.2 L1120.7 1703.6 L1122.2 1718.7 L1137.7 1706.8 L1129.5 1714.8 L1131.5 1721.2 L1129 1703.1 L1137.1 1714.8 L1126.6 1708.6 L1128.4 1706.6 L1124.1 1714.1 L1135.5 1727.5 L1116.4 1709.1 L1130.1 1732.8 L1117.4 1706.9 L1118.9 1717.4 L1129.4 1731.4 L1115.3 1724.6 L1127.6 1736 L1124.9 1727.6 L1122.8 1712.3 L1130.7 1727.6 L1131.4 1718.9 L1116.9 1727.9 L1118.3 1715.1 L1122.9 1722.6 L1113.4 1722.5 L1113.5 1738.5 L1117.1 1710 L1121.8 1738.1 L1115.5 1724.3 L1122.7 1709.8 L1118.5 1735.6 L1112.8 1722.1 L1119.2 1727 L1111.9 1719.5 L1115.3 1718.4 L1118 1706 L1124.4 1710.3 L1118.6 1721 L1108.7 1707.5 L1120.7 1715.3 L1109.4 1705.3 L1120.6 1734.2 L1107.2 1707 L1118.2 1731.4 L1119.2 1709.9 L1110.7 1738.7 L1111.9 1731.2 L1114.8 1704.9 L1116.7 1727.7 L1106.5 1720.1 L1111.3 1726.4 L1104.4 1727.2 L1105.8 1713.7 L1107.6 1726.2 L1111 1719 L1108.3 1733.4 L1103.9 1737.4 L1105 1709.6 L1101.5 1708.8 L1107.2 1722.4 L1102.6 1732.7 L1108.5 1728.6 L1101.7 1726.9 L1103.8 1717.4 L1103.6 1720.2 L1109.6 1717.9 L1105.9 1734.7 L1104.4 1732.1 L1095.2 1727.5 L1096 1726.5 L1097.1 1729.7 L1101.4 1717.2 L1101 1726.2 L1097.8 1722.4 L1096.1 1711.6 L1093.2 1717.9 L1094.1 1715.7 L1099.5 1730.7 L1093.2 1738.9 L1100.3 1708.6 L1099.8 1740.6 L1092.5 1715.1 L1100.7 1738.9 L1097.4 1739.9 L1097.9 1716.4 L1096.1 1736.8 L1096.5 1737.9 L1089.4 1714.8 L1086.6 1709 L1090.9 1721.7 L1086.5 1741.4 L1088.4 1741.1 L1094 1728.3 L1088.8 1713.1 L1080.1 1738.8 L1091.2 1736.1 L1087.4 1740.9 L1080.5 1729.5 L1080.8 1728.2 L1076.6 1741.8 L1082 1714.6 L1087.7 1714.8 L1086.3 1719.6 L1081.8 1725.7 L1085.5 1736.5 L1083.8 1724.7 L1083.4 1725 L1072.7 1720.4 L1071.7 1720.1 L1077.7 1740.8 L1078.9 1716 L1074.5 1733.1 L1077.3 1715 L1070.1 1735.9 L1073.1 1709 L1071.4 1720.1 L1075 1726.8 L1071 1740.3 L1073.8 1728.9 L1074.2 1729.6 L1063.1 1727.6 L1068.9 1741.8 L1060.9 1717.2 L1068.5 1719 L1066.7 1728.3 L1066 1709.9 L1062.6 1728.8 L1062.7 1741.6 L1059.7 1738.4 L1057.1 1711.5 L1064.1 1726.9 L1060.5 1736 L1064.4 1738.8 L1055.2 1726.9 L1052.3 1742.1 L1049.4 1727.7 L1049.5 1734.2 L1047.8 1717.8 L1052.7 1720.8 L1057.6 1730.2 L1049.1 1712 L1052.6 1714.9 L1053.7 1714.9 L1049.1 1737.9 L1045.8 1726.9 L1051.7 1719.4 L1053 1740.3 L1047 1714.2 L1041.2 1737.2 L1049.1 1725.2 L1039.3 1724.8 L1038.5 1716.1 L1045.9 1739.3 L1039.4 1713.2 L1036.4 1732.5 L1042.7 1738.7 L1042.1 1720.2 L1034.7 1722.1 L1039.3 1714.7 L1037.9 1712.8 L1037.8 1717.3 L1036.3 1718.1 L1037.1 1742.6 L1038.9 1744.6 L1030 1731.6 L1034.8 1739.4 L1030 1717.8 L1027.3 1719.4 L1029.3 1746.8 L1029.6 1734.4 L1034.4 1718.7 L1029.9 1744.2 L1028.1 1723.3 L1024.6 1739.2 L1030.1 1738.5 L1027.7 1744.8 L1019.1 1728.5 L1028.3 1735.2 L1017 1747 L1022.2 1724.7 L1021.7 1733.6 L1022.7 1744.1 L1013.9 1740.9 L1014.7 1725.2 L1016 1716.8 L1015.7 1724.3 L1010.4 1716.5 L1010.4 1736.5 L1012.3 1728 L1017.2 1740 L1017.9 1731.2 L1009.6 1732.1 L1018.5 1731.8 L1005.7 1726.2 L1005.2 1725.2 L1015.4 1750.8 L1013.8 1745.7 L1005.4 1751.3 L1005.4 1746.3 L1001.4 1745.1 L1003.3 1747.2 L1011.9 1748.9 L1008.2 1747.7 L1004 1721.6 L996.6 1716.3 L1001.6 1747.6 L1003.1 1717.2 L1002.6 1721.7 L1001.7 1738.5 L995.7 1743.6 L1007 1721.9 L1006.3 1726.8 L992.2 1741.1 L996.2 1719.3 L999 1748.7 L999.8 1715.9 L1001.9 1737.7 L992.5 1735.7 L998.6 1731.7 L998.8 1716.6 L986.1 1754.4 L992.1 1724.5 L984.9 1721.3 L995.4 1741.3 L985.8 1716.5 L985.5 1747.5 L984.9 1751.7 L985.2 1735.2 L979.2 1720.4 L980.8 1756.8 L991.1 1719.6 L980.3 1744.6 L989.7 1728.4 L973.8 1750.5 L986.3 1746.9 L973.9 1728.3 L987.3 1734 L985.8 1731.8 L982.4 1717.5 L981.1 1741.3 L975.9 1735.8 L976.9 1718.7 L968.8 1724.2 L980.3 1744 L965.6 1731.5 L970.8 1734.2 L966.2 1736.2 L966.9 1751.5 L966.9 1736.5 L973.5 1720.4 L962.4 1741.8 L970 1757 L974.4 1742.8 L974.1 1755.7 L965 1724.1 L971.2 1748.7 L964.8 1735.9 L970.7 1762.5 L968.5 1742 L959.5 1729.1 L955.9 1756 L955.4 1753.7 L967.5 1744.3 L959.2 1750.1 L953.2 1735.3 L953.8 1736 L962.1 1734.3 L958.8 1732.9 L960.4 1759.8 L947.9 1761.7 L953.1 1742.4 L944.3 1757.3 L949.4 1722.4 L945 1745.2 L956.2 1733.1 L954.2 1738.2 L950 1749.3 L948.3 1722.7 L945.4 1735.2 L950.3 1722.4 L940.3 1720.9 L939.7 1739.4 L947.5 1749.6 L945.4 1725.9 L952.7 1752.1 L945 1736.4 L937.6 1749.7 L949 1739.7 L948.4 1724 L949.7 1757.9 L946.3 1738.2 L941.5 1762.1 L938.2 1771.2 L939.4 1727.6 L927.9 1754 L929.4 1734.9 L930.5 1766.9 L928.2 1738.1 L926.1 1769.5 L936.1 1729.9 L933.5 1723.6 L926.1 1722.6 L929.2 1767.1 L929.1 1756.1 L932.4 1765.3 L939.6 1730.3 L937.6 1752.5 L924.3 1736.1 L929 1730.3 L933.8 1749.8 L921.5 1753.7 L924.6 1772.9 L927.3 1724.5 L916.4 1756.1 L920.7 1747.2 L920.9 1726.9 L925.9 1774.1 L932.9 1732.3 L929.4 1735.5 L920.4 1776.4 L922.7 1749.4 L917.2 1739.1 L924.2 1773.3 L921.1 1740.2 L921.9 1754.7 L920.1 1757.9 L922.9 1741.7 L923.1 1735.5 L905.3 1763.1 L904.1 1778 L918.6 1778.9 L917.1 1730.1 L905.9 1730.5 L923.1 1743.5 L906.8 1765.1 L920.3 1728.6 L916.5 1775.1 L916.8 1748.1 L900.6 1771.5 L921.5 1743.5 L919.2 1736 L901.2 1726 L905.5 1759.1 L914 1767.1 L904.8 1741.3 L909.5 1751.8 L910.3 1761.5 L899.2 1751.3 L913.7 1771.6 L904.8 1746.1 L903.7 1768.3 L915.3 1730.1 L896.6 1734.2 L910.8 1726.9 L902.5 1759.2 L912.7 1782.9 L902.6 1772.2 L895.4 1746.3 L906.6 1763.9 L905.7 1740.7 L894.5 1765 L891.8 1726.3 L889.8 1755.5 L908.6 1747.5 L887.6 1760.7 L887.6 1744.6 L898.7 1769.7 L890.4 1757.7 L896.7 1748.3 L897.1 1760.5 L908.4 1734.3 L888.8 1773.6 L896.4 1781.8 L906.4 1736.2 L891.2 1781.4 L886.5 1788.5 L892.7 1731.3 L893.7 1776.7 L891.8 1767.1 L884.8 1744.5 L886.6 1748.3 L898.4 1734.3 L886.1 1770 L887.6 1774.6 L888.5 1774 L885 1782.6 L890.8 1765.5 L893.2 1734.1 L888.8 1755.3 L888.7 1761.3 L901 1745.2 L898.6 1770.2 L883 1763.2 L880.9 1730.1 L892.3 1730.2 L898.7 1784 L882.2 1755.1 L885.8 1765.7 L898 1735.5 L893.5 1752.2 L884.1 1742.9 L885.9 1783.7 L894.7 1787.9 L889.2 1766.7 L889.1 1733.1 L884.6 1734.2 L897.8 1774.6 L892.7 1777.4 L887.4 1788.6 L897.3 1734.3 L884.2 1763.2 L879.7 1734 L890.1 1731.4 L877.8 1780.1 L882.2 1742 L891.6 1745.1 L895 1742.6 L889.3 1728.7 L882.1 1771.1 L888.3 1780.8 L891.1 1735.9 L873.4 1779.2 L875.7 1781.2 L881.9 1752.3 L886 1784.3 L878.8 1729.1 L877.4 1758.7 L886.4 1728.8 L888.4 1781.2 L877.1 1732.1 L900.9 1740.9 L872.4 1752.8 L876.6 1779.2Z" fill="none" stroke="#f7dcdc" stroke-width="1.5" stroke-linejoin="round" filter="url(#dil)"/>
<path d="M887.3 1756.8 C887.9 1754.5 897.4 1747.5 902.9 1742.9 C908.4 1738.3 914.5 1733.1 920.2 1729 C926 1725 933 1722.1 937.6 1718.6 C942.2 1715.1 944.8 1712.8 948 1708.2 C951.2 1703.6 954.4 1697.2 956.7 1690.9 C959 1684.5 960.3 1676.4 961.9 1670 C963.4 1663.7 964 1657.4 966 1652.7 C968.1 1648 970.4 1645.2 974 1641.6 C977.7 1638 983.8 1634.6 987.9 1631.2 C991.9 1627.7 995.7 1624.7 998.3 1620.8 C1000.9 1616.8 1001.9 1613.3 1003.5 1607.6 C1005.1 1601.9 1007.3 1593.1 1008 1586.8 C1008.8 1580.4 1008.5 1575.8 1008 1569.4 C1007.6 1563.1 1006.1 1556.1 1005.2 1548.6 C1004.4 1541.1 1003.8 1532.4 1002.8 1524.3 C1001.8 1516.2 1000.1 1505.7 999.3 1500 C998.6 1494.4 997.3 1493.2 998.3 1490.3 C999.3 1487.4 995.1 1485.4 1005.2 1482.7 C1015.4 1480 1038.5 1476.9 1059 1474 C1079.6 1471.1 1108.2 1468 1128.4 1465.3 C1148.7 1462.6 1164.6 1460.3 1180.5 1457.7 C1196.4 1455.1 1217.5 1448.4 1223.8 1449.7 C1230.2 1451 1221 1459.3 1218.6 1465.3 C1216.3 1471.4 1212.9 1478.6 1210 1486.1 C1207.1 1493.7 1204.5 1502.6 1201.3 1510.4 C1198.1 1518.2 1194.9 1526 1190.9 1533 C1186.8 1539.9 1181.6 1547 1177 1552.1 C1172.4 1557.1 1167.7 1560 1163.1 1563.2 C1158.5 1566.4 1152.8 1568.1 1149.2 1571.2 C1145.7 1574.2 1143.5 1577.2 1141.6 1581.6 C1139.8 1585.9 1138.6 1591.1 1138.1 1597.2 C1137.7 1603.2 1138.3 1610.5 1138.8 1618 C1139.4 1625.5 1140.5 1634.2 1141.6 1642.3 C1142.8 1650.4 1144.2 1659.1 1145.8 1666.6 C1147.3 1674.1 1150.3 1682.1 1151 1687.4 C1151.7 1692.7 1152 1695.5 1149.9 1698.5 C1147.9 1701.5 1143 1702.1 1138.8 1705.4 C1134.7 1708.8 1132.5 1715.6 1125 1718.6 C1117.4 1721.7 1107.6 1722.1 1093.7 1723.8 C1079.8 1725.6 1059 1727 1041.7 1729 C1024.3 1731.1 1007 1733.1 989.6 1736 C972.3 1738.9 952.6 1742.9 937.6 1746.4 C922.5 1749.8 907.8 1755.1 899.4 1756.8 C891 1758.5 886.7 1759.1 887.3 1756.8Z" fill="none" stroke="#e8948d" stroke-width="6.5" stroke-linejoin="round"/>
<line x1="918.6" y1="1613.6" x2="1205.8" y2="1613.6" stroke="#7aaadd" stroke-width="7" stroke-linecap="round"/>
</g>
<g font-family="'Liberation Sans', Arial, sans-serif">
<text x="1347.8" y="1356.7" font-size="28">f)</text>
<rect x="1478.6" y="1405" width="516.3" height="417.2" fill="none" stroke="#000" stroke-width="2.5"/>
<line x1="1470.6" y1="1405" x2="1478.6" y2="1405" stroke="#000" stroke-width="2.5"/>
<text x="1464.6" y="1414.8" text-anchor="end" font-size="28">0.2</text>
<line x1="1470.6" y1="1509.3" x2="1478.6" y2="1509.3" stroke="#000" stroke-width="2.5"/>
<text x="1464.6" y="1519.1" text-anchor="end" font-size="28">0.1</text>
<line x1="1470.6" y1="1613.6" x2="1478.6" y2="1613.6" stroke="#000" stroke-width="2.5"/>
<text x="1464.6" y="1623.4" text-anchor="end" font-size="28">0.0</text>
<line x1="1470.6" y1="1717.9" x2="1478.6" y2="1717.9" stroke="#000" stroke-width="2.5"/>
<text x="1464.6" y="1727.7" text-anchor="end" font-size="28">-0.1</text>
<line x1="1470.6" y1="1822.2" x2="1478.6" y2="1822.2" stroke="#000" stroke-width="2.5"/>
<text x="1464.6" y="1832" text-anchor="end" font-size="28">-0.2</text>
<line x1="1474.1" y1="1457.2" x2="1478.6" y2="1457.2" stroke="#000" stroke-width="2.5"/>
<line x1="1474.1" y1="1561.5" x2="1478.6" y2="1561.5" stroke="#000" stroke-width="2.5"/>
<line x1="1474.1" y1="1665.8" x2="1478.6" y2="1665.8" stroke="#000" stroke-width="2.5"/>
<line x1="1474.1" y1="1770" x2="1478.6" y2="1770" stroke="#000" stroke-width="2.5"/>
<line x1="1575.4" y1="1822.2" x2="1575.4" y2="1830.2" stroke="#000" stroke-width="2.5"/>
<text x="1575.4" y="1858" text-anchor="middle" font-size="28">-0.5</text>
<line x1="1736.8" y1="1822.2" x2="1736.8" y2="1830.2" stroke="#000" stroke-width="2.5"/>
<text x="1736.8" y="1858" text-anchor="middle" font-size="28">0.0</text>
<line x1="1898.1" y1="1822.2" x2="1898.1" y2="1830.2" stroke="#000" stroke-width="2.5"/>
<text x="1898.1" y="1858" text-anchor="middle" font-size="28">0.5</text>
<line x1="1494.7" y1="1822.2" x2="1494.7" y2="1826.7" stroke="#000" stroke-width="2.5"/>
<line x1="1656.1" y1="1822.2" x2="1656.1" y2="1826.7" stroke="#000" stroke-width="2.5"/>
<line x1="1817.4" y1="1822.2" x2="1817.4" y2="1826.7" stroke="#000" stroke-width="2.5"/>
<line x1="1978.8" y1="1822.2" x2="1978.8" y2="1826.7" stroke="#000" stroke-width="2.5"/>
<text x="1737.2" y="1908" text-anchor="middle" font-size="36"><tspan font-style="italic">U</tspan><tspan font-style="italic" font-size="23" dy="8">cell</tspan><tspan dy="-8"> (kV)</tspan></text>
<text transform="translate(1389.4 1593.6) rotate(-90)" text-anchor="middle" font-size="35"><tspan font-style="italic">Q</tspan> (μC·cm<tspan font-size="24" dy="-14">-2</tspan><tspan dy="14">)</tspan></text>
<line x1="1487.1" y1="1430" x2="1551.1" y2="1430" stroke="#7aaadd" stroke-width="7"/>
<line x1="1487.1" y1="1461" x2="1551.1" y2="1461" stroke="#e8968f" stroke-width="7"/>
<text x="1553.6" y="1439.3" font-size="26.5">DBD</text>
<text x="1553.6" y="1470" font-size="26.5">FBD</text>
<path d="M1638.3 1572.4 L1640.2 1573.5 L1638.5 1569.1 L1638.7 1568.9 L1641.3 1568.1 L1640.8 1568.6 L1640.1 1570.1 L1642.6 1571.2 L1639.7 1568.8 L1640.5 1572.9 L1643.5 1572.3 L1643.9 1571.8 L1644.8 1572.1 L1642.4 1572.4 L1643.7 1571.7 L1644.4 1569.3 L1644 1569.2 L1644.2 1567 L1646.7 1571.6 L1647.8 1570.8 L1646.5 1571.1 L1645.3 1570.6 L1647 1567 L1646.5 1569.3 L1647.2 1568.8 L1649.1 1568.3 L1647.8 1568.9 L1648.7 1567 L1649.1 1567.8 L1649.2 1569.7 L1653.3 1567.8 L1653 1571.5 L1650.9 1565.9 L1654.6 1570.6 L1654.6 1565.8 L1654.4 1570.7 L1656.9 1570.1 L1654.9 1570.3 L1656.3 1569.2 L1656.1 1570.9 L1658.7 1569 L1657.9 1568.2 L1660.2 1567.9 L1660.1 1568.7 L1660.9 1565.5 L1661 1568.1 L1661.7 1564.7 L1662.4 1567.5 L1665.3 1566.6 L1664.2 1565.7 L1666.4 1563.1 L1666 1569.2 L1667.5 1564.2 L1669.1 1566 L1669.4 1564.9 L1671.7 1567.3 L1671.4 1563.6 L1674.5 1567.8 L1675.8 1564.1 L1677.6 1562.6 L1676.3 1563.8 L1681.1 1565.2 L1679.8 1564.6 L1683.5 1561.4 L1683.7 1561.8 L1683.7 1561.1 L1684.9 1561.2 L1685.6 1561.3 L1687.2 1563.6 L1690.7 1558 L1692.8 1559 L1693.1 1561.3 L1694 1559.2 L1695.9 1557.8 L1699 1557.4 L1700.4 1557.8 L1699.8 1558.7 L1700.2 1556.6 L1703 1558.5 L1706.6 1562.1 L1704.8 1558.6 L1706.7 1560.2 L1709 1560.5 L1711.4 1554.9 L1710.7 1555.4 L1715.7 1554.4 L1715.7 1555.7 L1716.7 1558.4 L1717.7 1557.6 L1721 1558.8 L1721.9 1558.4 L1723.1 1555.7 L1725.3 1557.3 L1727.9 1551.9 L1726.3 1554.6 L1730.5 1554.3 L1729.9 1557 L1731.3 1550.6 L1731.8 1550 L1735.9 1550.3 L1737.2 1555.3 L1739.8 1554.7 L1738.9 1553.1 L1741.9 1553.5 L1741.2 1553.6 L1741.9 1550.1 L1746.9 1551 L1745.4 1552.9 L1747.6 1547.2 L1747.4 1548.7 L1750 1553.2 L1751.2 1552.4 L1755.1 1549.1 L1757.1 1551.2 L1756.5 1547.4 L1757.9 1551.7 L1759.7 1546.4 L1760.5 1548.2 L1761.3 1548.6 L1762.1 1550 L1764.2 1544.7 L1767.3 1545.9 L1770 1547 L1770 1549.1 L1770.2 1548.2 L1773.4 1545.7 L1776.1 1542.6 L1777.2 1543.2 L1778.5 1543.1 L1776.8 1545.2 L1781.7 1543.3 L1781.4 1545.5 L1781.8 1544.7 L1782.3 1543.9 L1786.7 1542.9 L1785.9 1540.6 L1789.2 1543 L1791.4 1545 L1789.4 1546 L1794.1 1545.1 L1795 1543.9 L1795.8 1543.6 L1796.6 1540.5 L1796 1543.6 L1799.1 1538.7 L1800.5 1542.3 L1801.2 1543.3 L1803.9 1540.3 L1804.8 1541 L1804.9 1540.2 L1807.5 1540.2 L1808.7 1539.3 L1808.7 1543.1 L1809.8 1539.2 L1808.5 1539.8 L1810.9 1541.9 L1813.4 1543 L1813.2 1538.7 L1814.7 1540.9 L1813.8 1537 L1815.1 1537.6 L1816.7 1542 L1817.4 1541.6 L1818.7 1536.3 L1822.4 1535.3 L1820 1535.4 L1820.7 1537.1 L1822.3 1535.3 L1822.5 1539 L1823.5 1535.5 L1826.5 1540 L1827.8 1538.6 L1828.9 1539.1 L1830.4 1534.4 L1828.1 1537.6 L1830.8 1536.7 L1832.7 1534.2 L1833.2 1535.8 L1832.9 1534.4 L1833.2 1536.6 L1835.1 1538.8 L1834.7 1537.4 L1834.8 1536.8 L1835.8 1538.2 L1839.7 1533.8 L1839.8 1533.5 L1838.5 1532.6 L1839.8 1532.5 L1841.5 1535.8 L1841 1536.6 L1840.9 1533.9 L1842 1531.5 L1844.7 1532.1 L1842.2 1537 L1845.6 1534.5 L1844.6 1532.3 L1843.5 1534.9 L1844.9 1532.3 L1848.1 1531.4 L1846.4 1536.5 L1848.4 1532 L1848.8 1535.2 L1848.8 1537.8 L1849.8 1535.4 L1850.1 1534.7 L1849.6 1537 L1850.2 1533.9 L1848.1 1536.8 L1849.6 1534.4 L1849.7 1535.3 L1850.3 1537.3 L1851.3 1535.4 L1852.3 1534.6 L1851.5 1536.9 L1852.4 1536.9 L1853.2 1535.7 L1852 1533.1 L1850.8 1534.9 L1852 1538.3 L1850.2 1534.5 L1853.1 1535.4 L1853.6 1533.4 L1853.3 1535.4 L1852.5 1532.9 L1851.9 1538.2 L1853.2 1536.6 L1852 1533.1 L1853.1 1536.1 L1853.2 1537.3 L1851.8 1539.3 L1850.7 1540 L1850.5 1540.2 L1852.5 1536.7 L1853.8 1537.3 L1852 1534.3 L1853.1 1538.5 L1850.8 1534.9 L1851.5 1540.8 L1853.2 1537.7 L1849.8 1540.4 L1850.4 1539.9 L1851.5 1541.7 L1850 1540.6 L1852.2 1535.4 L1851.5 1537.5 L1852 1542.3 L1851.8 1539.2 L1851.5 1537.6 L1850.9 1536.9 L1851.8 1536.7 L1851 1537.7 L1851.1 1537 L1848.9 1541.2 L1851.6 1543.2 L1851.3 1544.1 L1849 1541.8 L1850.9 1538.8 L1848.8 1539.4 L1850.2 1543.5 L1850.8 1542.2 L1848.1 1543.4 L1849.7 1539.8 L1850 1540.5 L1848.6 1542.2 L1850.2 1540 L1848.8 1541.1 L1849.5 1545.4 L1847.7 1545 L1848.3 1541.7 L1847.3 1544.2 L1849.2 1544.9 L1845.8 1546.4 L1847.9 1544.2 L1846.3 1544.5 L1847.9 1543.6 L1845.5 1548.1 L1846.5 1542.7 L1848.1 1543.2 L1845.7 1547.1 L1846.7 1549.3 L1844.5 1547.2 L1847.1 1546.8 L1846.3 1547 L1846 1550.8 L1844.3 1549.5 L1844.1 1550.8 L1845.6 1550.9 L1845.8 1549.3 L1845.9 1546.5 L1844.2 1546.2 L1844.1 1550.7 L1842.7 1551.9 L1843.1 1547.8 L1842 1550.8 L1842.6 1547.3 L1842.1 1554.1 L1842.6 1552.3 L1842.3 1548.3 L1842.9 1549.5 L1840.8 1552.6 L1842.9 1548.6 L1843.9 1549 L1840.6 1551.4 L1843.1 1554.6 L1842.7 1552.6 L1843.3 1550.8 L1843.4 1550.5 L1840.1 1555.7 L1842.4 1555.4 L1840.2 1557 L1841.2 1552.7 L1839.4 1558.4 L1839.2 1553.3 L1840.3 1558.3 L1842.1 1558.2 L1841.2 1552.7 L1841.6 1554.2 L1842.3 1559.9 L1838.7 1558.5 L1839.3 1554.4 L1841.8 1557.1 L1839.4 1558.2 L1838.4 1557.5 L1840.7 1560.8 L1838.5 1561.3 L1838.4 1556.8 L1839.2 1556.8 L1838.2 1560.5 L1839.4 1557.5 L1839.8 1557.3 L1840.4 1563.5 L1839.5 1560 L1839.2 1559.9 L1839.2 1558.9 L1838.7 1562.7 L1839.4 1558.7 L1838 1564.3 L1838.8 1564.6 L1839.9 1563.4 L1838.8 1563.4 L1839 1563.2 L1841.1 1560.6 L1838.2 1566.5 L1841.1 1566.1 L1840.8 1561.5 L1840.2 1561.9 L1840.8 1564.1 L1839.3 1565.2 L1838.2 1565.8 L1840.9 1565.3 L1839.2 1565 L1838.2 1564.7 L1840.8 1569.8 L1839 1565.3 L1838.9 1569.6 L1838.7 1565.1 L1838.9 1564.7 L1838.3 1566 L1840.4 1571.2 L1838.9 1567 L1840.2 1565.5 L1838.3 1569.6 L1839.9 1568.3 L1839.8 1566.2 L1839.2 1567.6 L1839.2 1567.1 L1841.6 1567 L1840.1 1568.4 L1839.3 1572.8 L1842.5 1574.5 L1840 1571.8 L1840.5 1568.9 L1840.6 1572.9 L1840.6 1574.4 L1840.9 1571.2 L1842.8 1573.4 L1840.4 1576.1 L1841.4 1574.2 L1841.5 1576.3 L1842.6 1573.7 L1841.3 1576.3 L1843.3 1575.4 L1843.6 1575.2 L1841.9 1574 L1841.4 1573.1 L1844.2 1576.2 L1841 1574.1 L1842.5 1578.6 L1844.3 1578.6 L1842.2 1576.5 L1845 1576.6 L1843.9 1574.5 L1843.4 1578 L1845.2 1581.5 L1844.8 1577.4 L1845.4 1581.8 L1842.3 1578.7 L1844.4 1578.2 L1843.3 1581.9 L1843.3 1580.6 L1842.7 1580.3 L1846.6 1577.4 L1843.4 1584 L1846.8 1581.6 L1844.4 1580.4 L1846.4 1582.8 L1845.4 1583.9 L1844.2 1582.1 L1847.5 1586.1 L1846.1 1585.6 L1847.8 1584.1 L1845.1 1581.5 L1847.4 1583.5 L1847 1581.8 L1848.8 1583.8 L1847.8 1586.6 L1846.9 1584.1 L1847.9 1585.3 L1846.2 1584.6 L1846.2 1590 L1847.1 1590.5 L1848.9 1591.1 L1848.5 1586.6 L1847.2 1589.5 L1849.8 1590.3 L1850.9 1586.6 L1850.1 1591.2 L1851.5 1588.4 L1851.6 1587.2 L1850.5 1589.7 L1850.4 1589 L1850.1 1590.6 L1850.6 1591.4 L1849.8 1590.1 L1851 1596.3 L1852.8 1590.8 L1852.1 1591.1 L1851.1 1597.5 L1851.3 1591.6 L1852.4 1595.4 L1852.4 1598.3 L1852.7 1594.6 L1851.6 1596.5 L1854 1596.3 L1852.8 1594.9 L1854.8 1600.5 L1853.9 1598.9 L1853.1 1595.4 L1852.2 1599 L1855.8 1599.9 L1855 1601.4 L1854.2 1598.8 L1853.8 1602 L1855.7 1600.2 L1856.2 1603.3 L1853.4 1598.8 L1855.3 1602.7 L1854.6 1601.2 L1856.5 1600.5 L1856.7 1599.2 L1855.8 1603.7 L1857.8 1603.2 L1857.2 1604.6 L1857.3 1603.5 L1856.1 1601.6 L1858.6 1606.6 L1857.8 1606.8 L1856.6 1603.2 L1857.7 1605.6 L1858.3 1608.8 L1857.5 1605.7 L1858.9 1609.6 L1858.5 1608 L1860 1610.7 L1856.8 1611.4 L1857.1 1608.9 L1858.9 1612.3 L1858 1606.1 L1861.1 1609.4 L1859.3 1609.6 L1858.7 1607.2 L1860 1608.9 L1859.9 1614.7 L1862 1610.3 L1859.6 1609.3 L1860.9 1610.1 L1859.1 1615.7 L1861 1615.9 L1859.8 1611.3 L1861.4 1615.2 L1860 1614.3 L1861.7 1614.7 L1860.9 1614.7 L1860.3 1612.6 L1860.2 1618.1 L1861.2 1617.4 L1860.8 1619.2 L1860.6 1619 L1862.8 1620.1 L1864.4 1614.2 L1861.2 1616.2 L1861.4 1620.9 L1862 1620 L1865.3 1620.5 L1865.7 1620.5 L1863.5 1623.2 L1863 1620.6 L1864 1620.9 L1863.7 1624.2 L1866.6 1622.7 L1864.8 1624.9 L1866.8 1618.9 L1866.8 1619.7 L1863.8 1621.1 L1865.1 1623.1 L1867.6 1621.1 L1866.6 1624 L1864.7 1627.8 L1868.1 1623.6 L1868.1 1624.8 L1867.5 1628.5 L1867.5 1624.9 L1865.4 1626 L1867.7 1625 L1867.9 1623.6 L1866.8 1627.2 L1867.9 1629.1 L1867.1 1626.5 L1869.2 1626.9 L1867.1 1629.6 L1868.1 1629.7 L1870.7 1632.8 L1870.2 1633.1 L1870.4 1629.2 L1871.1 1627.9 L1868.4 1630.9 L1868.2 1631.9 L1870.1 1629.5 L1871 1628.9 L1870.2 1630.6 L1872.1 1630 L1870 1634.3 L1869.9 1635.4 L1869.3 1630.4 L1869 1634.1 L1871 1634.2 L1871.1 1636.9 L1870.2 1632.1 L1870.5 1637.1 L1872.8 1632.4 L1869.7 1638.8 L1873.7 1634 L1872.1 1632.7 L1872.1 1633.8 L1872.9 1633.9 L1872.5 1635.4 L1872.3 1640 L1872.6 1640.4 L1873.5 1635.4 L1871.7 1639.7 L1873.9 1635.2 L1874.2 1636.5 L1873.3 1640.9 L1874.8 1636.1 L1871.8 1636.9 L1873.8 1642 L1874.1 1640.8 L1874.9 1639 L1873.2 1641.5 L1874.2 1642.2 L1875.8 1639.5 L1873.3 1637.3 L1874.4 1638.8 L1873.4 1640.3 L1875.1 1641.7 L1874.1 1641.7 L1874.8 1643.7 L1875.1 1643.4 L1873.4 1643.6 L1872.5 1643.5 L1872.6 1642.2 L1873.7 1639.2 L1875.6 1639.2 L1875.4 1638.9 L1873.5 1641.3 L1875 1643.3 L1874.2 1644.9 L1872.9 1640.3 L1874.3 1643.3 L1875.4 1645.4 L1874.1 1643.8 L1875.5 1640.6 L1874.1 1642.7 L1875 1643.4 L1873.1 1641.2 L1873.8 1640.6 L1875.6 1646.3 L1875.3 1641.7 L1874.7 1640.5 L1873.1 1642.2 L1874.5 1644.6 L1874.2 1641.8 L1873.9 1646 L1875.3 1643.4 L1873.5 1647 L1871.8 1645.2 L1872 1646.7 L1874.2 1641.6 L1871.6 1647.8 L1872.5 1645.3 L1873.5 1644 L1871.5 1646.4 L1872.4 1644.4 L1874.2 1648 L1872 1643.8 L1873.8 1644.6 L1874.2 1644.1 L1870.7 1643.5 L1874 1645.6 L1874.2 1647.3 L1872.9 1642.8 L1871.7 1641.7 L1871.2 1643.1 L1873.4 1642.7 L1870.9 1641.8 L1869.9 1646.5 L1870.8 1645.2 L1872.2 1646.5 L1869.6 1646.9 L1871.2 1645.8 L1870.2 1648.1 L1870.4 1642.1 L1871.1 1646.4 L1868.5 1647.2 L1870.8 1646.9 L1868.7 1647.6 L1866.7 1642.2 L1867.7 1645.5 L1868.2 1646.6 L1867.3 1644.6 L1867.8 1646 L1865.2 1646.1 L1865.8 1647.7 L1866.2 1649.1 L1866 1645.9 L1865.1 1644.5 L1864 1649.4 L1861.7 1645.6 L1862.3 1647.7 L1860.7 1647.6 L1859.7 1649.7 L1858.9 1647.6 L1860.9 1647.1 L1858.2 1645.9 L1859.9 1646.7 L1857.8 1650.3 L1856.6 1649.5 L1856.2 1649.8 L1855.5 1645.1 L1853 1646.2 L1852 1648.6 L1851.9 1647.2 L1849.3 1651.7 L1850.2 1646.5 L1849.9 1645.8 L1846.8 1652 L1847.8 1648.1 L1844.6 1650.9 L1844 1648.3 L1843.1 1650.6 L1841.8 1646.8 L1843.1 1650.3 L1839.1 1647.3 L1841.1 1650.6 L1838.4 1653.6 L1835.2 1648.2 L1834.7 1652.6 L1833.1 1651.9 L1834.6 1651 L1832.9 1648.7 L1831 1651.2 L1830.5 1651.6 L1829.2 1655.4 L1829 1655 L1826.9 1656.3 L1824.5 1649.9 L1824.7 1652.5 L1821.6 1656.9 L1820.6 1651.4 L1821.3 1650.8 L1816.7 1655.9 L1815.9 1656.3 L1813.9 1653.5 L1814.2 1656.1 L1814.3 1656.7 L1810.9 1658.1 L1809 1655.5 L1807.7 1658 L1808.2 1656 L1808.8 1654.8 L1806.4 1658.2 L1802.8 1659 L1802.6 1659 L1803 1656.4 L1800.3 1657.2 L1797.8 1658.5 L1799 1661.5 L1796.6 1658.9 L1796 1660.7 L1794.8 1662.3 L1794.1 1662.6 L1791.2 1660 L1788.8 1660 L1788.8 1659.1 L1789.1 1663.1 L1787.3 1659.3 L1784.9 1663.5 L1782.8 1661.8 L1780.6 1664.6 L1780.7 1661.4 L1780.5 1660.5 L1777.7 1661.7 L1777.8 1662.6 L1776.6 1665.1 L1771.8 1663.8 L1771.9 1661 L1772 1665.9 L1771 1663.9 L1766.2 1665.4 L1767.6 1663 L1765.8 1664.7 L1762.9 1668.5 L1762.7 1668.7 L1761.6 1668 L1757.9 1667.6 L1756 1668.1 L1757 1665.8 L1755.1 1670 L1754.1 1665.6 L1753.8 1669.2 L1749.7 1667 L1748.4 1667.4 L1749 1667.2 L1748 1667 L1744.2 1667.1 L1744.5 1666.1 L1740.6 1671.2 L1741.5 1666.9 L1738.9 1666.5 L1739.1 1672.4 L1734.5 1672 L1734 1673.7 L1732.2 1673.6 L1731.3 1671.1 L1730.9 1673.1 L1728.7 1673.2 L1729 1672.6 L1724.6 1671.3 L1723.8 1675.4 L1723.1 1674.8 L1721.6 1670.7 L1719.2 1674.2 L1717.4 1672.7 L1717.6 1676.3 L1717.3 1670.3 L1713.9 1673.1 L1714.1 1671 L1712.2 1672.6 L1710.4 1673.3 L1707.1 1677 L1708.3 1673.7 L1704.9 1672.9 L1703.4 1674.6 L1701 1678.3 L1700.8 1673.9 L1698.6 1673.4 L1697.9 1675.4 L1697.8 1675 L1694 1674.1 L1694.5 1674.3 L1690.9 1674 L1691 1675.9 L1690.4 1676.3 L1689.4 1675.7 L1686.1 1679.6 L1686.7 1680 L1684.6 1678 L1682.3 1681.2 L1680.6 1677.8 L1680.7 1678.9 L1680.3 1677.6 L1678.7 1680.7 L1674.7 1682.1 L1675.7 1682.3 L1673.8 1682.2 L1672.7 1682.5 L1672.6 1677.7 L1671.8 1677.6 L1669.2 1679.1 L1667.8 1678.8 L1666.2 1682.1 L1665.5 1680.7 L1663.5 1678.4 L1664.7 1680.2 L1663.3 1683.9 L1660.4 1679.4 L1662.5 1682.6 L1661.4 1678.9 L1659 1684 L1660.3 1683.1 L1659.5 1680.6 L1657.4 1684.9 L1654.6 1682.7 L1654.4 1682.2 L1655.9 1681.7 L1652 1682.3 L1653.1 1680.8 L1653.3 1681 L1651.2 1682.9 L1648.7 1685.4 L1650.4 1681.2 L1650.9 1684.7 L1648.9 1682.9 L1648.6 1681 L1647 1679.7 L1644.8 1683.8 L1646 1685.6 L1645.8 1684.9 L1645.3 1682.6 L1645 1681.1 L1645.3 1684.3 L1642.6 1684.8 L1642 1682.2 L1642.2 1686.9 L1641.5 1686.4 L1640.1 1687 L1641.7 1685.7 L1637.7 1686.8 L1639.1 1683.7 L1639.6 1684.6 L1639.1 1684.5 L1635.9 1687.2 L1635.5 1684.3 L1635 1681.2 L1635.5 1683.6 L1633.4 1686.7 L1634.7 1685.1 L1632.5 1683.4 L1634.3 1685.3 L1632.4 1683.4 L1633.9 1684.5 L1630.6 1685.9 L1631.7 1686.2 L1629.7 1684.5 L1629.5 1681.6 L1629.4 1685.9 L1629 1687.8 L1627.6 1686.3 L1629.2 1686.6 L1626 1688.4 L1625.5 1681.9 L1626.6 1683.7 L1625.1 1682.8 L1626.4 1682 L1623.9 1688.8 L1622.6 1686.8 L1624.1 1684.4 L1623.6 1683.1 L1623.9 1687.9 L1622.9 1682.3 L1620.9 1683.2 L1623 1682.2 L1621.7 1688.8 L1621.9 1683.8 L1621.2 1683.1 L1619 1687.5 L1618.6 1683.9 L1618.8 1685.1 L1619.3 1688.1 L1615.8 1688.1 L1616 1683.9 L1618.7 1689 L1616.6 1688.6 L1616.4 1684.2 L1615.7 1687.1 L1613.7 1684.7 L1616 1687 L1612.9 1683.4 L1616.3 1683.3 L1615.6 1687.6 L1613 1684.3 L1613.1 1683.3 L1612.1 1689.3 L1613.1 1688.3 L1614.1 1683.8 L1613.7 1688 L1610.9 1684.8 L1612 1686.2 L1612.6 1685.4 L1613.8 1689 L1612 1688.4 L1611 1688.5 L1610.2 1687.1 L1612.4 1686.8 L1611.2 1686.5 L1611.9 1683.4 L1611.9 1686.4 L1614.2 1687.8 L1613.1 1684.9 L1613.2 1683.2 L1612 1687.2 L1612 1681.8 L1611.1 1681.5 L1613.9 1681.6 L1614.5 1684.2 L1613.5 1683.6 L1614.6 1686 L1614.5 1684.6 L1613.2 1684.5 L1614.2 1684.1 L1616.5 1684.3 L1616.2 1683.6 L1615 1686.3 L1614.5 1685.4 L1616.8 1681.6 L1614.9 1685.9 L1618.1 1682.8 L1615.6 1681 L1617.5 1681 L1615.8 1683.8 L1619.5 1679.6 L1620 1679.2 L1617.5 1679.8 L1618.9 1680.8 L1619.3 1680.1 L1619.8 1683.4 L1619.6 1679.7 L1621.4 1683.1 L1621.9 1684.9 L1620.7 1682 L1622 1680.6 L1621.9 1680.6 L1622 1680.5 L1624 1681.7 L1624.8 1683.4 L1622.8 1678.7 L1624 1683.2 L1622.8 1679.3 L1624.6 1677.2 L1626.5 1682.4 L1624.6 1681.8 L1624.5 1676.9 L1626.6 1678.3 L1625.9 1681.6 L1627.8 1680.2 L1628.6 1677.8 L1628.9 1681.2 L1628.2 1677.1 L1628.1 1680.6 L1630.5 1677.2 L1629.8 1681.2 L1631.3 1675.9 L1629.9 1675.8 L1631.5 1679.8 L1632.6 1677.2 L1632.1 1674.3 L1630.6 1677.3 L1632.3 1677.4 L1632.9 1677.7 L1633.7 1673.9 L1634.7 1673.7 L1632 1677.4 L1632.4 1678.3 L1634.4 1676.8 L1636.9 1677.4 L1636.8 1674.1 L1635.9 1675.2 L1635.5 1675.5 L1636.6 1674.8 L1635.6 1675.6 L1637.5 1673.6 L1639.9 1676.5 L1637.8 1677.6 L1640.6 1671.8 L1638.1 1671.7 L1641.9 1676.1 L1640.9 1675.3 L1643 1674.3 L1639.7 1672 L1640.9 1674.6 L1641.5 1674.6 L1641 1675.3 L1641.7 1671 L1644.6 1669.7 L1642.4 1673.6 L1645.8 1669.3 L1643.3 1673.3 L1644.3 1674.4 L1644.7 1670.6 L1646.4 1668.7 L1647.7 1669.5 L1647.4 1674 L1648.2 1672.1 L1645.6 1670.5 L1646.3 1672.4 L1645.9 1668.4 L1648.9 1671.4 L1649.9 1672.2 L1650.3 1670.3 L1648.8 1672.4 L1648.1 1666.5 L1648.9 1672.3 L1649.6 1667.8 L1649.1 1670.9 L1649.7 1666.7 L1651.9 1670.1 L1650.5 1670.4 L1652.3 1667.8 L1653.7 1669.1 L1650.5 1664.4 L1653.4 1668.2 L1651.3 1669.8 L1651.6 1664.5 L1652.5 1667.6 L1654.4 1669.5 L1653 1663.1 L1653 1663.8 L1655.9 1665.1 L1654.4 1665.6 L1656.6 1662.6 L1654.8 1663 L1654.5 1667.7 L1654.2 1663.5 L1657.5 1667.2 L1657 1663.3 L1656.5 1665 L1658.7 1666.4 L1657.4 1666.4 L1656.8 1662.8 L1658.8 1665.3 L1658.8 1663.1 L1656 1662.3 L1659 1661.7 L1658.6 1663.9 L1657.4 1661.5 L1660 1664.4 L1660.3 1657.4 L1659.4 1661.9 L1660.4 1662.9 L1659.1 1659.3 L1657.7 1662 L1660.5 1661.9 L1659.1 1657.3 L1659.1 1659.9 L1658.8 1654.9 L1659.7 1657 L1660.4 1657.8 L1662.2 1655 L1662 1660.5 L1661.1 1656.9 L1659.8 1659.7 L1660.5 1659 L1661.2 1653.2 L1660.7 1654.5 L1660.4 1652.5 L1660.6 1653.4 L1659.9 1656.6 L1660.2 1653.7 L1659.5 1651.3 L1662.9 1650.3 L1661.5 1650.7 L1661.3 1654.6 L1661.5 1653.7 L1661.3 1655.1 L1661 1650.1 L1660.4 1654.1 L1662.1 1652.7 L1661.9 1651.7 L1660.4 1653 L1662.7 1650.9 L1663.1 1651.3 L1659.9 1652.1 L1662 1651.4 L1661.2 1645.1 L1660.5 1648.9 L1659.8 1644.4 L1663 1645.9 L1661.9 1645 L1660 1648.6 L1660.2 1646.6 L1661 1644.6 L1662.5 1648.9 L1661.6 1644 L1659.4 1646.7 L1662.9 1647.7 L1659.4 1645.7 L1659.7 1642.4 L1662.2 1645.2 L1659.9 1643.8 L1661.3 1641.3 L1662.8 1644.1 L1659.4 1638.8 L1661.5 1640.4 L1661.4 1643.1 L1661 1642 L1662.7 1642.3 L1660.7 1641.7 L1662.9 1639.8 L1662.1 1639.7 L1659.2 1640.7 L1659.4 1641.7 L1662.2 1639.6 L1662.6 1634.9 L1661.9 1640.8 L1659.8 1636.7 L1658.9 1638.7 L1658.7 1637.8 L1660.7 1637.6 L1661.4 1639.4 L1661.2 1638.4 L1658.8 1635.4 L1661.1 1638.3 L1659.5 1637.3 L1660.5 1637.2 L1659.7 1632.7 L1661.6 1634.4 L1660.7 1634 L1661.3 1631.9 L1658.2 1635.2 L1660.4 1629.2 L1661.7 1634.8 L1660 1630.2 L1660.7 1633.3 L1661.1 1631.4 L1660.7 1633.7 L1660.3 1629.6 L1658 1628.1 L1659.6 1632.6 L1657.7 1629.9 L1660.6 1627.9 L1658.9 1630.3 L1658.6 1624.6 L1658.3 1624.6 L1660.6 1626.8 L1660.3 1624.5 L1658.2 1628 L1657.2 1625.8 L1658.3 1622.6 L1657.8 1628.9 L1658.2 1622.3 L1659 1623.8 L1658.1 1627.2 L1656.9 1621.5 L1657.5 1624 L1657.9 1623.1 L1659.4 1625.2 L1658.9 1624.5 L1657.1 1622.5 L1657.3 1621.4 L1658.5 1620.6 L1657 1618.9 L1656.1 1620.5 L1658.6 1619 L1657.6 1620.5 L1654.9 1616.8 L1656.1 1621 L1655.2 1616.9 L1655.5 1618.6 L1654.7 1620.6 L1656.1 1620.8 L1657.4 1621.2 L1654.5 1620.3 L1655.8 1617.1 L1657 1613.6 L1654.9 1618.8 L1653.7 1618.2 L1655.6 1612.5 L1653.6 1614.2 L1655.9 1618.1 L1656.1 1611.6 L1655.4 1614.7 L1654.6 1613 L1656 1614.8 L1656.4 1611.3 L1653.9 1610.7 L1653.2 1610.4 L1654.8 1611.2 L1655.3 1613.1 L1652.5 1610.8 L1655.1 1613.1 L1651.8 1614.2 L1653.3 1613.8 L1653.8 1611.8 L1652.6 1607.7 L1654.1 1609 L1652.8 1610.2 L1654.5 1606.4 L1653.9 1611.5 L1651.1 1605.6 L1654.1 1611.1 L1652.9 1609.7 L1650.4 1607.2 L1654 1604.4 L1651.7 1604 L1651.4 1602.7 L1653 1603.7 L1653.5 1603.4 L1651.6 1604 L1650.7 1601.9 L1649.4 1607.8 L1651.6 1601.6 L1653 1602.2 L1651.4 1602.5 L1649.7 1602.4 L1649 1602.2 L1648.7 1601.6 L1648.9 1604 L1649.4 1598.6 L1651.7 1604 L1649.9 1597.8 L1649.8 1603.8 L1650.2 1596.9 L1648.4 1602.9 L1649.5 1599.4 L1649.6 1599.5 L1649.8 1598 L1647.3 1597.5 L1648.5 1600 L1648.4 1600.9 L1647.4 1597.7 L1650.5 1598.1 L1646.6 1596.1 L1650.1 1594 L1647.3 1598.4 L1649.3 1593.9 L1648.8 1595.2 L1649.4 1591.5 L1646 1596.9 L1649.1 1593.8 L1648.2 1590.4 L1646.9 1591.3 L1646.1 1593.2 L1648.6 1589.7 L1647.9 1590 L1647.4 1592.6 L1646.5 1588.6 L1646.3 1594 L1645.3 1592.7 L1647.8 1589.8 L1644.6 1589.1 L1646.9 1590.6 L1646.4 1587.5 L1645.3 1591.1 L1646.4 1588.4 L1644.8 1585.8 L1644.3 1588.7 L1644.6 1586.3 L1646.8 1587.6 L1644 1586.6 L1646.6 1586.4 L1642.8 1586.5 L1645.2 1586.5 L1643.4 1586.6 L1643.7 1584.9 L1642.7 1583.9 L1642.7 1587.3 L1643.3 1586.7 L1641.9 1587.5 L1643 1585.1 L1644.6 1586 L1645.4 1583.2 L1643.1 1585.4 L1641.9 1585.5 L1644.5 1583.3 L1641.6 1582.4 L1643.4 1581.6 L1643.6 1580.3 L1641.6 1582.5 L1642.8 1581.4 L1643.2 1582.3 L1643.3 1578.5 L1641.8 1580.6 L1641.3 1583.5 L1642.3 1579.1 L1641.8 1578.5 L1643.3 1578 L1639.8 1577.1 L1639.8 1578 L1639.2 1579.8 L1639.7 1582.2 L1640.9 1576.6 L1640.3 1581.8 L1642.4 1579 L1642 1579.7 L1642 1581.6 L1640.4 1575.6 L1639.5 1576.3 L1641.1 1579.2 L1641.1 1576.4 L1639.3 1577.6 L1640.4 1574.1 L1641.2 1579.9 L1638.4 1575.6 L1639.4 1578.2 L1641 1577.1 L1638.5 1579 L1640.7 1572.9 L1641 1576.2 L1639.8 1574.4 L1638.9 1578.7 L1640 1575.3 L1637.6 1578.1 L1640.2 1578.3 L1637.2 1576.3 L1640.5 1574.6 L1640 1575.5 L1639 1574.4 L1638.1 1576.6 L1638.6 1576.6 L1636.9 1571.6 L1639.4 1570.9 L1636.5 1573.8 L1638.9 1570.8 L1636.7 1574.5 L1639.3 1572.7 L1636.1 1573.4 L1636.3 1572.5 L1639.1 1571.9 L1635.4 1570 L1637 1570.4 L1638.3 1574.6 L1637.3 1575.3 L1637.3 1571.3 L1637.7 1574.1 L1638.3 1575.7 L1635.8 1570.1 L1636.4 1569.3 L1637.1 1574 L1638.4 1569.1 L1639 1571.3 L1639 1570.7 L1636.8 1570.5 L1637.2 1568.5 L1636.2 1572 L1638.8 1570 L1640.1 1570.1 L1637.2 1575 L1639.4 1569.8 L1640.3 1568.2 L1637 1568.7Z" fill="none" stroke="#f7dcdc" stroke-width="1.5" stroke-linejoin="round" filter="url(#dil)"/>
<path d="M1639.2 1571.2 C1643.7 1569.3 1650.8 1569 1667 1565.9 C1683.2 1562.9 1713.2 1557 1736.4 1552.8 C1759.5 1548.5 1787.3 1543.6 1805.8 1540.6 C1824.3 1537.6 1839.9 1534.8 1847.4 1534.7 C1854.9 1534.6 1851.7 1537 1850.9 1539.9 C1850 1542.8 1844.1 1547.7 1842.2 1552.1 C1840.3 1556.4 1839 1561.2 1839.4 1565.9 C1839.8 1570.7 1842.1 1575 1844.6 1580.5 C1847.1 1586 1851.3 1592.7 1854.4 1598.9 C1857.4 1605.2 1860.1 1611.9 1863 1618 C1865.9 1624.1 1869.8 1631 1871.7 1635.3 C1873.6 1639.7 1875.9 1642.2 1874.1 1644 C1872.4 1645.9 1872.7 1644.3 1861.3 1646.4 C1849.9 1648.6 1826.6 1652.9 1805.8 1656.9 C1785 1660.8 1759.5 1666.1 1736.4 1670 C1713.2 1674 1684.3 1678 1667 1680.5 C1649.6 1682.9 1641.4 1683.7 1632.3 1684.6 C1623.1 1685.5 1613.3 1686.5 1612.2 1685.7 C1611 1684.8 1619.7 1682.1 1625.3 1679.8 C1631 1677.4 1640.5 1675.1 1646.2 1671.8 C1651.8 1668.4 1656.9 1664.5 1659.3 1659.6 C1661.8 1654.7 1661.3 1648.1 1661.1 1642.3 C1660.9 1636.5 1659.8 1630.7 1658.3 1624.9 C1656.9 1619.2 1654.4 1613.4 1652.4 1607.6 C1650.4 1601.8 1648.2 1595.3 1646.2 1590.2 C1644.1 1585.1 1641.1 1580.2 1639.9 1577.1 C1638.8 1573.9 1634.7 1573 1639.2 1571.2Z" fill="none" stroke="#e8948d" stroke-width="6.5" stroke-linejoin="round"/>
<path d="M1614.9 1645.8 C1613.8 1645.2 1622.3 1642.7 1625.3 1639.9 C1628.4 1637 1629.8 1632 1633 1628.4 C1636.2 1624.8 1639.6 1620.9 1644.4 1618 C1649.2 1615.1 1652.2 1613.4 1661.8 1611.1 C1671.3 1608.7 1683.5 1607.3 1701.7 1604.1 C1719.9 1600.9 1750.8 1595.2 1771.1 1592 C1791.3 1588.8 1809.5 1586.8 1823.1 1585 C1836.7 1583.2 1852.6 1580.8 1852.6 1581.2 C1852.6 1581.6 1829.7 1585.1 1823.1 1587.5 C1816.6 1589.8 1815.8 1592.4 1813.4 1595.4 C1811 1598.5 1810.7 1602.8 1808.5 1605.9 C1806.4 1608.9 1804.5 1611.8 1800.6 1613.8 C1796.6 1615.9 1795.7 1616 1785 1618 C1774.3 1620 1756 1622.4 1736.4 1625.6 C1716.7 1628.8 1684.3 1634.1 1667 1637.1 C1649.6 1640 1641 1641.9 1632.3 1643.3 C1623.6 1644.8 1616.1 1646.3 1614.9 1645.8Z" fill="none" stroke="#7aaadd" stroke-width="7" stroke-linejoin="round"/>
</g>
</svg>
</body></html>
